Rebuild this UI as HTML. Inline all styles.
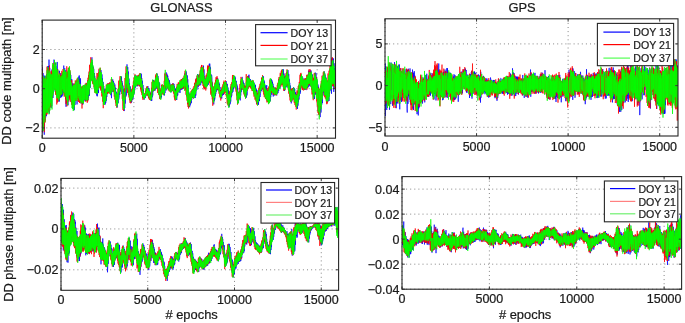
<!DOCTYPE html>
<html><head><meta charset="utf-8"><style>
html,body{margin:0;padding:0;background:#fff;}
svg{display:block;will-change:transform;filter:blur(0.35px);}
text{font-family:"Liberation Sans", sans-serif;fill:#1a1a1a;stroke:#1a1a1a;stroke-width:0.22px;}
</style></head><body>
<svg width="685" height="323" viewBox="0 0 685 323">
<defs><clipPath id="clipTL"><rect x="42.2" y="20.1" width="293.3" height="118.1"/></clipPath><clipPath id="clipTR"><rect x="385.0" y="18.8" width="293.0" height="117.2"/></clipPath><clipPath id="clipBL"><rect x="61.0" y="178.4" width="277.6" height="111.9"/></clipPath><clipPath id="clipBR"><rect x="402.0" y="176.6" width="279.6" height="112.6"/></clipPath></defs>
<rect width="685" height="323" fill="#fff"/>
<line x1="42.20" y1="49.50" x2="335.50" y2="49.50" stroke="#858585" stroke-width="1" stroke-dasharray="1 3.1"/>
<line x1="42.20" y1="88.70" x2="335.50" y2="88.70" stroke="#858585" stroke-width="1" stroke-dasharray="1 3.1"/>
<line x1="42.20" y1="127.90" x2="335.50" y2="127.90" stroke="#858585" stroke-width="1" stroke-dasharray="1 3.1"/>
<line x1="42.20" y1="20.10" x2="42.20" y2="138.20" stroke="#858585" stroke-width="1" stroke-dasharray="1 3.1"/>
<line x1="133.86" y1="20.10" x2="133.86" y2="138.20" stroke="#858585" stroke-width="1" stroke-dasharray="1 3.1"/>
<line x1="225.51" y1="20.10" x2="225.51" y2="138.20" stroke="#858585" stroke-width="1" stroke-dasharray="1 3.1"/>
<line x1="317.17" y1="20.10" x2="317.17" y2="138.20" stroke="#858585" stroke-width="1" stroke-dasharray="1 3.1"/>
<g clip-path="url(#clipTL)"><polyline points="42.00,68.50 42.25,132.60 42.50,67.16 42.75,127.21 43.00,73.09 43.25,81.78 43.50,121.31 43.75,129.17 44.00,75.54 44.25,134.73 44.50,85.38 44.75,115.46 45.00,75.87 45.25,120.49 45.50,84.70 45.75,117.34 46.00,76.59 46.25,115.16 46.50,115.99 46.75,74.08 47.00,111.78 47.25,75.25 47.50,106.57 47.75,66.10 48.00,108.41 48.25,106.31 48.50,66.05 48.75,111.05 49.00,59.58 49.25,113.64 49.50,110.48 49.75,67.83 50.00,103.89 50.25,76.48 50.50,107.03 50.75,77.53 51.00,79.56 51.25,107.84 51.50,75.30 51.75,105.92 52.00,69.45 52.25,97.88 52.50,66.13 52.75,69.20 53.00,97.94 53.25,68.56 53.50,69.96 53.75,92.00 54.00,59.59 54.25,67.74 54.50,86.80 54.75,65.95 55.00,89.72 55.25,86.64 55.50,62.68 55.75,87.83 56.00,66.17 56.25,91.40 56.50,91.80 56.75,93.53 57.00,96.84 57.25,61.96 57.50,98.45 57.75,69.38 58.00,95.58 58.25,97.24 58.50,75.95 58.75,101.46 59.00,77.61 59.25,101.51 59.50,70.76 59.75,76.89 60.00,98.05 60.25,75.95 60.50,97.32 60.75,73.23 61.00,94.43 61.25,97.27 61.50,74.84 61.75,96.82 62.00,77.01 62.25,95.69 62.50,73.34 62.75,93.42 63.00,94.44 63.25,74.37 63.50,89.43 63.75,65.58 64.00,90.52 64.25,73.95 64.50,91.93 64.75,68.21 65.00,96.17 65.25,73.27 65.50,95.40 65.75,70.23 66.00,106.77 66.25,72.99 66.50,103.00 66.75,76.11 67.00,97.49 67.25,74.71 67.50,102.45 67.75,74.30 68.00,105.32 68.25,72.17 68.50,76.51 68.75,100.78 69.00,75.07 69.25,97.80 69.50,70.37 69.75,92.84 70.00,72.46 70.25,95.41 70.50,74.44 70.75,75.78 71.00,75.42 71.25,102.18 71.50,97.54 71.75,79.06 72.00,101.50 72.25,85.00 72.50,105.97 72.75,83.34 73.00,108.84 73.25,83.69 73.50,106.34 73.75,105.45 74.00,85.37 74.25,110.23 74.50,105.26 74.75,86.66 75.00,105.04 75.25,85.82 75.50,99.51 75.75,98.79 76.00,83.47 76.25,96.03 76.50,82.47 76.75,97.19 77.00,104.45 77.25,99.17 77.50,79.54 77.75,98.72 78.00,79.44 78.25,81.73 78.50,99.82 78.75,76.63 79.00,99.83 79.25,75.42 79.50,99.19 79.75,79.38 80.00,82.18 80.25,99.05 80.50,78.33 80.75,101.24 81.00,103.35 81.25,87.57 81.50,102.30 81.75,90.15 82.00,89.15 82.25,103.48 82.50,87.76 82.75,104.82 83.00,86.57 83.25,102.17 83.50,88.38 83.75,88.06 84.00,101.37 84.25,86.57 84.50,99.78 84.75,86.00 85.00,100.23 85.25,84.39 85.50,101.01 85.75,86.31 86.00,97.94 86.25,85.41 86.50,98.69 86.75,84.04 87.00,82.84 87.25,100.95 87.50,84.81 87.75,83.49 88.00,100.29 88.25,80.52 88.50,97.68 88.75,78.86 89.00,95.86 89.25,79.34 89.50,95.38 89.75,74.90 90.00,71.33 90.25,86.14 90.50,87.60 90.75,66.39 91.00,80.79 91.25,64.11 91.50,79.03 91.75,58.65 92.00,57.37 92.25,75.29 92.50,62.21 92.75,81.19 93.00,80.57 93.25,66.63 93.50,80.53 93.75,68.79 94.00,81.97 94.25,73.00 94.50,86.34 94.75,75.83 95.00,89.73 95.25,90.02 95.50,81.16 95.75,92.59 96.00,79.67 96.25,91.31 96.50,82.52 96.75,95.64 97.00,80.01 97.25,96.35 97.50,95.23 97.75,77.11 98.00,93.27 98.25,78.85 98.50,93.01 98.75,75.81 99.00,87.48 99.25,69.67 99.50,85.92 99.75,72.89 100.00,83.26 100.25,69.96 100.50,71.19 100.75,84.99 101.00,70.15 101.25,89.15 101.50,74.37 101.75,92.98 102.00,74.40 102.25,92.49 102.50,78.50 102.75,95.60 103.00,81.78 103.25,82.02 103.50,99.70 103.75,85.95 104.00,103.91 104.25,90.26 104.50,104.33 104.75,89.14 105.00,94.54 105.25,104.53 105.50,92.73 105.75,102.78 106.00,89.39 106.25,100.85 106.50,89.37 106.75,97.02 107.00,95.32 107.25,84.95 107.50,93.65 107.75,91.69 108.00,83.56 108.25,92.05 108.50,84.32 108.75,92.72 109.00,84.40 109.25,91.27 109.50,83.53 109.75,83.01 110.00,85.07 110.25,92.52 110.50,84.58 110.75,95.17 111.00,82.72 111.25,92.94 111.50,98.17 111.75,81.86 112.00,92.24 112.25,80.13 112.50,89.37 112.75,79.35 113.00,91.85 113.25,89.67 113.50,81.15 113.75,89.86 114.00,82.75 114.25,84.51 114.50,92.75 114.75,85.31 115.00,84.64 115.25,96.19 115.50,87.66 115.75,98.71 116.00,91.49 116.25,100.99 116.50,92.31 116.75,104.76 117.00,96.11 117.25,107.45 117.50,96.32 117.75,95.37 118.00,95.16 118.25,103.08 118.50,92.29 118.75,99.51 119.00,97.96 119.25,97.30 119.50,86.13 119.75,94.66 120.00,81.98 120.25,91.66 120.50,79.34 120.75,88.51 121.00,77.49 121.25,86.20 121.50,76.51 121.75,87.59 122.00,81.00 122.25,89.48 122.50,83.15 122.75,94.02 123.00,85.59 123.25,100.60 123.50,89.29 123.75,107.04 124.00,96.41 124.25,111.05 124.50,93.91 124.75,108.00 125.00,95.97 125.25,103.54 125.50,87.58 125.75,97.01 126.00,79.43 126.25,95.57 126.50,75.13 126.75,84.10 127.00,64.37 127.25,81.88 127.50,83.39 127.75,67.14 128.00,90.04 128.25,71.46 128.50,88.69 128.75,92.66 129.00,78.53 129.25,95.75 129.50,83.49 129.75,98.06 130.00,87.78 130.25,98.35 130.50,86.49 130.75,101.89 131.00,93.08 131.25,102.86 131.50,93.31 131.75,101.78 132.00,91.94 132.25,91.95 132.50,91.76 132.75,99.94 133.00,88.63 133.25,97.51 133.50,87.71 133.75,94.85 134.00,82.86 134.25,93.17 134.50,81.85 134.75,90.23 135.00,75.32 135.25,86.21 135.50,87.51 135.75,76.65 136.00,86.07 136.25,75.57 136.50,85.44 136.75,76.70 137.00,76.09 137.25,86.36 137.50,86.07 137.75,76.72 138.00,84.42 138.25,77.25 138.50,84.07 138.75,75.47 139.00,85.43 139.25,75.02 139.50,83.99 139.75,86.21 140.00,76.56 140.25,85.50 140.50,84.43 140.75,73.27 141.00,85.19 141.25,73.88 141.50,87.20 141.75,78.03 142.00,90.00 142.25,80.71 142.50,82.04 142.75,95.88 143.00,84.99 143.25,95.90 143.50,89.53 143.75,98.18 144.00,93.85 144.25,99.66 144.50,93.92 144.75,98.30 145.00,94.39 145.25,98.01 145.50,93.65 145.75,93.56 146.00,96.21 146.25,91.18 146.50,94.72 146.75,89.80 147.00,94.30 147.25,87.85 147.50,93.50 147.75,86.47 148.00,86.09 148.25,94.80 148.50,88.09 148.75,95.25 149.00,88.77 149.25,96.60 149.50,90.73 149.75,97.50 150.00,91.64 150.25,98.44 150.50,93.18 150.75,99.62 151.00,94.43 151.25,100.85 151.50,94.00 151.75,100.76 152.00,89.70 152.25,97.28 152.50,87.96 152.75,95.47 153.00,81.82 153.25,91.47 153.50,80.02 153.75,88.61 154.00,81.39 154.25,90.30 154.50,90.68 154.75,81.91 155.00,89.74 155.25,90.49 155.50,80.56 155.75,87.73 156.00,77.57 156.25,88.94 156.50,77.25 156.75,87.66 157.00,74.02 157.25,73.67 157.50,75.56 157.75,85.56 158.00,75.94 158.25,88.59 158.50,79.44 158.75,91.47 159.00,81.86 159.25,92.04 159.50,83.21 159.75,83.60 160.00,95.24 160.25,96.32 160.50,89.89 160.75,90.50 161.00,98.61 161.25,90.83 161.50,97.19 161.75,89.16 162.00,93.74 162.25,85.68 162.50,92.04 162.75,92.69 163.00,85.59 163.25,92.17 163.50,87.05 163.75,95.18 164.00,89.26 164.25,89.37 164.50,95.42 164.75,84.56 165.00,93.02 165.25,80.35 165.50,88.43 165.75,74.30 166.00,86.00 166.25,90.42 166.50,72.56 166.75,73.46 167.00,86.16 167.25,74.55 167.50,88.58 167.75,75.79 168.00,87.27 168.25,78.44 168.50,88.13 168.75,79.76 169.00,89.66 169.25,80.22 169.50,90.58 169.75,82.75 170.00,90.82 170.25,84.75 170.50,91.80 170.75,84.79 171.00,92.41 171.25,86.01 171.50,91.31 171.75,85.34 172.00,84.75 172.25,91.01 172.50,83.60 172.75,90.70 173.00,84.78 173.25,90.82 173.50,83.50 173.75,91.12 174.00,83.94 174.25,92.68 174.50,86.49 174.75,94.42 175.00,88.15 175.25,98.70 175.50,88.81 175.75,98.97 176.00,92.96 176.25,99.84 176.50,90.91 176.75,99.86 177.00,88.93 177.25,95.96 177.50,86.48 177.75,95.30 178.00,85.09 178.25,83.93 178.50,92.04 178.75,85.14 179.00,92.38 179.25,83.13 179.50,90.30 179.75,82.89 180.00,92.93 180.25,83.31 180.50,81.65 180.75,89.69 181.00,82.69 181.25,81.67 181.50,89.64 181.75,79.26 182.00,79.08 182.25,89.31 182.50,78.52 182.75,88.28 183.00,80.72 183.25,86.87 183.50,78.63 183.75,88.06 184.00,79.11 184.25,86.40 184.50,75.81 184.75,87.82 185.00,72.96 185.25,74.80 185.50,87.53 185.75,72.95 186.00,89.11 186.25,71.38 186.50,88.10 186.75,75.38 187.00,96.10 187.25,75.43 187.50,99.78 187.75,79.26 188.00,101.02 188.25,85.19 188.50,86.94 188.75,107.28 189.00,92.52 189.25,106.65 189.50,106.33 189.75,107.16 190.00,97.06 190.25,105.38 190.50,96.27 190.75,103.68 191.00,94.91 191.25,103.06 191.50,93.93 191.75,99.63 192.00,92.52 192.25,97.66 192.50,90.41 192.75,91.12 193.00,89.83 193.25,98.04 193.50,90.55 193.75,98.41 194.00,97.23 194.25,89.65 194.50,97.56 194.75,87.87 195.00,96.26 195.25,98.00 195.50,83.94 195.75,95.58 196.00,93.71 196.25,78.27 196.50,79.27 196.75,80.71 197.00,89.68 197.25,78.66 197.50,74.27 197.75,86.09 198.00,74.34 198.25,87.26 198.50,84.01 198.75,75.03 199.00,84.19 199.25,76.48 199.50,85.07 199.75,77.05 200.00,85.45 200.25,82.95 200.50,73.14 200.75,84.58 201.00,69.91 201.25,82.45 201.50,68.38 201.75,80.44 202.00,69.15 202.25,82.98 202.50,68.52 202.75,82.28 203.00,79.67 203.25,81.12 203.50,65.59 203.75,81.27 204.00,69.37 204.25,85.62 204.50,87.39 204.75,76.11 205.00,88.47 205.25,87.96 205.50,86.91 205.75,86.91 206.00,78.47 206.25,86.42 206.50,86.39 206.75,86.24 207.00,85.62 207.25,77.30 207.50,86.01 207.75,69.74 208.00,83.50 208.25,73.10 208.50,84.68 208.75,70.00 209.00,82.10 209.25,63.83 209.50,79.27 209.75,63.59 210.00,67.10 210.25,78.94 210.50,67.39 210.75,83.77 211.00,83.90 211.25,84.35 211.50,74.60 211.75,75.43 212.00,77.82 212.25,92.53 212.50,82.73 212.75,96.65 213.00,88.25 213.25,87.81 213.50,88.98 213.75,104.40 214.00,88.14 214.25,101.10 214.50,87.50 214.75,99.46 215.00,86.41 215.25,96.07 215.50,86.02 215.75,94.16 216.00,84.39 216.25,91.79 216.50,80.99 216.75,90.05 217.00,77.73 217.25,79.49 217.50,89.73 217.75,78.37 218.00,90.38 218.25,80.60 218.50,80.10 218.75,89.17 219.00,82.47 219.25,89.37 219.50,83.85 219.75,91.87 220.00,87.01 220.25,94.57 220.50,90.12 220.75,97.00 221.00,90.03 221.25,98.36 221.50,91.16 221.75,98.41 222.00,90.68 222.25,95.71 222.50,95.23 222.75,88.41 223.00,93.81 223.25,86.58 223.50,94.92 223.75,83.98 224.00,83.51 224.25,91.17 224.50,90.35 224.75,83.26 225.00,91.88 225.25,91.21 225.50,83.11 225.75,92.20 226.00,82.23 226.25,81.06 226.50,90.93 226.75,83.53 227.00,95.17 227.25,84.05 227.50,87.44 227.75,98.72 228.00,87.53 228.25,102.11 228.50,90.19 228.75,106.46 229.00,95.13 229.25,106.84 229.50,95.20 229.75,104.75 230.00,95.03 230.25,103.68 230.50,93.41 230.75,101.55 231.00,90.95 231.25,97.27 231.50,86.69 231.75,95.76 232.00,83.73 232.25,92.76 232.50,91.05 232.75,82.38 233.00,91.85 233.25,80.10 233.50,89.16 233.75,77.56 234.00,88.29 234.25,76.26 234.50,85.66 234.75,76.04 235.00,85.36 235.25,77.41 235.50,86.30 235.75,80.84 236.00,86.70 236.25,80.87 236.50,88.26 236.75,83.91 237.00,91.85 237.25,85.59 237.50,95.61 237.75,87.80 238.00,101.14 238.25,92.24 238.50,103.17 238.75,92.72 239.00,93.55 239.25,98.09 239.50,91.28 239.75,98.39 240.00,94.18 240.25,100.40 240.50,90.31 240.75,95.49 241.00,85.33 241.25,92.14 241.50,80.92 241.75,89.73 242.00,77.28 242.25,77.05 242.50,88.03 242.75,88.08 243.00,80.45 243.25,89.80 243.50,82.45 243.75,89.85 244.00,83.08 244.25,93.32 244.50,85.54 244.75,93.77 245.00,87.56 245.25,86.05 245.50,97.74 245.75,86.72 246.00,96.64 246.25,86.37 246.50,97.62 246.75,80.30 247.00,95.41 247.25,91.47 247.50,76.31 247.75,88.59 248.00,76.39 248.25,87.51 248.50,75.70 248.75,85.64 249.00,74.67 249.25,86.63 249.50,78.38 249.75,86.74 250.00,79.46 250.25,86.14 250.50,79.25 250.75,86.07 251.00,81.01 251.25,87.93 251.50,83.06 251.75,87.99 252.00,81.01 252.25,80.64 252.50,88.76 252.75,82.67 253.00,81.22 253.25,89.88 253.50,82.23 253.75,89.95 254.00,82.44 254.25,92.84 254.50,83.84 254.75,95.73 255.00,84.52 255.25,94.78 255.50,85.20 255.75,98.00 256.00,88.62 256.25,99.77 256.50,89.54 256.75,103.76 257.00,90.31 257.25,103.43 257.50,94.46 257.75,93.49 258.00,103.67 258.25,95.03 258.50,104.89 258.75,92.16 259.00,101.08 259.25,91.71 259.50,101.13 259.75,88.28 260.00,97.01 260.25,95.39 260.50,93.41 260.75,92.00 261.00,83.64 261.25,91.13 261.50,89.05 261.75,81.10 262.00,90.16 262.25,79.58 262.50,88.93 262.75,75.96 263.00,88.64 263.25,76.57 263.50,76.35 263.75,90.18 264.00,80.34 264.25,90.54 264.50,81.62 264.75,94.30 265.00,84.97 265.25,85.53 265.50,98.05 265.75,86.22 266.00,88.66 266.25,98.84 266.50,87.59 266.75,85.03 267.00,100.31 267.25,89.70 267.50,91.21 267.75,99.88 268.00,91.74 268.25,100.66 268.50,91.58 268.75,89.03 269.00,100.21 269.25,101.42 269.50,85.46 269.75,101.52 270.00,88.52 270.25,101.15 270.50,82.84 270.75,97.22 271.00,81.29 271.25,92.80 271.50,79.25 271.75,94.70 272.00,80.45 272.25,90.12 272.50,81.91 272.75,92.07 273.00,83.74 273.25,96.53 273.50,86.29 273.75,86.74 274.00,94.27 274.25,95.55 274.50,87.72 274.75,94.93 275.00,94.49 275.25,87.84 275.50,95.03 275.75,88.20 276.00,94.84 276.25,89.02 276.50,89.44 276.75,95.42 277.00,89.37 277.25,89.31 277.50,93.35 277.75,88.66 278.00,93.12 278.25,84.76 278.50,90.27 278.75,90.91 279.00,79.71 279.25,78.62 279.50,88.38 279.75,79.70 280.00,87.96 280.25,86.82 280.50,76.28 280.75,76.75 281.00,84.59 281.25,76.44 281.50,82.93 281.75,72.67 282.00,84.61 282.25,73.60 282.50,83.91 282.75,69.36 283.00,84.76 283.25,69.22 283.50,72.01 283.75,85.89 284.00,73.44 284.25,77.20 284.50,90.94 284.75,76.60 285.00,88.16 285.25,76.72 285.50,77.71 285.75,86.90 286.00,76.11 286.25,86.26 286.50,73.37 286.75,72.76 287.00,87.49 287.25,71.85 287.50,85.45 287.75,71.94 288.00,70.11 288.25,72.99 288.50,85.80 288.75,74.17 289.00,90.03 289.25,79.16 289.50,90.32 289.75,82.84 290.00,92.82 290.25,85.57 290.50,85.76 290.75,97.83 291.00,90.92 291.25,103.39 291.50,90.85 291.75,99.83 292.00,101.30 292.25,91.02 292.50,99.26 292.75,88.26 293.00,98.04 293.25,89.39 293.50,87.20 293.75,88.52 294.00,97.66 294.25,88.02 294.50,97.95 294.75,89.12 295.00,101.01 295.25,92.76 295.50,102.99 295.75,92.14 296.00,103.56 296.25,94.20 296.50,104.30 296.75,94.55 297.00,107.42 297.25,94.56 297.50,108.90 297.75,92.48 298.00,105.69 298.25,92.36 298.50,101.91 298.75,89.77 299.00,99.60 299.25,85.84 299.50,95.79 299.75,83.57 300.00,94.00 300.25,82.09 300.50,92.38 300.75,77.64 301.00,77.65 301.25,86.20 301.50,76.08 301.75,85.08 302.00,76.28 302.25,87.44 302.50,87.67 302.75,77.90 303.00,77.72 303.25,79.17 303.50,87.13 303.75,80.04 304.00,89.53 304.25,89.42 304.50,89.34 304.75,80.36 305.00,89.89 305.25,78.58 305.50,80.78 305.75,87.99 306.00,89.64 306.25,89.82 306.50,78.89 306.75,87.77 307.00,78.48 307.25,88.08 307.50,76.37 307.75,86.92 308.00,75.70 308.25,87.32 308.50,70.59 308.75,73.43 309.00,84.34 309.25,85.14 309.50,71.31 309.75,86.25 310.00,83.00 310.25,70.39 310.50,83.11 310.75,82.98 311.00,70.45 311.25,87.10 311.50,72.72 311.75,84.94 312.00,74.75 312.25,88.39 312.50,74.57 312.75,92.69 313.00,77.45 313.25,79.86 313.50,96.49 313.75,78.94 314.00,96.36 314.25,77.99 314.50,99.06 314.75,77.86 315.00,94.39 315.25,72.51 315.50,74.43 315.75,94.64 316.00,73.12 316.25,92.88 316.50,77.05 316.75,91.16 317.00,93.67 317.25,80.52 317.50,82.64 317.75,101.33 318.00,84.52 318.25,110.79 318.50,86.76 318.75,111.96 319.00,91.31 319.25,114.30 319.50,88.98 319.75,90.76 320.00,114.47 320.25,117.12 320.50,89.56 320.75,111.27 321.00,112.54 321.25,111.66 321.50,84.93 321.75,104.69 322.00,85.79 322.25,101.65 322.50,103.12 322.75,79.28 323.00,95.53 323.25,75.23 323.50,91.98 323.75,73.35 324.00,93.11 324.25,71.39 324.50,91.50 324.75,73.59 325.00,94.21 325.25,75.19 325.50,95.48 325.75,92.96 326.00,78.12 326.25,77.61 326.50,96.82 326.75,80.72 327.00,81.56 327.25,102.54 327.50,102.15 327.75,82.60 328.00,101.48 328.25,80.90 328.50,98.58 328.75,77.82 329.00,100.98 329.25,78.08 329.50,96.00 329.75,69.77 330.00,69.18 330.25,90.72 330.50,68.99 330.75,68.65 331.00,87.49 331.25,66.54 331.50,93.73 331.75,60.89 332.00,86.42 332.25,57.75 332.50,84.22 332.75,58.24 333.00,85.25 333.25,82.82 333.50,58.50 333.75,91.92 334.00,63.20 334.25,64.51 334.50,83.65 334.75,68.14 335.00,69.47 335.25,86.49 335.50,73.44" fill="none" stroke="#0000ff" stroke-width="0.7" stroke-linejoin="round"/><polyline points="42.00,66.01 42.25,131.61 42.50,71.27 42.75,82.61 43.00,127.23 43.25,129.06 43.50,83.69 43.75,125.50 44.00,77.73 44.25,132.22 44.50,78.77 44.75,111.98 45.00,79.97 45.25,122.41 45.50,77.75 45.75,107.04 46.00,79.82 46.25,115.05 46.50,77.89 46.75,105.45 47.00,66.61 47.25,114.31 47.50,67.70 47.75,103.33 48.00,68.44 48.25,110.09 48.50,73.42 48.75,112.29 49.00,69.98 49.25,110.19 49.50,65.43 49.75,105.66 50.00,74.49 50.25,107.48 50.50,77.37 50.75,106.94 51.00,71.26 51.25,103.11 51.50,71.79 51.75,96.79 52.00,70.51 52.25,97.78 52.50,65.16 52.75,94.37 53.00,68.28 53.25,87.16 53.50,66.70 53.75,64.09 54.00,62.84 54.25,88.03 54.50,62.01 54.75,67.30 55.00,90.16 55.25,67.65 55.50,94.78 55.75,68.56 56.00,92.85 56.25,72.10 56.50,98.85 56.75,104.47 57.00,96.84 57.25,69.16 57.50,102.51 57.75,70.78 58.00,70.68 58.25,101.32 58.50,98.80 58.75,76.73 59.00,98.93 59.25,74.55 59.50,98.27 59.75,72.96 60.00,95.24 60.25,74.97 60.50,94.79 60.75,75.85 61.00,95.11 61.25,75.34 61.50,94.69 61.75,70.85 62.00,73.53 62.25,72.85 62.50,90.70 62.75,88.90 63.00,69.08 63.25,91.42 63.50,92.88 63.75,72.15 64.00,96.47 64.25,95.38 64.50,74.35 64.75,95.78 65.00,74.10 65.25,74.93 65.50,99.26 65.75,76.22 66.00,103.97 66.25,79.06 66.50,102.02 66.75,66.27 67.00,106.26 67.25,72.39 67.50,97.89 67.75,71.55 68.00,101.78 68.25,68.16 68.50,95.79 68.75,67.49 69.00,92.38 69.25,68.32 69.50,96.23 69.75,99.58 70.00,70.36 70.25,101.79 70.50,78.01 70.75,99.18 71.00,80.59 71.25,86.50 71.50,104.78 71.75,80.24 72.00,86.24 72.25,87.26 72.50,86.76 72.75,108.03 73.00,86.45 73.25,107.60 73.50,84.06 73.75,105.36 74.00,84.85 74.25,83.54 74.50,100.35 74.75,83.85 75.00,100.83 75.25,80.41 75.50,99.84 75.75,81.15 76.00,100.91 76.25,81.14 76.50,98.30 76.75,79.48 77.00,98.73 77.25,78.20 77.50,99.09 77.75,78.01 78.00,100.79 78.25,101.54 78.50,80.71 78.75,102.01 79.00,82.03 79.25,98.05 79.50,102.81 79.75,87.53 80.00,102.94 80.25,88.46 80.50,100.42 80.75,87.98 81.00,101.71 81.25,86.59 81.50,101.85 81.75,88.93 82.00,108.54 82.25,86.68 82.50,102.65 82.75,85.83 83.00,103.34 83.25,87.93 83.50,102.23 83.75,87.58 84.00,99.54 84.25,85.19 84.50,98.33 84.75,96.92 85.00,98.33 85.25,83.81 85.50,84.76 85.75,101.78 86.00,82.90 86.25,86.51 86.50,100.04 86.75,83.97 87.00,83.25 87.25,102.81 87.50,80.41 87.75,101.45 88.00,77.76 88.25,94.07 88.50,74.99 88.75,94.07 89.00,71.61 89.25,87.80 89.50,65.05 89.75,68.84 90.00,83.64 90.25,64.08 90.50,78.78 90.75,57.27 91.00,75.23 91.25,62.38 91.50,80.10 91.75,62.29 92.00,79.87 92.25,67.19 92.50,83.66 92.75,81.55 93.00,67.84 93.25,83.75 93.50,74.78 93.75,74.43 94.00,87.33 94.25,79.86 94.50,91.09 94.75,92.83 95.00,92.29 95.25,91.19 95.50,82.04 95.75,93.02 96.00,93.47 96.25,80.82 96.50,93.06 96.75,76.91 97.00,72.99 97.25,78.70 97.50,89.77 97.75,73.00 98.00,73.27 98.25,86.24 98.50,72.27 98.75,87.98 99.00,68.72 99.25,86.96 99.50,70.33 99.75,86.55 100.00,87.95 100.25,67.75 100.50,75.57 100.75,90.46 101.00,77.25 101.25,90.50 101.50,79.83 101.75,96.43 102.00,82.11 102.25,84.45 102.50,82.94 102.75,101.71 103.00,85.97 103.25,108.20 103.50,91.26 103.75,104.16 104.00,91.65 104.25,103.37 104.50,93.71 104.75,100.71 105.00,90.63 105.25,100.27 105.50,89.03 105.75,99.20 106.00,94.00 106.25,84.58 106.50,93.35 106.75,85.66 107.00,93.58 107.25,84.20 107.50,93.60 107.75,83.34 108.00,93.17 108.25,84.33 108.50,91.61 108.75,83.14 109.00,93.57 109.25,83.56 109.50,92.02 109.75,82.23 110.00,93.18 110.25,82.94 110.50,93.87 110.75,93.92 111.00,91.04 111.25,79.03 111.50,90.75 111.75,79.61 112.00,89.32 112.25,88.79 112.50,88.98 112.75,82.64 113.00,89.02 113.25,83.72 113.50,91.95 113.75,85.95 114.00,85.09 114.25,96.55 114.50,86.68 114.75,99.46 115.00,98.68 115.25,91.83 115.50,102.64 115.75,94.67 116.00,105.96 116.25,96.83 116.50,106.38 116.75,107.71 117.00,94.09 117.25,102.16 117.50,101.10 117.75,91.46 118.00,88.66 118.25,88.57 118.50,95.73 118.75,80.75 119.00,91.27 119.25,80.37 119.50,90.66 119.75,78.83 120.00,76.16 120.25,87.92 120.50,76.09 120.75,87.60 121.00,80.66 121.25,87.56 121.50,81.77 121.75,94.00 122.00,84.90 122.25,98.87 122.50,90.12 122.75,106.72 123.00,109.94 123.25,93.85 123.50,110.90 123.75,97.39 124.00,105.98 124.25,103.88 124.50,88.71 124.75,99.58 125.00,78.01 125.25,90.21 125.50,73.37 125.75,87.04 126.00,66.45 126.25,85.59 126.50,83.78 126.75,71.45 127.00,88.94 127.25,73.51 127.50,92.85 127.75,89.35 128.00,79.17 128.25,93.77 128.50,94.93 128.75,85.14 129.00,97.41 129.25,89.07 129.50,100.12 129.75,91.45 130.00,102.81 130.25,94.23 130.50,91.70 130.75,103.35 131.00,92.04 131.25,101.19 131.50,89.41 131.75,100.08 132.00,88.96 132.25,88.36 132.50,96.55 132.75,85.42 133.00,96.03 133.25,81.87 133.50,81.19 133.75,89.51 134.00,77.56 134.25,85.51 134.50,84.93 134.75,85.50 135.00,74.21 135.25,84.85 135.50,77.17 135.75,84.33 136.00,85.28 136.25,85.06 136.50,77.02 136.75,85.23 137.00,77.53 137.25,84.21 137.50,75.45 137.75,83.76 138.00,85.33 138.25,76.84 138.50,75.26 138.75,75.94 139.00,86.16 139.25,74.10 139.50,82.70 139.75,73.09 140.00,86.58 140.25,74.50 140.50,89.38 140.75,78.09 141.00,91.58 141.25,78.84 141.50,93.22 141.75,85.03 142.00,95.09 142.25,86.78 142.50,98.34 142.75,91.13 143.00,99.99 143.25,94.33 143.50,99.02 143.75,94.86 144.00,98.41 144.25,94.00 144.50,97.28 144.75,93.15 145.00,96.39 145.25,95.56 145.50,90.75 145.75,94.56 146.00,88.74 146.25,93.91 146.50,87.24 146.75,95.19 147.00,86.05 147.25,95.52 147.50,88.83 147.75,89.41 148.00,96.22 148.25,90.46 148.50,97.92 148.75,91.05 149.00,99.19 149.25,91.14 149.50,99.85 149.75,93.32 150.00,99.42 150.25,100.14 150.50,95.88 150.75,99.47 151.00,92.53 151.25,96.33 151.50,87.76 151.75,93.85 152.00,81.88 152.25,91.70 152.50,80.31 152.75,89.33 153.00,88.73 153.25,81.18 153.50,90.83 153.75,82.11 154.00,90.67 154.25,89.15 154.50,80.52 154.75,89.01 155.00,89.35 155.25,86.72 155.50,75.49 155.75,86.57 156.00,74.13 156.25,86.54 156.50,73.32 156.75,75.70 157.00,87.60 157.25,76.20 157.50,78.45 157.75,93.04 158.00,78.35 158.25,92.26 158.50,84.45 158.75,95.06 159.00,86.43 159.25,88.42 159.50,98.75 159.75,98.71 160.00,91.95 160.25,99.17 160.50,89.81 160.75,95.58 161.00,88.04 161.25,93.69 161.50,84.89 161.75,91.55 162.00,84.56 162.25,92.65 162.50,87.15 162.75,94.31 163.00,94.78 163.25,87.98 163.50,94.84 163.75,85.10 164.00,92.60 164.25,80.80 164.50,89.45 164.75,73.57 165.00,87.14 165.25,72.72 165.50,88.21 165.75,75.43 166.00,87.26 166.25,74.21 166.50,86.26 166.75,77.36 167.00,76.88 167.25,86.55 167.50,80.01 167.75,87.41 168.00,79.90 168.25,90.28 168.50,81.88 168.75,90.13 169.00,84.73 169.25,91.36 169.50,85.26 169.75,85.56 170.00,91.38 170.25,86.78 170.50,86.57 170.75,85.07 171.00,84.84 171.25,91.38 171.50,84.37 171.75,91.00 172.00,90.00 172.25,84.75 172.50,89.59 172.75,83.48 173.00,91.49 173.25,84.08 173.50,93.52 173.75,93.46 174.00,88.05 174.25,97.37 174.50,88.97 174.75,99.84 175.00,92.66 175.25,100.69 175.50,91.26 175.75,98.55 176.00,89.99 176.25,95.82 176.50,86.74 176.75,95.11 177.00,84.23 177.25,83.82 177.50,92.84 177.75,84.78 178.00,92.00 178.25,82.63 178.50,83.77 178.75,90.44 179.00,81.98 179.25,89.68 179.50,89.84 179.75,82.97 180.00,89.92 180.25,80.50 180.50,82.32 180.75,87.93 181.00,79.37 181.25,88.95 181.50,79.14 181.75,87.84 182.00,79.12 182.25,86.80 182.50,79.55 182.75,87.52 183.00,77.78 183.25,89.02 183.50,78.24 183.75,86.04 184.00,76.18 184.25,88.03 184.50,74.21 184.75,87.92 185.00,70.84 185.25,90.46 185.50,72.65 185.75,73.88 186.00,94.78 186.25,75.71 186.50,96.06 186.75,78.92 187.00,100.69 187.25,83.00 187.50,104.29 187.75,90.32 188.00,106.92 188.25,91.99 188.50,108.48 188.75,106.15 189.00,94.75 189.25,106.33 189.50,94.42 189.75,103.13 190.00,94.43 190.25,102.83 190.50,93.92 190.75,99.92 191.00,91.05 191.25,97.22 191.50,97.43 191.75,90.34 192.00,96.69 192.25,89.31 192.50,97.72 192.75,88.95 193.00,96.26 193.25,87.65 193.50,98.35 193.75,87.54 194.00,86.00 194.25,96.16 194.50,82.75 194.75,94.93 195.00,83.40 195.25,93.41 195.50,79.43 195.75,89.43 196.00,78.82 196.25,88.68 196.50,78.00 196.75,87.17 197.00,75.64 197.25,85.60 197.50,75.08 197.75,84.52 198.00,75.07 198.25,84.88 198.50,85.17 198.75,76.98 199.00,85.70 199.25,85.59 199.50,73.89 199.75,82.73 200.00,72.32 200.25,71.08 200.50,82.59 200.75,81.37 201.00,66.72 201.25,80.77 201.50,64.95 201.75,81.13 202.00,65.08 202.25,80.83 202.50,83.24 202.75,67.38 203.00,86.00 203.25,67.56 203.50,87.66 203.75,75.95 204.00,89.49 204.25,87.84 204.50,78.43 204.75,88.70 205.00,78.62 205.25,86.57 205.50,79.22 205.75,90.50 206.00,74.88 206.25,75.48 206.50,86.14 206.75,73.49 207.00,74.19 207.25,83.48 207.50,65.53 207.75,81.07 208.00,67.41 208.25,78.45 208.50,65.63 208.75,79.86 209.00,65.90 209.25,81.80 209.50,67.73 209.75,83.20 210.00,69.35 210.25,86.18 210.50,73.98 210.75,94.67 211.00,78.03 211.25,93.15 211.50,84.11 211.75,96.27 212.00,81.87 212.25,99.38 212.50,90.30 212.75,105.75 213.00,86.96 213.25,101.31 213.50,86.41 213.75,98.16 214.00,87.51 214.25,96.75 214.50,85.49 214.75,82.65 215.00,84.19 215.25,93.24 215.50,79.91 215.75,89.05 216.00,77.19 216.25,88.07 216.50,78.03 216.75,89.83 217.00,76.12 217.25,78.88 217.50,79.33 217.75,88.96 218.00,80.43 218.25,89.77 218.50,84.76 218.75,85.54 219.00,93.68 219.25,87.68 219.50,90.31 219.75,96.69 220.00,90.40 220.25,98.11 220.50,90.32 220.75,100.54 221.00,90.92 221.25,96.54 221.50,88.53 221.75,94.92 222.00,86.77 222.25,92.73 222.50,85.39 222.75,85.60 223.00,84.14 223.25,91.18 223.50,81.98 223.75,89.87 224.00,80.60 224.25,94.18 224.50,83.57 224.75,92.83 225.00,82.09 225.25,92.66 225.50,80.42 225.75,91.97 226.00,83.10 226.25,96.45 226.50,87.73 226.75,88.86 227.00,101.76 227.25,103.71 227.50,91.15 227.75,104.55 228.00,93.25 228.25,105.95 228.50,95.61 228.75,105.54 229.00,96.03 229.25,103.95 229.50,91.49 229.75,100.03 230.00,90.91 230.25,98.58 230.50,86.66 230.75,95.74 231.00,84.00 231.25,91.90 231.50,83.82 231.75,82.22 232.00,89.10 232.25,80.22 232.50,74.97 232.75,87.81 233.00,77.52 233.25,84.85 233.50,75.05 233.75,85.89 234.00,78.44 234.25,86.62 234.50,77.25 234.75,86.63 235.00,86.49 235.25,81.09 235.50,88.14 235.75,83.54 236.00,91.63 236.25,86.50 236.50,95.48 236.75,87.68 237.00,100.31 237.25,92.76 237.50,104.64 237.75,94.37 238.00,100.38 238.25,91.63 238.50,92.20 238.75,92.48 239.00,99.66 239.25,92.07 239.50,98.09 239.75,86.14 240.00,84.00 240.25,91.92 240.50,80.85 240.75,89.79 241.00,76.89 241.25,88.41 241.50,78.39 241.75,87.19 242.00,80.54 242.25,88.48 242.50,82.89 242.75,89.73 243.00,83.89 243.25,84.75 243.50,92.15 243.75,85.65 244.00,94.53 244.25,87.41 244.50,96.31 244.75,85.99 245.00,88.43 245.25,85.58 245.50,98.43 245.75,96.21 246.00,80.55 246.25,74.14 246.50,89.30 246.75,87.97 247.00,77.00 247.25,90.79 247.50,76.10 247.75,76.06 248.00,89.25 248.25,76.46 248.50,84.96 248.75,78.72 249.00,87.17 249.25,80.12 249.50,87.21 249.75,81.24 250.00,86.38 250.25,82.40 250.50,87.61 250.75,81.41 251.00,88.87 251.25,80.85 251.50,88.61 251.75,81.28 252.00,91.02 252.25,80.78 252.50,90.81 252.75,82.16 253.00,91.12 253.25,80.36 253.50,93.59 253.75,84.82 254.00,96.58 254.25,86.68 254.50,95.22 254.75,88.07 255.00,99.65 255.25,89.95 255.50,99.00 255.75,90.82 256.00,101.40 256.25,91.25 256.50,103.46 256.75,104.57 257.00,94.35 257.25,95.24 257.50,105.38 257.75,93.15 258.00,100.77 258.25,91.73 258.50,99.34 258.75,88.14 259.00,96.26 259.25,86.67 259.50,94.28 259.75,85.76 260.00,83.84 260.25,90.19 260.50,83.12 260.75,89.46 261.00,81.36 261.25,88.02 261.50,77.61 261.75,86.18 262.00,77.58 262.25,86.76 262.50,75.11 262.75,89.37 263.00,77.88 263.25,91.89 263.50,81.80 263.75,94.51 264.00,83.69 264.25,97.06 264.50,86.83 264.75,96.00 265.00,88.05 265.25,98.09 265.50,87.57 265.75,98.88 266.00,89.21 266.25,99.30 266.50,91.51 266.75,101.14 267.00,102.44 267.25,91.21 267.50,101.84 267.75,88.09 268.00,100.36 268.25,90.14 268.50,103.62 268.75,86.58 269.00,101.58 269.25,86.58 269.50,99.10 269.75,79.61 270.00,92.77 270.25,94.55 270.50,80.90 270.75,91.01 271.00,82.16 271.25,91.92 271.50,83.04 271.75,93.08 272.00,84.44 272.25,92.24 272.50,85.86 272.75,85.99 273.00,87.81 273.25,94.66 273.50,87.67 273.75,88.21 274.00,94.94 274.25,88.63 274.50,93.93 274.75,94.39 275.00,94.54 275.25,88.90 275.50,94.32 275.75,87.28 276.00,95.55 276.25,89.87 276.50,94.51 276.75,88.42 277.00,92.65 277.25,84.86 277.50,90.61 277.75,82.80 278.00,88.37 278.25,89.38 278.50,79.46 278.75,88.53 279.00,77.02 279.25,87.86 279.50,77.37 279.75,87.04 280.00,75.67 280.25,72.81 280.50,83.17 280.75,73.76 281.00,86.35 281.25,70.88 281.50,84.42 281.75,69.60 282.00,84.74 282.25,70.02 282.50,84.96 282.75,74.31 283.00,86.64 283.25,76.80 283.50,89.81 283.75,90.92 284.00,79.85 284.25,89.84 284.50,78.81 284.75,89.53 285.00,76.06 285.25,85.57 285.50,75.62 285.75,86.15 286.00,73.25 286.25,83.10 286.50,72.49 286.75,82.61 287.00,69.37 287.25,85.71 287.50,72.35 287.75,85.99 288.00,75.42 288.25,89.52 288.50,79.53 288.75,93.70 289.00,83.82 289.25,86.36 289.50,96.51 289.75,89.25 290.00,100.43 290.25,91.74 290.50,100.17 290.75,90.36 291.00,101.91 291.25,89.16 291.50,100.64 291.75,88.73 292.00,100.27 292.25,88.04 292.50,96.95 292.75,96.61 293.00,88.35 293.25,97.22 293.50,99.50 293.75,90.99 294.00,101.31 294.25,102.81 294.50,91.68 294.75,103.56 295.00,105.08 295.25,95.59 295.50,94.28 295.75,106.78 296.00,95.59 296.25,109.54 296.50,95.98 296.75,106.53 297.00,90.36 297.25,103.45 297.50,90.70 297.75,100.09 298.00,97.67 298.25,86.03 298.50,96.26 298.75,85.42 299.00,94.94 299.25,81.95 299.50,90.82 299.75,79.26 300.00,74.78 300.25,88.06 300.50,73.57 300.75,85.74 301.00,72.88 301.25,86.10 301.50,75.53 301.75,87.85 302.00,78.33 302.25,89.79 302.50,79.36 302.75,89.72 303.00,79.75 303.25,90.39 303.50,90.39 303.75,90.32 304.00,79.51 304.25,80.71 304.50,88.64 304.75,78.40 305.00,89.54 305.25,79.94 305.50,88.48 305.75,78.17 306.00,88.03 306.25,78.63 306.50,87.22 306.75,74.92 307.00,89.59 307.25,74.66 307.50,87.43 307.75,84.18 308.00,74.86 308.25,85.21 308.50,83.80 308.75,84.54 309.00,69.27 309.25,83.18 309.50,72.25 309.75,84.73 310.00,69.09 310.25,83.32 310.50,72.98 310.75,86.42 311.00,86.16 311.25,75.55 311.50,89.54 311.75,76.44 312.00,94.47 312.25,77.37 312.50,94.08 312.75,82.05 313.00,96.49 313.25,100.20 313.50,78.31 313.75,93.75 314.00,73.40 314.25,73.27 314.50,92.38 314.75,73.12 315.00,76.58 315.25,90.10 315.50,77.67 315.75,93.03 316.00,76.81 316.25,95.27 316.50,99.17 316.75,101.58 317.00,83.59 317.25,105.77 317.50,86.87 317.75,87.60 318.00,113.06 318.25,87.66 318.50,114.70 318.75,88.46 319.00,114.22 319.25,95.29 319.50,115.39 319.75,113.09 320.00,88.87 320.25,107.34 320.50,85.60 320.75,87.72 321.00,101.77 321.25,81.03 321.50,100.52 321.75,99.27 322.00,75.69 322.25,96.67 322.50,77.30 322.75,88.69 323.00,89.71 323.25,72.30 323.50,90.40 323.75,71.57 324.00,94.23 324.25,96.02 324.50,96.82 324.75,76.88 325.00,94.88 325.25,98.35 325.50,79.80 325.75,81.20 326.00,99.33 326.25,82.46 326.50,103.13 326.75,104.21 327.00,81.48 327.25,103.60 327.50,80.67 327.75,100.26 328.00,73.49 328.25,97.17 328.50,76.34 328.75,96.57 329.00,70.68 329.25,91.88 329.50,70.49 329.75,88.35 330.00,64.24 330.25,89.38 330.50,64.13 330.75,84.70 331.00,60.22 331.25,85.24 331.50,61.95 331.75,58.43 332.00,84.47 332.25,57.21 332.50,86.12 332.75,62.95 333.00,83.16 333.25,67.12 333.50,65.43 333.75,86.04 334.00,70.49 334.25,87.03 334.50,72.55 334.75,88.89 335.00,75.88 335.25,88.19 335.50,75.59" fill="none" stroke="#ff0000" stroke-width="0.7" stroke-linejoin="round"/><polyline points="42.00,71.14 42.25,120.02 42.50,79.14 42.75,130.28 43.00,83.77 43.25,131.08 43.50,76.18 43.75,118.80 44.00,83.82 44.25,116.15 44.50,78.41 44.75,122.38 45.00,121.52 45.25,112.19 45.50,75.72 45.75,113.60 46.00,82.39 46.25,108.84 46.50,79.16 46.75,112.59 47.00,70.30 47.25,112.70 47.50,74.47 47.75,112.85 48.00,66.97 48.25,108.20 48.50,108.11 48.75,73.05 49.00,114.32 49.25,70.53 49.50,106.33 49.75,72.39 50.00,110.46 50.25,73.84 50.50,103.12 50.75,78.07 51.00,101.10 51.25,74.05 51.50,105.46 51.75,75.20 52.00,109.54 52.25,102.96 52.50,63.20 52.75,95.86 53.00,95.75 53.25,69.69 53.50,92.90 53.75,65.29 54.00,64.03 54.25,90.02 54.50,60.03 54.75,87.91 55.00,65.04 55.25,90.96 55.50,64.81 55.75,88.86 56.00,62.41 56.25,93.74 56.50,68.19 56.75,98.29 57.00,72.30 57.25,74.01 57.50,98.23 57.75,69.73 58.00,96.09 58.25,77.33 58.50,100.60 58.75,74.83 59.00,97.76 59.25,99.41 59.50,73.70 59.75,78.92 60.00,97.01 60.25,76.43 60.50,94.38 60.75,92.66 61.00,78.26 61.25,94.68 61.50,75.67 61.75,75.34 62.00,94.19 62.25,76.32 62.50,89.15 62.75,72.31 63.00,89.68 63.25,72.24 63.50,91.58 63.75,69.78 64.00,93.14 64.25,69.02 64.50,92.10 64.75,72.24 65.00,96.83 65.25,71.47 65.50,71.41 65.75,95.88 66.00,74.59 66.25,71.93 66.50,99.27 66.75,78.93 67.00,100.39 67.25,77.52 67.50,103.05 67.75,105.04 68.00,70.49 68.25,100.89 68.50,68.27 68.75,95.51 69.00,69.61 69.25,95.00 69.50,66.26 69.75,95.33 70.00,70.54 70.25,95.04 70.50,75.00 70.75,99.41 71.00,99.69 71.25,82.44 71.50,101.60 71.75,85.18 72.00,108.08 72.25,87.33 72.50,86.45 72.75,108.99 73.00,87.37 73.25,111.04 73.50,84.59 73.75,110.01 74.00,84.75 74.25,106.74 74.50,84.63 74.75,103.49 75.00,85.16 75.25,100.94 75.50,82.98 75.75,97.97 76.00,80.55 76.25,100.14 76.50,98.30 76.75,81.98 77.00,100.67 77.25,81.36 77.50,81.50 77.75,77.44 78.00,98.36 78.25,82.10 78.50,96.06 78.75,79.61 79.00,99.74 79.25,99.37 79.50,83.96 79.75,100.51 80.00,86.21 80.25,83.99 80.50,101.32 80.75,86.60 81.00,103.48 81.25,102.50 81.50,88.45 81.75,101.22 82.00,102.44 82.25,86.40 82.50,103.11 82.75,88.74 83.00,101.56 83.25,85.08 83.50,103.69 83.75,85.24 84.00,99.85 84.25,87.59 84.50,99.43 84.75,84.98 85.00,99.72 85.25,97.67 85.50,83.94 85.75,85.50 86.00,100.14 86.25,86.23 86.50,101.11 86.75,85.38 87.00,100.28 87.25,83.25 87.50,98.25 87.75,81.25 88.00,100.01 88.25,80.82 88.50,94.40 88.75,79.46 89.00,94.90 89.25,73.63 89.50,89.33 89.75,71.54 90.00,87.66 90.25,82.14 90.50,85.06 90.75,63.05 91.00,81.34 91.25,62.05 91.50,78.63 91.75,59.26 92.00,80.88 92.25,60.14 92.50,79.97 92.75,79.88 93.00,65.34 93.25,84.64 93.50,68.88 93.75,83.30 94.00,72.97 94.25,88.96 94.50,78.40 94.75,88.75 95.00,92.64 95.25,77.85 95.50,93.14 95.75,81.08 96.00,92.48 96.25,79.69 96.50,80.08 96.75,93.98 97.00,80.80 97.25,93.64 97.50,79.25 97.75,89.57 98.00,76.86 98.25,87.99 98.50,89.73 98.75,87.02 99.00,72.72 99.25,86.79 99.50,70.03 99.75,84.05 100.00,67.75 100.25,85.99 100.50,72.62 100.75,85.49 101.00,73.92 101.25,86.51 101.50,72.34 101.75,92.73 102.00,80.28 102.25,79.48 102.50,94.45 102.75,82.18 103.00,100.20 103.25,84.63 103.50,104.82 103.75,89.32 104.00,103.22 104.25,93.14 104.50,104.86 104.75,93.63 105.00,94.57 105.25,101.70 105.50,90.74 105.75,101.22 106.00,87.85 106.25,95.87 106.50,85.14 106.75,94.58 107.00,83.83 107.25,84.56 107.50,91.81 107.75,85.69 108.00,91.63 108.25,84.35 108.50,92.19 108.75,84.17 109.00,90.98 109.25,84.15 109.50,84.38 109.75,93.63 110.00,83.95 110.25,82.65 110.50,94.65 110.75,83.34 111.00,83.25 111.25,93.03 111.50,77.13 111.75,79.30 112.00,89.85 112.25,80.91 112.50,91.53 112.75,89.05 113.00,82.36 113.25,88.46 113.50,82.86 113.75,89.78 114.00,85.46 114.25,93.48 114.50,86.97 114.75,95.59 115.00,88.60 115.25,99.63 115.50,91.32 115.75,100.05 116.00,92.58 116.25,103.89 116.50,94.07 116.75,107.09 117.00,97.96 117.25,104.83 117.50,93.37 117.75,104.01 118.00,91.25 118.25,88.94 118.50,99.39 118.75,88.29 119.00,93.68 119.25,85.50 119.50,91.52 119.75,80.13 120.00,90.32 120.25,79.64 120.50,87.20 120.75,76.06 121.00,86.32 121.25,89.05 121.50,88.84 121.75,82.27 122.00,89.76 122.25,93.80 122.50,85.99 122.75,100.74 123.00,88.26 123.25,93.61 123.50,109.25 123.75,97.21 124.00,97.83 124.25,109.18 124.50,92.99 124.75,91.89 125.00,100.00 125.25,99.13 125.50,80.67 125.75,91.63 126.00,73.54 126.25,83.73 126.50,69.24 126.75,66.07 127.00,85.45 127.25,88.37 127.50,69.49 127.75,86.47 128.00,74.44 128.25,89.90 128.50,77.94 128.75,94.50 129.00,94.55 129.25,84.21 129.50,98.41 129.75,97.77 130.00,87.36 130.25,100.56 130.50,92.07 130.75,101.68 131.00,93.72 131.25,93.11 131.50,100.37 131.75,91.44 132.00,99.50 132.25,89.60 132.50,89.98 132.75,97.96 133.00,88.80 133.25,96.86 133.50,83.22 133.75,91.66 134.00,79.88 134.25,93.89 134.50,77.82 134.75,75.94 135.00,87.15 135.25,75.54 135.50,86.12 135.75,75.28 136.00,84.39 136.25,77.59 136.50,86.25 136.75,76.02 137.00,85.06 137.25,76.48 137.50,83.91 137.75,77.61 138.00,83.90 138.25,77.67 138.50,84.73 138.75,75.81 139.00,84.48 139.25,76.22 139.50,85.10 139.75,74.39 140.00,84.05 140.25,73.48 140.50,87.25 140.75,85.92 141.00,78.42 141.25,87.47 141.50,79.04 141.75,80.64 142.00,92.50 142.25,84.02 142.50,96.37 142.75,88.08 143.00,97.04 143.25,91.11 143.50,98.75 143.75,93.49 144.00,98.47 144.25,94.37 144.50,98.80 144.75,94.18 145.00,97.13 145.25,94.08 145.50,96.38 145.75,91.88 146.00,94.80 146.25,89.44 146.50,94.60 146.75,87.76 147.00,93.52 147.25,87.75 147.50,93.58 147.75,88.54 148.00,88.37 148.25,95.72 148.50,89.28 148.75,96.44 149.00,91.47 149.25,97.49 149.50,91.05 149.75,98.90 150.00,98.53 150.25,99.97 150.50,100.36 150.75,95.17 151.00,99.90 151.25,93.45 151.50,98.96 151.75,89.27 152.00,96.45 152.25,82.34 152.50,90.49 152.75,79.45 153.00,90.51 153.25,81.37 153.50,82.20 153.75,82.45 154.00,91.04 154.25,82.76 154.50,88.78 154.75,81.52 155.00,88.67 155.25,79.55 155.50,88.13 155.75,77.78 156.00,88.18 156.25,76.77 156.50,86.13 156.75,73.33 157.00,86.20 157.25,75.01 157.50,87.38 157.75,76.81 158.00,88.84 158.25,78.69 158.50,92.95 158.75,94.06 159.00,82.34 159.25,82.71 159.50,95.75 159.75,88.85 160.00,98.51 160.25,91.99 160.50,92.40 160.75,99.94 161.00,90.60 161.25,96.06 161.50,87.51 161.75,93.31 162.00,86.02 162.25,92.89 162.50,84.36 162.75,91.83 163.00,86.55 163.25,93.37 163.50,88.39 163.75,95.15 164.00,88.60 164.25,86.36 164.50,93.53 164.75,81.24 165.00,90.59 165.25,69.86 165.50,85.63 165.75,75.84 166.00,86.04 166.25,75.57 166.50,89.29 166.75,77.50 167.00,87.63 167.25,77.53 167.50,85.95 167.75,79.10 168.00,88.38 168.25,80.14 168.50,81.80 168.75,89.79 169.00,82.23 169.25,90.61 169.50,84.06 169.75,90.97 170.00,85.04 170.25,91.93 170.50,90.90 170.75,92.44 171.00,90.84 171.25,84.40 171.50,91.38 171.75,85.91 172.00,89.95 172.25,90.80 172.50,85.08 172.75,84.81 173.00,90.10 173.25,84.47 173.50,91.74 173.75,85.95 174.00,92.14 174.25,87.64 174.50,88.96 174.75,95.65 175.00,91.06 175.25,98.39 175.50,92.39 175.75,99.88 176.00,90.93 176.25,98.82 176.50,88.15 176.75,97.27 177.00,87.01 177.25,93.13 177.50,84.66 177.75,92.90 178.00,84.21 178.25,91.86 178.50,84.90 178.75,91.96 179.00,89.77 179.25,84.02 179.50,90.35 179.75,80.40 180.00,88.42 180.25,82.21 180.50,88.33 180.75,80.90 181.00,88.49 181.25,82.11 181.50,88.13 181.75,80.46 182.00,87.57 182.25,79.40 182.50,87.90 182.75,79.22 183.00,87.17 183.25,78.22 183.50,85.98 183.75,78.17 184.00,86.25 184.25,74.95 184.50,90.69 184.75,86.41 185.00,74.69 185.25,85.94 185.50,69.69 185.75,69.81 186.00,87.89 186.25,75.17 186.50,94.69 186.75,78.17 187.00,97.37 187.25,82.54 187.50,102.73 187.75,83.68 188.00,102.19 188.25,87.49 188.50,90.78 188.75,92.00 189.00,106.52 189.25,93.97 189.50,104.47 189.75,96.95 190.00,103.49 190.25,94.88 190.50,101.44 190.75,92.87 191.00,100.91 191.25,92.05 191.50,99.32 191.75,90.98 192.00,96.64 192.25,89.94 192.50,97.39 192.75,89.68 193.00,96.90 193.25,89.84 193.50,98.17 193.75,88.41 194.00,96.73 194.25,88.35 194.50,97.96 194.75,86.54 195.00,94.47 195.25,83.95 195.50,93.62 195.75,92.30 196.00,82.41 196.25,91.18 196.50,89.15 196.75,87.02 197.00,87.17 197.25,75.61 197.50,85.37 197.75,74.32 198.00,84.33 198.25,84.86 198.50,85.17 198.75,77.55 199.00,84.66 199.25,77.62 199.50,83.72 199.75,74.87 200.00,74.76 200.25,69.92 200.50,83.83 200.75,72.05 201.00,80.80 201.25,67.57 201.50,80.47 201.75,68.67 202.00,81.76 202.25,67.79 202.50,80.27 202.75,67.01 203.00,79.83 203.25,84.40 203.50,72.60 203.75,83.48 204.00,75.80 204.25,86.47 204.50,78.66 204.75,79.22 205.00,86.69 205.25,78.97 205.50,86.87 205.75,79.38 206.00,87.09 206.25,87.88 206.50,77.28 206.75,87.26 207.00,76.57 207.25,86.07 207.50,73.48 207.75,82.85 208.00,71.29 208.25,83.56 208.50,68.93 208.75,80.50 209.00,77.62 209.25,66.95 209.50,80.60 209.75,66.44 210.00,81.55 210.25,69.48 210.50,82.83 210.75,87.42 211.00,75.49 211.25,77.10 211.50,90.55 211.75,81.19 212.00,96.32 212.25,86.16 212.50,97.24 212.75,87.08 213.00,88.25 213.25,102.45 213.50,91.30 213.75,102.25 214.00,87.18 214.25,97.92 214.50,84.50 214.75,97.74 215.00,85.16 215.25,93.31 215.50,83.38 215.75,92.30 216.00,81.89 216.25,88.04 216.50,79.83 216.75,89.38 217.00,79.13 217.25,88.44 217.50,79.40 217.75,80.41 218.00,88.94 218.25,82.04 218.50,79.62 218.75,90.46 219.00,84.59 219.25,92.10 219.50,87.16 219.75,94.36 220.00,94.99 220.25,91.57 220.50,97.42 220.75,91.54 221.00,97.38 221.25,90.95 221.50,96.47 221.75,89.76 222.00,89.23 222.25,93.81 222.50,88.05 222.75,93.57 223.00,86.81 223.25,92.69 223.50,84.20 223.75,92.19 224.00,90.04 224.25,82.23 224.50,83.61 224.75,81.65 225.00,91.66 225.25,83.12 225.50,91.44 225.75,82.00 226.00,82.83 226.25,92.49 226.50,94.95 226.75,85.07 227.00,98.22 227.25,86.71 227.50,100.27 227.75,89.46 228.00,104.79 228.25,94.96 228.50,94.35 228.75,108.02 229.00,107.55 229.25,94.92 229.50,103.25 229.75,94.34 230.00,102.05 230.25,90.72 230.50,99.71 230.75,89.80 231.00,95.71 231.25,85.43 231.50,93.02 231.75,84.06 232.00,91.73 232.25,92.01 232.50,79.62 232.75,88.97 233.00,79.30 233.25,87.27 233.50,75.88 233.75,87.31 234.00,75.32 234.25,86.78 234.50,76.40 234.75,86.06 235.00,79.02 235.25,80.41 235.50,81.27 235.75,87.81 236.00,82.04 236.25,89.93 236.50,85.70 236.75,94.27 237.00,96.97 237.25,99.47 237.50,90.29 237.75,104.02 238.00,93.73 238.25,103.00 238.50,92.63 238.75,97.03 239.00,92.46 239.25,97.81 239.50,94.21 239.75,98.97 240.00,90.49 240.25,97.43 240.50,84.85 240.75,91.78 241.00,79.55 241.25,88.14 241.50,78.42 241.75,85.91 242.00,87.85 242.25,78.79 242.50,89.01 242.75,82.62 243.00,83.06 243.25,90.14 243.50,91.71 243.75,83.92 244.00,85.84 244.25,93.82 244.50,88.21 244.75,88.42 245.00,96.57 245.25,87.96 245.50,98.64 245.75,87.48 246.00,96.60 246.25,81.90 246.50,92.48 246.75,81.39 247.00,77.54 247.25,90.33 247.50,76.61 247.75,88.46 248.00,77.77 248.25,85.93 248.50,78.25 248.75,86.60 249.00,78.15 249.25,84.93 249.50,78.71 249.75,79.64 250.00,86.43 250.25,80.26 250.50,85.80 250.75,81.32 251.00,82.69 251.25,82.04 251.50,88.06 251.75,82.01 252.00,90.00 252.25,79.91 252.50,90.41 252.75,80.86 253.00,90.54 253.25,80.84 253.50,92.54 253.75,83.24 254.00,92.48 254.25,95.07 254.50,83.64 254.75,96.12 255.00,87.48 255.25,97.40 255.50,89.33 255.75,97.95 256.00,99.01 256.25,100.99 256.50,93.25 256.75,91.86 257.00,102.97 257.25,95.65 257.50,105.51 257.75,94.70 258.00,95.34 258.25,94.25 258.50,101.95 258.75,90.55 259.00,99.18 259.25,90.38 259.50,95.32 259.75,88.48 260.00,93.04 260.25,85.27 260.50,90.57 260.75,84.31 261.00,81.83 261.25,90.06 261.50,79.55 261.75,88.79 262.00,79.57 262.25,87.95 262.50,76.21 262.75,87.51 263.00,77.44 263.25,87.24 263.50,77.99 263.75,81.55 264.00,91.38 264.25,83.00 264.50,93.55 264.75,83.90 265.00,96.91 265.25,88.34 265.50,98.63 265.75,98.35 266.00,90.12 266.25,97.84 266.50,89.64 266.75,99.64 267.00,91.00 267.25,100.54 267.50,91.39 267.75,101.34 268.00,91.23 268.25,101.85 268.50,104.18 268.75,89.22 269.00,103.01 269.25,88.14 269.50,103.22 269.75,84.08 270.00,101.74 270.25,78.37 270.50,95.11 270.75,78.44 271.00,91.05 271.25,81.12 271.50,90.79 271.75,82.80 272.00,83.29 272.25,92.54 272.50,84.44 272.75,92.45 273.00,87.29 273.25,93.15 273.50,88.30 273.75,88.32 274.00,93.48 274.25,87.51 274.50,94.62 274.75,89.11 275.00,93.92 275.25,93.96 275.50,94.42 275.75,88.64 276.00,93.81 276.25,89.90 276.50,94.92 276.75,90.20 277.00,94.04 277.25,88.05 277.50,87.12 277.75,90.90 278.00,83.80 278.25,89.58 278.50,81.36 278.75,89.17 279.00,79.79 279.25,88.65 279.50,77.35 279.75,87.70 280.00,78.82 280.25,85.53 280.50,76.07 280.75,84.47 281.00,75.91 281.25,84.22 281.50,74.29 281.75,83.04 282.00,72.41 282.25,82.44 282.50,69.47 282.75,71.26 283.00,85.10 283.25,75.28 283.50,88.72 283.75,74.93 284.00,89.08 284.25,78.28 284.50,88.11 284.75,78.44 285.00,79.73 285.25,90.20 285.50,76.43 285.75,86.53 286.00,76.47 286.25,86.06 286.50,73.75 286.75,83.74 287.00,83.34 287.25,69.88 287.50,84.19 287.75,72.80 288.00,87.72 288.25,75.74 288.50,90.30 288.75,78.27 289.00,91.47 289.25,81.85 289.50,93.86 289.75,85.24 290.00,96.35 290.25,97.52 290.50,89.79 290.75,101.80 291.00,90.75 291.25,101.26 291.50,91.26 291.75,99.43 292.00,90.42 292.25,100.01 292.50,99.23 292.75,88.77 293.00,89.62 293.25,97.91 293.50,97.97 293.75,87.59 294.00,88.64 294.25,99.39 294.50,91.48 294.75,101.67 295.00,93.98 295.25,102.31 295.50,95.12 295.75,105.27 296.00,105.71 296.25,96.75 296.50,107.88 296.75,94.86 297.00,106.40 297.25,94.89 297.50,103.14 297.75,93.51 298.00,103.36 298.25,88.95 298.50,97.90 298.75,95.84 299.00,84.59 299.25,96.08 299.50,83.26 299.75,91.50 300.00,89.39 300.25,89.92 300.50,76.88 300.75,87.60 301.00,76.27 301.25,85.12 301.50,74.17 301.75,85.29 302.00,76.12 302.25,86.16 302.50,78.22 302.75,86.77 303.00,86.87 303.25,88.25 303.50,80.43 303.75,88.07 304.00,79.74 304.25,88.00 304.50,79.79 304.75,80.83 305.00,89.59 305.25,79.92 305.50,88.78 305.75,79.85 306.00,88.18 306.25,79.12 306.50,88.71 306.75,78.87 307.00,76.21 307.25,87.44 307.50,77.03 307.75,85.98 308.00,74.77 308.25,84.12 308.50,74.89 308.75,83.58 309.00,71.98 309.25,83.94 309.50,73.73 309.75,72.45 310.00,83.45 310.25,72.66 310.50,85.47 310.75,85.77 311.00,73.98 311.25,86.19 311.50,71.70 311.75,88.60 312.00,74.92 312.25,92.47 312.50,92.56 312.75,80.77 313.00,94.15 313.25,98.92 313.50,80.91 313.75,96.32 314.00,80.10 314.25,96.37 314.50,75.44 314.75,89.14 315.00,73.39 315.25,91.82 315.50,76.09 315.75,91.44 316.00,77.71 316.25,94.68 316.50,98.66 316.75,80.08 317.00,98.10 317.25,78.87 317.50,85.66 317.75,105.32 318.00,88.08 318.25,111.73 318.50,108.71 318.75,109.28 319.00,88.56 319.25,119.37 319.50,89.97 319.75,113.05 320.00,110.61 320.25,87.47 320.50,89.50 320.75,106.09 321.00,83.63 321.25,109.27 321.50,103.73 321.75,80.35 322.00,83.76 322.25,99.39 322.50,77.11 322.75,92.02 323.00,75.77 323.25,91.54 323.50,75.69 323.75,90.89 324.00,71.52 324.25,89.12 324.50,76.35 324.75,95.07 325.00,73.62 325.25,94.76 325.50,78.74 325.75,95.72 326.00,78.52 326.25,101.25 326.50,78.54 326.75,100.82 327.00,82.64 327.25,101.20 327.50,81.71 327.75,101.25 328.00,80.05 328.25,97.72 328.50,75.21 328.75,99.89 329.00,93.67 329.25,96.75 329.50,72.58 329.75,92.58 330.00,68.11 330.25,88.64 330.50,65.19 330.75,86.55 331.00,61.39 331.25,89.43 331.50,63.68 331.75,83.59 332.00,61.66 332.25,84.50 332.50,60.84 332.75,83.11 333.00,60.06 333.25,83.16 333.50,65.82 333.75,84.15 334.00,65.84 334.25,83.73 334.50,70.15 334.75,87.05 335.00,75.38 335.25,86.62 335.50,77.32" fill="none" stroke="#00ff00" stroke-width="0.7" stroke-linejoin="round"/></g>
<line x1="42.20" y1="49.50" x2="45.00" y2="49.50" stroke="#3a3a3a" stroke-width="1"/>
<line x1="332.70" y1="49.50" x2="335.50" y2="49.50" stroke="#3a3a3a" stroke-width="1"/>
<line x1="42.20" y1="88.70" x2="45.00" y2="88.70" stroke="#3a3a3a" stroke-width="1"/>
<line x1="332.70" y1="88.70" x2="335.50" y2="88.70" stroke="#3a3a3a" stroke-width="1"/>
<line x1="42.20" y1="127.90" x2="45.00" y2="127.90" stroke="#3a3a3a" stroke-width="1"/>
<line x1="332.70" y1="127.90" x2="335.50" y2="127.90" stroke="#3a3a3a" stroke-width="1"/>
<line x1="42.20" y1="138.20" x2="42.20" y2="135.40" stroke="#3a3a3a" stroke-width="1"/>
<line x1="42.20" y1="20.10" x2="42.20" y2="22.90" stroke="#3a3a3a" stroke-width="1"/>
<line x1="133.86" y1="138.20" x2="133.86" y2="135.40" stroke="#3a3a3a" stroke-width="1"/>
<line x1="133.86" y1="20.10" x2="133.86" y2="22.90" stroke="#3a3a3a" stroke-width="1"/>
<line x1="225.51" y1="138.20" x2="225.51" y2="135.40" stroke="#3a3a3a" stroke-width="1"/>
<line x1="225.51" y1="20.10" x2="225.51" y2="22.90" stroke="#3a3a3a" stroke-width="1"/>
<line x1="317.17" y1="138.20" x2="317.17" y2="135.40" stroke="#3a3a3a" stroke-width="1"/>
<line x1="317.17" y1="20.10" x2="317.17" y2="22.90" stroke="#3a3a3a" stroke-width="1"/>
<rect x="42.20" y="20.10" width="293.30" height="118.10" fill="none" stroke="#262626" stroke-width="1.1"/>
<text x="39.60" y="53.90" text-anchor="end" font-size="12.5">2</text>
<text x="39.60" y="93.10" text-anchor="end" font-size="12.5">0</text>
<text x="39.60" y="132.30" text-anchor="end" font-size="12.5">−2</text>
<text x="42.20" y="152.40" text-anchor="middle" font-size="12.5">0</text>
<text x="133.86" y="152.40" text-anchor="middle" font-size="12.5">5000</text>
<text x="225.51" y="152.40" text-anchor="middle" font-size="12.5">10000</text>
<text x="317.17" y="152.40" text-anchor="middle" font-size="12.5">15000</text>
<line x1="385.00" y1="43.90" x2="678.00" y2="43.90" stroke="#858585" stroke-width="1" stroke-dasharray="1 3.1"/>
<line x1="385.00" y1="85.60" x2="678.00" y2="85.60" stroke="#858585" stroke-width="1" stroke-dasharray="1 3.1"/>
<line x1="385.00" y1="127.30" x2="678.00" y2="127.30" stroke="#858585" stroke-width="1" stroke-dasharray="1 3.1"/>
<line x1="385.00" y1="18.80" x2="385.00" y2="136.00" stroke="#858585" stroke-width="1" stroke-dasharray="1 3.1"/>
<line x1="476.56" y1="18.80" x2="476.56" y2="136.00" stroke="#858585" stroke-width="1" stroke-dasharray="1 3.1"/>
<line x1="568.12" y1="18.80" x2="568.12" y2="136.00" stroke="#858585" stroke-width="1" stroke-dasharray="1 3.1"/>
<line x1="659.69" y1="18.80" x2="659.69" y2="136.00" stroke="#858585" stroke-width="1" stroke-dasharray="1 3.1"/>
<g clip-path="url(#clipTR)"><polyline points="385.00,69.81 385.25,63.43 385.50,116.11 385.75,66.25 386.00,105.57 386.25,76.22 386.50,75.90 386.75,109.94 387.00,103.75 387.25,100.59 387.50,73.43 387.75,67.77 388.00,101.48 388.25,77.58 388.50,103.66 388.75,70.16 389.00,98.63 389.25,71.27 389.50,109.73 389.75,64.71 390.00,66.99 390.25,98.53 390.50,70.58 390.75,104.10 391.00,62.48 391.25,66.12 391.50,65.89 391.75,97.90 392.00,67.12 392.25,92.61 392.50,105.72 392.75,68.93 393.00,98.90 393.25,68.13 393.50,91.60 393.75,93.28 394.00,104.62 394.25,99.46 394.50,62.04 394.75,95.44 395.00,71.27 395.25,66.88 395.50,101.80 395.75,103.87 396.00,64.88 396.25,108.19 396.50,67.67 396.75,103.17 397.00,68.91 397.25,100.97 397.50,66.34 397.75,103.52 398.00,70.02 398.25,66.21 398.50,97.94 398.75,64.77 399.00,93.04 399.25,64.47 399.50,95.84 399.75,109.33 400.00,70.76 400.25,99.77 400.50,75.33 400.75,68.37 401.00,95.66 401.25,76.33 401.50,101.95 401.75,90.36 402.00,76.71 402.25,92.08 402.50,71.47 402.75,73.51 403.00,95.08 403.25,75.53 403.50,90.85 403.75,93.23 404.00,71.71 404.25,95.97 404.50,71.83 404.75,95.51 405.00,69.24 405.25,75.82 405.50,79.20 405.75,74.47 406.00,97.47 406.25,78.42 406.50,100.49 406.75,69.06 407.00,108.36 407.25,112.56 407.50,70.08 407.75,73.34 408.00,103.83 408.25,68.67 408.50,96.10 408.75,96.20 409.00,73.48 409.25,97.66 409.50,71.82 409.75,99.34 410.00,68.43 410.25,102.12 410.50,72.90 410.75,103.78 411.00,105.14 411.25,98.90 411.50,73.66 411.75,98.31 412.00,78.56 412.25,101.93 412.50,69.57 412.75,108.63 413.00,73.10 413.25,103.84 413.50,110.04 413.75,72.57 414.00,101.25 414.25,71.11 414.50,104.39 414.75,75.52 415.00,76.04 415.25,83.42 415.50,102.45 415.75,106.61 416.00,103.09 416.25,82.78 416.50,109.58 416.75,83.11 417.00,114.15 417.25,111.74 417.50,83.19 417.75,109.59 418.00,85.11 418.25,115.43 418.50,82.95 418.75,108.42 419.00,84.78 419.25,107.31 419.50,88.78 419.75,84.46 420.00,100.71 420.25,79.60 420.50,102.60 420.75,82.49 421.00,100.31 421.25,80.10 421.50,102.10 421.75,84.18 422.00,101.46 422.25,84.46 422.50,103.54 422.75,99.63 423.00,78.60 423.25,98.68 423.50,81.02 423.75,99.78 424.00,77.39 424.25,99.12 424.50,80.22 424.75,102.39 425.00,77.16 425.25,75.11 425.50,79.14 425.75,94.32 426.00,75.05 426.25,78.68 426.50,94.74 426.75,73.75 427.00,78.06 427.25,96.24 427.50,82.58 427.75,78.84 428.00,96.17 428.25,82.09 428.50,95.91 428.75,96.97 429.00,76.76 429.25,94.59 429.50,79.19 429.75,94.95 430.00,90.25 430.25,73.90 430.50,95.64 430.75,91.64 431.00,72.97 431.25,92.46 431.50,79.40 431.75,77.46 432.00,89.41 432.25,80.39 432.50,96.46 432.75,73.70 433.00,96.16 433.25,74.98 433.50,97.86 433.75,74.78 434.00,99.44 434.25,76.11 434.50,93.85 434.75,78.49 435.00,92.21 435.25,75.87 435.50,94.28 435.75,69.34 436.00,100.45 436.25,70.69 436.50,95.95 436.75,73.87 437.00,88.03 437.25,65.53 437.50,92.17 437.75,69.79 438.00,91.91 438.25,95.93 438.50,73.50 438.75,63.49 439.00,94.46 439.25,72.48 439.50,94.47 439.75,70.66 440.00,91.81 440.25,98.69 440.50,77.59 440.75,76.37 441.00,75.42 441.25,91.49 441.50,71.87 441.75,95.62 442.00,76.40 442.25,72.67 442.50,100.18 442.75,95.25 443.00,76.59 443.25,99.65 443.50,72.01 443.75,95.97 444.00,71.76 444.25,90.98 444.50,77.48 444.75,74.81 445.00,69.56 445.25,89.34 445.50,71.30 445.75,97.36 446.00,94.01 446.25,77.22 446.50,94.96 446.75,68.17 447.00,77.21 447.25,97.90 447.50,68.23 447.75,89.01 448.00,93.72 448.25,74.28 448.50,94.34 448.75,76.09 449.00,88.86 449.25,76.71 449.50,76.12 449.75,95.33 450.00,73.27 450.25,90.03 450.50,72.78 450.75,98.72 451.00,77.46 451.25,78.81 451.50,76.13 451.75,79.95 452.00,91.91 452.25,79.32 452.50,99.80 452.75,95.01 453.00,94.82 453.25,76.38 453.50,99.56 453.75,82.18 454.00,74.27 454.25,98.01 454.50,100.09 454.75,97.18 455.00,75.18 455.25,99.45 455.50,96.82 455.75,98.42 456.00,97.35 456.25,80.17 456.50,81.48 456.75,91.87 457.00,76.93 457.25,91.78 457.50,77.74 457.75,94.05 458.00,77.85 458.25,101.79 458.50,74.31 458.75,91.66 459.00,79.27 459.25,94.85 459.50,78.17 459.75,93.06 460.00,78.21 460.25,92.81 460.50,92.13 460.75,76.06 461.00,93.57 461.25,71.57 461.50,90.45 461.75,78.41 462.00,90.84 462.25,72.98 462.50,93.43 462.75,73.53 463.00,70.92 463.25,70.25 463.50,86.81 463.75,69.84 464.00,69.24 464.25,89.00 464.50,69.81 464.75,88.16 465.00,89.12 465.25,85.59 465.50,68.59 465.75,85.24 466.00,71.26 466.25,69.99 466.50,92.28 466.75,88.44 467.00,92.94 467.25,76.38 467.50,75.29 467.75,74.56 468.00,90.56 468.25,88.72 468.50,77.01 468.75,89.97 469.00,77.60 469.25,76.67 469.50,97.99 469.75,93.13 470.00,74.29 470.25,95.71 470.50,95.65 470.75,74.08 471.00,90.31 471.25,72.29 471.50,93.88 471.75,70.87 472.00,98.61 472.25,75.94 472.50,94.38 472.75,76.73 473.00,93.98 473.25,89.30 473.50,72.51 473.75,89.41 474.00,71.93 474.25,88.68 474.50,71.43 474.75,87.61 475.00,91.45 475.25,72.69 475.50,89.01 475.75,72.96 476.00,88.84 476.25,93.93 476.50,75.77 476.75,79.22 477.00,77.18 477.25,95.47 477.50,74.96 477.75,79.28 478.00,94.95 478.25,93.15 478.50,74.46 478.75,94.17 479.00,76.78 479.25,75.44 479.50,97.59 479.75,78.06 480.00,99.40 480.25,75.62 480.50,102.59 480.75,71.79 481.00,97.72 481.25,79.95 481.50,91.74 481.75,78.19 482.00,77.89 482.25,92.07 482.50,79.35 482.75,93.68 483.00,77.67 483.25,92.29 483.50,75.89 483.75,89.84 484.00,77.60 484.25,92.30 484.50,77.54 484.75,81.25 485.00,94.22 485.25,80.18 485.50,93.00 485.75,80.86 486.00,78.43 486.25,81.41 486.50,89.97 486.75,91.14 487.00,78.53 487.25,95.35 487.50,81.88 487.75,94.42 488.00,80.49 488.25,96.57 488.50,80.37 488.75,97.68 489.00,80.71 489.25,80.67 489.50,96.82 489.75,82.98 490.00,94.34 490.25,82.52 490.50,77.53 490.75,79.74 491.00,80.18 491.25,81.37 491.50,79.86 491.75,92.41 492.00,91.51 492.25,92.12 492.50,81.83 492.75,80.39 493.00,91.20 493.25,80.71 493.50,80.23 493.75,92.24 494.00,79.91 494.25,91.63 494.50,80.48 494.75,82.42 495.00,98.18 495.25,82.53 495.50,96.80 495.75,97.26 496.00,82.45 496.25,94.85 496.50,82.90 496.75,83.91 497.00,100.80 497.25,97.01 497.50,83.30 497.75,97.84 498.00,93.95 498.25,83.11 498.50,93.63 498.75,79.22 499.00,93.43 499.25,81.22 499.50,94.06 499.75,81.28 500.00,82.63 500.25,90.99 500.50,89.59 500.75,78.24 501.00,78.40 501.25,80.89 501.50,91.83 501.75,81.27 502.00,93.66 502.25,91.51 502.50,93.53 502.75,79.43 503.00,92.10 503.25,78.36 503.50,93.72 503.75,78.95 504.00,92.48 504.25,81.92 504.50,89.74 504.75,81.21 505.00,90.34 505.25,80.98 505.50,92.17 505.75,92.23 506.00,78.86 506.25,92.05 506.50,80.45 506.75,93.12 507.00,76.53 507.25,76.49 507.50,94.72 507.75,89.78 508.00,79.24 508.25,93.39 508.50,77.41 508.75,94.02 509.00,76.51 509.25,93.14 509.50,80.75 509.75,94.27 510.00,79.26 510.25,93.07 510.50,73.52 510.75,93.62 511.00,76.97 511.25,89.26 511.50,77.50 511.75,95.71 512.00,77.00 512.25,92.31 512.50,68.34 512.75,95.30 513.00,78.72 513.25,94.07 513.50,72.49 513.75,90.70 514.00,73.07 514.25,91.92 514.50,78.07 514.75,96.23 515.00,76.32 515.25,89.76 515.50,78.76 515.75,96.01 516.00,76.43 516.25,90.18 516.50,76.91 516.75,92.92 517.00,93.93 517.25,76.51 517.50,90.71 517.75,77.24 518.00,91.84 518.25,77.39 518.50,94.50 518.75,81.36 519.00,92.89 519.25,80.36 519.50,89.52 519.75,91.47 520.00,81.44 520.25,90.56 520.50,81.27 520.75,90.53 521.00,92.02 521.25,81.54 521.50,91.69 521.75,79.06 522.00,93.27 522.25,79.48 522.50,95.35 522.75,74.97 523.00,93.78 523.25,82.53 523.50,78.90 523.75,94.60 524.00,79.13 524.25,97.88 524.50,78.04 524.75,92.06 525.00,80.09 525.25,91.42 525.50,75.42 525.75,96.37 526.00,75.85 526.25,80.03 526.50,80.52 526.75,96.73 527.00,80.07 527.25,75.96 527.50,91.33 527.75,97.72 528.00,76.90 528.25,91.47 528.50,80.46 528.75,93.58 529.00,79.40 529.25,93.11 529.50,76.29 529.75,90.65 530.00,79.81 530.25,76.92 530.50,69.54 530.75,96.75 531.00,74.48 531.25,88.96 531.50,73.33 531.75,92.01 532.00,75.08 532.25,91.20 532.50,74.52 532.75,78.49 533.00,90.74 533.25,74.02 533.50,88.25 533.75,73.53 534.00,90.28 534.25,78.96 534.50,89.08 534.75,78.68 535.00,72.89 535.25,93.80 535.50,76.73 535.75,78.36 536.00,92.87 536.25,76.21 536.50,90.84 536.75,76.54 537.00,92.10 537.25,75.82 537.50,91.33 537.75,79.33 538.00,92.86 538.25,78.75 538.50,93.51 538.75,79.40 539.00,77.23 539.25,76.40 539.50,92.21 539.75,78.26 540.00,88.39 540.25,74.34 540.50,77.99 540.75,92.99 541.00,78.63 541.25,91.72 541.50,73.91 541.75,88.44 542.00,72.53 542.25,72.99 542.50,88.06 542.75,86.93 543.00,74.19 543.25,87.20 543.50,88.80 543.75,76.54 544.00,88.52 544.25,88.13 544.50,76.58 544.75,88.13 545.00,70.17 545.25,88.41 545.50,79.31 545.75,89.99 546.00,77.23 546.25,91.58 546.50,80.83 546.75,95.58 547.00,76.94 547.25,96.58 547.50,77.19 547.75,80.15 548.00,92.18 548.25,79.62 548.50,76.01 548.75,99.09 549.00,81.91 549.25,81.13 549.50,95.69 549.75,83.59 550.00,99.70 550.25,82.68 550.50,82.99 550.75,94.40 551.00,79.47 551.25,78.09 551.50,78.39 551.75,81.94 552.00,95.67 552.25,76.51 552.50,95.58 552.75,97.43 553.00,79.09 553.25,94.80 553.50,76.22 553.75,98.80 554.00,97.22 554.25,97.85 554.50,81.19 554.75,94.38 555.00,78.83 555.25,98.81 555.50,94.41 555.75,75.85 556.00,101.95 556.25,78.78 556.50,96.68 556.75,75.72 557.00,92.14 557.25,75.86 557.50,77.94 557.75,98.03 558.00,95.31 558.25,75.06 558.50,94.20 558.75,79.06 559.00,97.67 559.25,77.13 559.50,93.88 559.75,74.83 560.00,97.04 560.25,94.85 560.50,78.30 560.75,96.06 561.00,82.56 561.25,102.31 561.50,82.68 561.75,93.91 562.00,81.23 562.25,95.62 562.50,79.70 562.75,78.78 563.00,96.57 563.25,82.11 563.50,91.05 563.75,93.20 564.00,82.81 564.25,79.49 564.50,90.93 564.75,90.34 565.00,79.63 565.25,96.14 565.50,77.52 565.75,101.19 566.00,80.30 566.25,99.20 566.50,81.52 566.75,95.38 567.00,77.03 567.25,97.85 567.50,81.07 567.75,100.76 568.00,79.11 568.25,80.37 568.50,99.31 568.75,98.04 569.00,69.76 569.25,98.16 569.50,72.31 569.75,98.27 570.00,72.74 570.25,91.56 570.50,71.76 570.75,90.30 571.00,72.43 571.25,90.90 571.50,71.12 571.75,71.37 572.00,94.12 572.25,91.19 572.50,67.93 572.75,99.88 573.00,68.45 573.25,73.75 573.50,95.20 573.75,77.47 574.00,93.99 574.25,71.07 574.50,92.15 574.75,75.34 575.00,97.76 575.25,92.78 575.50,72.91 575.75,74.05 576.00,79.79 576.25,91.00 576.50,79.32 576.75,90.59 577.00,81.09 577.25,77.48 577.50,74.34 577.75,90.06 578.00,77.73 578.25,80.18 578.50,93.26 578.75,94.40 579.00,76.80 579.25,92.11 579.50,74.32 579.75,89.88 580.00,78.61 580.25,75.34 580.50,71.84 580.75,75.69 581.00,89.62 581.25,75.52 581.50,77.64 581.75,93.87 582.00,77.42 582.25,89.27 582.50,89.61 582.75,75.45 583.00,93.65 583.25,77.81 583.50,99.11 583.75,79.11 584.00,99.26 584.25,80.13 584.50,81.80 584.75,95.70 585.00,78.39 585.25,104.20 585.50,83.04 585.75,99.62 586.00,76.28 586.25,98.10 586.50,69.20 586.75,93.11 587.00,75.09 587.25,92.25 587.50,96.63 587.75,76.70 588.00,75.52 588.25,76.72 588.50,90.88 588.75,80.62 589.00,95.21 589.25,75.98 589.50,92.71 589.75,97.14 590.00,75.92 590.25,77.67 590.50,97.03 590.75,74.62 591.00,99.80 591.25,80.12 591.50,97.04 591.75,95.64 592.00,77.15 592.25,93.30 592.50,96.83 592.75,77.94 593.00,88.86 593.25,72.98 593.50,78.93 593.75,92.93 594.00,75.95 594.25,74.99 594.50,94.74 594.75,95.74 595.00,94.33 595.25,73.67 595.50,95.19 595.75,75.27 596.00,93.65 596.25,74.17 596.50,79.81 596.75,92.54 597.00,73.04 597.25,98.08 597.50,74.88 597.75,96.44 598.00,72.52 598.25,97.79 598.50,91.03 598.75,77.52 599.00,93.61 599.25,75.83 599.50,94.94 599.75,72.10 600.00,70.14 600.25,91.87 600.50,74.86 600.75,96.51 601.00,76.29 601.25,93.74 601.50,75.78 601.75,96.56 602.00,93.32 602.25,70.04 602.50,88.48 602.75,68.99 603.00,72.54 603.25,90.86 603.50,76.33 603.75,92.38 604.00,88.04 604.25,73.23 604.50,76.62 604.75,92.97 605.00,71.77 605.25,98.67 605.50,95.54 605.75,73.23 606.00,91.04 606.25,98.41 606.50,70.85 606.75,91.99 607.00,92.45 607.25,92.39 607.50,95.36 607.75,77.03 608.00,92.66 608.25,73.71 608.50,95.67 608.75,89.04 609.00,68.79 609.25,67.85 609.50,95.03 609.75,71.30 610.00,96.13 610.25,70.50 610.50,94.02 610.75,68.63 611.00,98.55 611.25,95.74 611.50,96.99 611.75,94.75 612.00,70.35 612.25,69.74 612.50,102.44 612.75,69.96 613.00,99.47 613.25,67.50 613.50,98.76 613.75,70.92 614.00,93.98 614.25,73.09 614.50,99.06 614.75,71.48 615.00,95.88 615.25,78.44 615.50,96.11 615.75,72.17 616.00,99.29 616.25,73.68 616.50,100.17 616.75,77.63 617.00,98.93 617.25,104.41 617.50,97.03 617.75,101.75 618.00,77.52 618.25,83.40 618.50,105.08 618.75,84.11 619.00,103.80 619.25,74.05 619.50,111.88 619.75,108.03 620.00,108.15 620.25,75.55 620.50,71.48 620.75,111.87 621.00,102.75 621.25,69.44 621.50,74.16 621.75,109.90 622.00,77.19 622.25,99.36 622.50,75.96 622.75,103.36 623.00,76.62 623.25,101.05 623.50,76.77 623.75,103.06 624.00,67.10 624.25,70.26 624.50,92.37 624.75,71.36 625.00,98.67 625.25,102.33 625.50,76.05 625.75,73.01 626.00,68.67 626.25,73.13 626.50,100.04 626.75,100.66 627.00,67.83 627.25,95.94 627.50,63.36 627.75,98.66 628.00,64.67 628.25,101.97 628.50,93.23 628.75,72.06 629.00,72.08 629.25,93.62 629.50,70.69 629.75,94.41 630.00,94.48 630.25,70.07 630.50,93.57 630.75,64.24 631.00,73.00 631.25,101.02 631.50,66.96 631.75,97.30 632.00,67.88 632.25,101.17 632.50,92.30 632.75,70.97 633.00,95.16 633.25,91.80 633.50,95.34 633.75,93.32 634.00,74.42 634.25,74.14 634.50,92.49 634.75,75.29 635.00,99.47 635.25,70.71 635.50,66.59 635.75,95.48 636.00,91.90 636.25,67.14 636.50,92.52 636.75,67.12 637.00,99.34 637.25,71.32 637.50,104.93 637.75,75.80 638.00,103.04 638.25,75.01 638.50,102.17 638.75,67.38 639.00,101.01 639.25,73.01 639.50,73.00 639.75,115.12 640.00,99.77 640.25,101.12 640.50,77.61 640.75,97.20 641.00,68.30 641.25,93.84 641.50,74.69 641.75,93.23 642.00,99.37 642.25,98.11 642.50,70.89 642.75,90.93 643.00,68.83 643.25,72.82 643.50,89.61 643.75,95.18 644.00,71.73 644.25,95.22 644.50,66.41 644.75,65.57 645.00,89.92 645.25,70.99 645.50,84.59 645.75,68.67 646.00,86.03 646.25,73.47 646.50,91.43 646.75,75.71 647.00,93.66 647.25,68.26 647.50,97.35 647.75,69.83 648.00,70.18 648.25,75.93 648.50,104.05 648.75,75.25 649.00,69.72 649.25,69.09 649.50,67.65 649.75,70.43 650.00,100.88 650.25,71.56 650.50,108.48 650.75,73.86 651.00,100.10 651.25,68.46 651.50,93.41 651.75,75.08 652.00,89.20 652.25,70.35 652.50,90.34 652.75,69.64 653.00,70.52 653.25,95.01 653.50,68.22 653.75,88.86 654.00,92.20 654.25,74.03 654.50,95.98 654.75,74.09 655.00,90.45 655.25,72.33 655.50,100.90 655.75,102.30 656.00,65.11 656.25,100.83 656.50,76.34 656.75,108.99 657.00,72.75 657.25,103.14 657.50,61.10 657.75,104.04 658.00,67.15 658.25,97.59 658.50,98.87 658.75,67.40 659.00,106.27 659.25,75.27 659.50,97.46 659.75,103.29 660.00,70.01 660.25,98.50 660.50,78.05 660.75,111.48 661.00,71.56 661.25,108.54 661.50,73.81 661.75,112.40 662.00,105.26 662.25,76.24 662.50,109.28 662.75,77.92 663.00,114.10 663.25,77.73 663.50,113.54 663.75,76.20 664.00,113.48 664.25,69.44 664.50,114.00 664.75,78.23 665.00,113.54 665.25,75.45 665.50,105.17 665.75,68.05 666.00,93.57 666.25,73.71 666.50,94.26 666.75,69.34 667.00,92.89 667.25,75.64 667.50,92.29 667.75,76.68 668.00,96.31 668.25,74.15 668.50,98.56 668.75,70.20 669.00,95.15 669.25,68.50 669.50,103.39 669.75,72.87 670.00,99.30 670.25,74.41 670.50,65.74 670.75,96.06 671.00,99.66 671.25,70.15 671.50,103.03 671.75,65.37 672.00,102.80 672.25,63.22 672.50,104.75 672.75,68.57 673.00,97.38 673.25,66.58 673.50,101.87 673.75,63.53 674.00,93.48 674.25,65.61 674.50,60.53 674.75,91.43 675.00,100.09 675.25,65.66 675.50,95.84 675.75,59.31 676.00,105.80 676.25,59.64 676.50,106.32 676.75,70.31 677.00,101.26 677.25,106.75 677.50,65.54 677.75,109.88 678.00,70.28" fill="none" stroke="#0000ff" stroke-width="0.7" stroke-linejoin="round"/><polyline points="385.00,72.17 385.25,70.56 385.50,70.85 385.75,104.15 386.00,70.85 386.25,102.39 386.50,97.75 386.75,74.38 387.00,73.07 387.25,101.46 387.50,66.71 387.75,103.93 388.00,104.19 388.25,74.65 388.50,105.59 388.75,72.18 389.00,104.73 389.25,62.51 389.50,106.97 389.75,63.73 390.00,95.15 390.25,65.83 390.50,93.58 390.75,68.23 391.00,96.51 391.25,93.03 391.50,94.29 391.75,93.92 392.00,99.96 392.25,66.70 392.50,97.80 392.75,63.97 393.00,104.34 393.25,67.80 393.50,67.93 393.75,107.83 394.00,70.43 394.25,99.51 394.50,73.33 394.75,103.82 395.00,63.91 395.25,108.06 395.50,67.45 395.75,95.09 396.00,76.86 396.25,65.30 396.50,92.88 396.75,68.98 397.00,69.86 397.25,102.14 397.50,100.59 397.75,93.60 398.00,69.86 398.25,101.30 398.50,65.35 398.75,96.86 399.00,69.51 399.25,103.72 399.50,93.73 399.75,70.53 400.00,99.95 400.25,70.69 400.50,100.43 400.75,67.96 401.00,95.03 401.25,93.24 401.50,71.21 401.75,91.18 402.00,72.20 402.25,91.50 402.50,100.58 402.75,68.41 403.00,101.54 403.25,68.40 403.50,97.05 403.75,97.89 404.00,74.27 404.25,76.57 404.50,101.60 404.75,101.09 405.00,78.26 405.25,97.51 405.50,73.56 405.75,97.49 406.00,100.71 406.25,76.68 406.50,68.64 406.75,72.66 407.00,101.50 407.25,74.14 407.50,92.44 407.75,71.70 408.00,90.83 408.25,69.12 408.50,90.20 408.75,70.08 409.00,95.28 409.25,78.22 409.50,94.51 409.75,72.62 410.00,99.31 410.25,80.07 410.50,103.41 410.75,80.35 411.00,109.99 411.25,79.92 411.50,104.60 411.75,72.15 412.00,110.31 412.25,73.73 412.50,106.87 412.75,83.28 413.00,97.84 413.25,102.55 413.50,81.06 413.75,79.54 414.00,96.54 414.25,79.82 414.50,78.83 414.75,103.65 415.00,76.22 415.25,110.97 415.50,77.36 415.75,103.86 416.00,84.01 416.25,108.45 416.50,79.39 416.75,111.42 417.00,87.66 417.25,103.62 417.50,86.60 417.75,105.73 418.00,84.65 418.25,101.01 418.50,81.07 418.75,105.36 419.00,106.78 419.25,82.96 419.50,84.12 419.75,100.22 420.00,85.83 420.25,103.43 420.50,74.75 420.75,99.77 421.00,76.51 421.25,82.65 421.50,84.64 421.75,102.28 422.00,76.97 422.25,100.78 422.50,99.79 422.75,95.38 423.00,78.90 423.25,97.17 423.50,78.96 423.75,97.58 424.00,96.20 424.25,100.87 424.50,80.68 424.75,80.61 425.00,95.62 425.25,77.08 425.50,93.31 425.75,78.70 426.00,99.34 426.25,80.71 426.50,93.93 426.75,96.01 427.00,79.55 427.25,96.95 427.50,80.63 427.75,96.32 428.00,79.38 428.25,94.58 428.50,96.18 428.75,75.42 429.00,96.28 429.25,69.94 429.50,93.66 429.75,73.27 430.00,92.13 430.25,74.44 430.50,91.68 430.75,74.97 431.00,91.67 431.25,75.25 431.50,92.48 431.75,77.10 432.00,93.45 432.25,78.90 432.50,94.44 432.75,92.72 433.00,73.00 433.25,99.67 433.50,69.69 433.75,91.51 434.00,71.64 434.25,92.96 434.50,65.26 434.75,92.63 435.00,61.14 435.25,91.80 435.50,66.37 435.75,89.75 436.00,90.42 436.25,64.51 436.50,73.29 436.75,97.09 437.00,96.40 437.25,63.32 437.50,92.39 437.75,74.99 438.00,100.54 438.25,72.19 438.50,99.31 438.75,73.82 439.00,91.55 439.25,72.38 439.50,94.92 439.75,69.36 440.00,106.42 440.25,70.59 440.50,100.00 440.75,76.73 441.00,93.46 441.25,70.74 441.50,96.92 441.75,73.14 442.00,64.62 442.25,97.26 442.50,77.83 442.75,93.80 443.00,74.17 443.25,98.13 443.50,96.69 443.75,68.63 444.00,98.01 444.25,77.26 444.50,96.50 444.75,75.21 445.00,94.47 445.25,71.28 445.50,90.23 445.75,77.66 446.00,91.57 446.25,71.57 446.50,92.02 446.75,96.92 447.00,91.82 447.25,78.76 447.50,90.73 447.75,77.95 448.00,92.63 448.25,72.36 448.50,74.38 448.75,93.40 449.00,76.20 449.25,90.70 449.50,72.66 449.75,96.96 450.00,79.11 450.25,95.72 450.50,74.75 450.75,100.27 451.00,78.51 451.25,92.56 451.50,97.16 451.75,98.52 452.00,74.46 452.25,96.97 452.50,77.91 452.75,101.52 453.00,97.66 453.25,95.43 453.50,78.23 453.75,101.96 454.00,81.67 454.25,93.90 454.50,81.59 454.75,93.66 455.00,78.69 455.25,77.62 455.50,76.69 455.75,94.61 456.00,76.24 456.25,97.35 456.50,81.10 456.75,94.61 457.00,78.50 457.25,76.95 457.50,78.16 457.75,95.11 458.00,75.79 458.25,91.73 458.50,95.43 458.75,91.44 459.00,77.47 459.25,89.88 459.50,93.85 459.75,66.77 460.00,76.94 460.25,91.02 460.50,74.55 460.75,92.61 461.00,72.01 461.25,93.84 461.50,74.81 461.75,94.95 462.00,75.81 462.25,87.98 462.50,75.81 462.75,87.44 463.00,69.01 463.25,85.61 463.50,72.88 463.75,70.25 464.00,89.10 464.25,73.68 464.50,86.59 464.75,67.10 465.00,73.86 465.25,87.80 465.50,71.75 465.75,74.81 466.00,91.41 466.25,78.12 466.50,91.04 466.75,76.03 467.00,90.07 467.25,88.56 467.50,77.97 467.75,91.27 468.00,79.67 468.25,90.58 468.50,78.34 468.75,77.81 469.00,94.39 469.25,76.06 469.50,73.67 469.75,94.78 470.00,79.05 470.25,92.01 470.50,79.49 470.75,93.26 471.00,77.91 471.25,79.30 471.50,93.35 471.75,70.71 472.00,77.95 472.25,92.99 472.50,63.51 472.75,89.81 473.00,92.18 473.25,76.08 473.50,89.65 473.75,74.30 474.00,92.40 474.25,74.70 474.50,93.04 474.75,94.87 475.00,91.44 475.25,73.77 475.50,89.87 475.75,94.80 476.00,74.98 476.25,76.37 476.50,90.48 476.75,75.28 477.00,95.62 477.25,77.95 477.50,74.81 477.75,77.80 478.00,78.35 478.25,94.69 478.50,78.55 478.75,95.13 479.00,77.48 479.25,100.35 479.50,80.94 479.75,98.23 480.00,78.31 480.25,92.78 480.50,69.76 480.75,93.20 481.00,74.24 481.25,78.85 481.50,90.50 481.75,77.38 482.00,94.70 482.25,77.00 482.50,93.47 482.75,76.35 483.00,93.24 483.25,81.34 483.50,89.77 483.75,90.52 484.00,79.51 484.25,90.72 484.50,77.52 484.75,91.05 485.00,77.94 485.25,90.93 485.50,82.99 485.75,90.82 486.00,82.59 486.25,92.54 486.50,83.35 486.75,93.40 487.00,80.15 487.25,96.93 487.50,96.02 487.75,80.10 488.00,92.94 488.25,81.24 488.50,92.23 488.75,78.17 489.00,95.49 489.25,93.46 489.50,96.17 489.75,82.36 490.00,96.99 490.25,95.21 490.50,79.99 490.75,91.88 491.00,82.35 491.25,94.35 491.50,84.01 491.75,92.62 492.00,95.56 492.25,83.44 492.50,95.14 492.75,91.55 493.00,82.41 493.25,91.18 493.50,84.12 493.75,82.61 494.00,93.40 494.25,83.80 494.50,97.08 494.75,82.75 495.00,92.25 495.25,82.01 495.50,95.91 495.75,79.38 496.00,96.63 496.25,94.59 496.50,84.65 496.75,99.27 497.00,96.75 497.25,81.44 497.50,93.96 497.75,83.58 498.00,95.40 498.25,78.92 498.50,78.24 498.75,78.95 499.00,92.06 499.25,82.30 499.50,93.61 499.75,93.53 500.00,81.04 500.25,93.68 500.50,91.43 500.75,81.27 501.00,90.02 501.25,82.67 501.50,92.44 501.75,81.90 502.00,89.36 502.25,80.92 502.50,91.38 502.75,80.24 503.00,91.01 503.25,79.67 503.50,94.13 503.75,77.46 504.00,79.64 504.25,95.66 504.50,77.21 504.75,88.04 505.00,78.24 505.25,78.58 505.50,89.29 505.75,77.76 506.00,89.69 506.25,89.18 506.50,78.65 506.75,92.21 507.00,75.92 507.25,92.28 507.50,78.21 507.75,78.58 508.00,76.19 508.25,90.91 508.50,91.71 508.75,92.86 509.00,76.26 509.25,72.13 509.50,74.81 509.75,98.78 510.00,78.49 510.25,93.54 510.50,79.22 510.75,95.62 511.00,78.14 511.25,74.49 511.50,91.24 511.75,79.06 512.00,89.08 512.25,91.71 512.50,74.49 512.75,88.66 513.00,76.56 513.25,73.91 513.50,91.06 513.75,93.00 514.00,73.74 514.25,98.60 514.50,91.89 514.75,75.25 515.00,91.40 515.25,78.64 515.50,89.24 515.75,80.22 516.00,92.89 516.25,90.07 516.50,78.66 516.75,89.65 517.00,81.32 517.25,91.80 517.50,80.08 517.75,90.53 518.00,82.05 518.25,94.30 518.50,76.69 518.75,89.51 519.00,81.02 519.25,91.21 519.50,77.34 519.75,90.47 520.00,74.55 520.25,91.19 520.50,79.90 520.75,93.12 521.00,78.20 521.25,94.14 521.50,80.13 521.75,79.53 522.00,78.60 522.25,95.35 522.50,82.79 522.75,91.00 523.00,92.71 523.25,79.32 523.50,94.04 523.75,78.50 524.00,81.26 524.25,91.98 524.50,94.49 524.75,73.44 525.00,90.80 525.25,80.91 525.50,91.34 525.75,91.97 526.00,96.70 526.25,77.39 526.50,94.82 526.75,91.52 527.00,76.10 527.25,91.02 527.50,75.72 527.75,95.38 528.00,80.99 528.25,91.52 528.50,97.51 528.75,93.18 529.00,73.47 529.25,93.10 529.50,75.02 529.75,92.25 530.00,77.08 530.25,89.03 530.50,75.13 530.75,91.25 531.00,72.14 531.25,76.46 531.50,89.14 531.75,75.95 532.00,93.78 532.25,91.47 532.50,76.20 532.75,88.49 533.00,76.32 533.25,92.07 533.50,73.98 533.75,93.55 534.00,88.10 534.25,74.98 534.50,93.62 534.75,89.51 535.00,79.34 535.25,89.02 535.50,76.34 535.75,91.65 536.00,79.18 536.25,93.70 536.50,80.14 536.75,79.29 537.00,80.41 537.25,89.31 537.50,77.10 537.75,76.06 538.00,91.84 538.25,81.11 538.50,92.40 538.75,78.30 539.00,92.16 539.25,76.80 539.50,90.57 539.75,77.81 540.00,92.08 540.25,91.84 540.50,74.58 540.75,78.08 541.00,72.59 541.25,76.12 541.50,92.25 541.75,90.19 542.00,76.10 542.25,78.26 542.50,92.72 542.75,73.18 543.00,93.55 543.25,75.53 543.50,78.70 543.75,88.74 544.00,76.60 544.25,88.06 544.50,79.97 544.75,94.07 545.00,79.48 545.25,91.95 545.50,79.44 545.75,90.36 546.00,76.33 546.25,93.67 546.50,77.18 546.75,97.79 547.00,97.23 547.25,77.83 547.50,98.98 547.75,98.03 548.00,80.64 548.25,83.46 548.50,98.47 548.75,80.55 549.00,94.53 549.25,94.05 549.50,78.51 549.75,99.43 550.00,98.78 550.25,96.47 550.50,93.77 550.75,79.60 551.00,95.02 551.25,81.28 551.50,93.61 551.75,93.73 552.00,75.73 552.25,97.45 552.50,74.64 552.75,100.06 553.00,99.08 553.25,77.78 553.50,98.88 553.75,77.65 554.00,75.12 554.25,98.80 554.50,79.87 554.75,92.01 555.00,74.56 555.25,96.27 555.50,76.13 555.75,79.32 556.00,90.92 556.25,73.61 556.50,90.44 556.75,76.59 557.00,95.21 557.25,78.86 557.50,91.88 557.75,76.63 558.00,102.65 558.25,81.60 558.50,91.90 558.75,94.48 559.00,71.99 559.25,98.52 559.50,76.99 559.75,93.94 560.00,77.04 560.25,97.75 560.50,93.82 560.75,80.19 561.00,93.94 561.25,94.97 561.50,81.39 561.75,96.67 562.00,81.33 562.25,94.69 562.50,83.67 562.75,95.01 563.00,93.25 563.25,81.77 563.50,95.36 563.75,90.41 564.00,81.90 564.25,94.06 564.50,78.32 564.75,78.33 565.00,98.11 565.25,82.12 565.50,76.95 565.75,72.96 566.00,94.39 566.25,75.59 566.50,95.37 566.75,98.57 567.00,101.25 567.25,79.06 567.50,101.69 567.75,107.47 568.00,73.51 568.25,99.27 568.50,93.18 568.75,77.38 569.00,72.34 569.25,101.34 569.50,93.08 569.75,76.85 570.00,91.92 570.25,68.79 570.50,96.52 570.75,67.72 571.00,89.54 571.25,72.04 571.50,96.78 571.75,72.01 572.00,90.76 572.25,66.23 572.50,94.58 572.75,70.29 573.00,95.78 573.25,71.14 573.50,95.68 573.75,93.22 574.00,76.25 574.25,89.86 574.50,78.37 574.75,95.10 575.00,75.49 575.25,79.65 575.50,91.92 575.75,73.00 576.00,89.70 576.25,76.09 576.50,91.61 576.75,78.37 577.00,77.85 577.25,94.56 577.50,89.50 577.75,78.56 578.00,94.43 578.25,78.53 578.50,89.24 578.75,74.22 579.00,77.77 579.25,96.85 579.50,89.12 579.75,73.97 580.00,90.05 580.25,77.12 580.50,93.45 580.75,75.22 581.00,92.41 581.25,78.55 581.50,92.70 581.75,92.99 582.00,91.08 582.25,77.04 582.50,94.20 582.75,78.20 583.00,95.25 583.25,83.02 583.50,100.03 583.75,81.23 584.00,100.73 584.25,100.80 584.50,81.59 584.75,100.92 585.00,99.59 585.25,76.88 585.50,97.45 585.75,76.89 586.00,97.01 586.25,74.83 586.50,96.67 586.75,74.51 587.00,95.80 587.25,95.43 587.50,95.24 587.75,80.09 588.00,95.50 588.25,78.63 588.50,91.89 588.75,97.00 589.00,72.69 589.25,77.55 589.50,97.60 589.75,75.93 590.00,94.53 590.25,80.21 590.50,92.94 590.75,80.36 591.00,91.79 591.25,73.88 591.50,95.71 591.75,76.89 592.00,74.76 592.25,88.20 592.50,75.67 592.75,77.21 593.00,91.65 593.25,91.92 593.50,77.04 593.75,96.04 594.00,93.80 594.25,72.14 594.50,95.23 594.75,73.70 595.00,98.24 595.25,75.03 595.50,92.44 595.75,78.80 596.00,75.84 596.25,95.98 596.50,74.69 596.75,94.10 597.00,76.13 597.25,91.55 597.50,72.08 597.75,94.46 598.00,74.62 598.25,73.32 598.50,95.30 598.75,69.25 599.00,95.56 599.25,93.81 599.50,75.67 599.75,95.20 600.00,72.48 600.25,96.19 600.50,73.33 600.75,90.02 601.00,76.17 601.25,87.92 601.50,67.82 601.75,88.04 602.00,71.17 602.25,69.52 602.50,92.60 602.75,73.47 603.00,72.33 603.25,99.23 603.50,76.28 603.75,96.53 604.00,77.71 604.25,95.33 604.50,76.15 604.75,96.26 605.00,76.00 605.25,95.46 605.50,72.17 605.75,71.16 606.00,77.46 606.25,92.91 606.50,68.35 606.75,90.52 607.00,75.10 607.25,71.39 607.50,91.88 607.75,75.21 608.00,89.09 608.25,70.75 608.50,94.03 608.75,73.10 609.00,90.24 609.25,71.77 609.50,91.29 609.75,76.58 610.00,76.09 610.25,97.96 610.50,73.62 610.75,102.22 611.00,95.30 611.25,67.24 611.50,94.81 611.75,67.00 612.00,99.81 612.25,97.08 612.50,70.13 612.75,91.50 613.00,77.00 613.25,76.97 613.50,72.55 613.75,93.84 614.00,74.04 614.25,93.84 614.50,70.28 614.75,96.52 615.00,73.84 615.25,102.99 615.50,102.08 615.75,81.67 616.00,100.20 616.25,79.23 616.50,80.67 616.75,102.83 617.00,100.93 617.25,72.31 617.50,106.17 617.75,75.02 618.00,101.99 618.25,76.78 618.50,113.52 618.75,69.59 619.00,80.97 619.25,104.50 619.50,83.03 619.75,69.57 620.00,73.01 620.25,107.62 620.50,72.38 620.75,99.28 621.00,75.94 621.25,106.09 621.50,66.79 621.75,104.96 622.00,101.42 622.25,77.19 622.50,106.18 622.75,67.57 623.00,72.64 623.25,108.68 623.50,62.96 623.75,73.89 624.00,99.58 624.25,66.80 624.50,97.88 624.75,69.23 625.00,94.83 625.25,68.02 625.50,91.93 625.75,96.21 626.00,69.45 626.25,100.66 626.50,68.74 626.75,95.50 627.00,66.55 627.25,90.11 627.50,71.25 627.75,93.98 628.00,68.90 628.25,90.23 628.50,67.62 628.75,92.86 629.00,70.38 629.25,71.71 629.50,98.15 629.75,92.86 630.00,99.69 630.25,67.61 630.50,101.28 630.75,71.16 631.00,95.17 631.25,65.91 631.50,101.46 631.75,73.95 632.00,99.81 632.25,72.42 632.50,93.48 632.75,70.29 633.00,93.49 633.25,75.08 633.50,91.72 633.75,71.79 634.00,67.58 634.25,73.74 634.50,106.79 634.75,76.61 635.00,97.87 635.25,75.14 635.50,71.21 635.75,94.28 636.00,74.14 636.25,95.66 636.50,74.38 636.75,73.51 637.00,74.62 637.25,106.52 637.50,65.06 637.75,97.30 638.00,72.77 638.25,67.49 638.50,96.17 638.75,105.57 639.00,76.84 639.25,100.55 639.50,66.51 639.75,102.25 640.00,70.82 640.25,76.51 640.50,99.55 640.75,96.86 641.00,75.37 641.25,94.14 641.50,67.65 641.75,91.92 642.00,60.01 642.25,91.31 642.50,91.81 642.75,67.06 643.00,87.68 643.25,71.56 643.50,94.33 643.75,88.43 644.00,93.14 644.25,73.95 644.50,87.48 644.75,72.65 645.00,84.61 645.25,72.30 645.50,74.66 645.75,70.95 646.00,96.80 646.25,94.37 646.50,74.95 646.75,71.43 647.00,102.93 647.25,74.49 647.50,105.78 647.75,98.38 648.00,74.22 648.25,99.27 648.50,75.96 648.75,107.65 649.00,75.29 649.25,107.50 649.50,69.98 649.75,67.75 650.00,108.22 650.25,70.15 650.50,98.67 650.75,70.98 651.00,70.81 651.25,88.68 651.50,91.08 651.75,67.33 652.00,91.21 652.25,72.65 652.50,91.77 652.75,73.63 653.00,95.12 653.25,67.51 653.50,98.35 653.75,71.75 654.00,94.71 654.25,68.54 654.50,99.11 654.75,69.79 655.00,101.10 655.25,72.19 655.50,77.14 655.75,105.40 656.00,104.95 656.25,72.61 656.50,108.88 656.75,66.64 657.00,102.00 657.25,69.19 657.50,96.24 657.75,75.79 658.00,75.46 658.25,99.17 658.50,68.65 658.75,67.43 659.00,100.33 659.25,70.66 659.50,102.44 659.75,100.71 660.00,70.83 660.25,110.92 660.50,71.47 660.75,114.70 661.00,71.13 661.25,113.03 661.50,79.99 661.75,108.81 662.00,65.73 662.25,70.37 662.50,112.95 662.75,67.50 663.00,112.33 663.25,80.15 663.50,113.24 663.75,104.23 664.00,109.51 664.25,79.59 664.50,98.48 664.75,74.87 665.00,101.29 665.25,72.81 665.50,89.82 665.75,71.49 666.00,93.69 666.25,68.66 666.50,67.64 666.75,99.39 667.00,72.38 667.25,72.62 667.50,104.73 667.75,70.21 668.00,105.58 668.25,76.57 668.50,58.50 668.75,69.48 669.00,104.14 669.25,62.04 669.50,103.13 669.75,104.22 670.00,76.13 670.25,105.52 670.50,68.92 670.75,98.07 671.00,105.73 671.25,104.47 671.50,99.77 671.75,96.19 672.00,70.48 672.25,107.76 672.50,67.27 672.75,95.52 673.00,95.91 673.25,71.47 673.50,60.29 673.75,97.53 674.00,61.39 674.25,99.37 674.50,59.20 674.75,94.15 675.00,66.06 675.25,107.61 675.50,61.50 675.75,109.35 676.00,62.29 676.25,108.83 676.50,61.29 676.75,96.91 677.00,72.93 677.25,120.63 677.50,97.94 677.75,66.46 678.00,111.44" fill="none" stroke="#ff0000" stroke-width="0.7" stroke-linejoin="round"/><polyline points="385.00,71.80 385.25,77.30 385.50,101.19 385.75,75.85 386.00,99.13 386.25,97.48 386.50,66.74 386.75,100.73 387.00,72.07 387.25,105.91 387.50,108.00 387.75,77.93 388.00,97.60 388.25,56.13 388.50,101.15 388.75,64.64 389.00,106.16 389.25,62.51 389.50,107.44 389.75,106.65 390.00,71.39 390.25,70.52 390.50,71.41 390.75,101.74 391.00,62.87 391.25,100.35 391.50,90.38 391.75,92.38 392.00,94.89 392.25,63.70 392.50,100.98 392.75,65.43 393.00,99.04 393.25,72.79 393.50,73.45 393.75,64.39 394.00,95.16 394.25,72.66 394.50,98.65 394.75,72.27 395.00,65.03 395.25,105.40 395.50,74.18 395.75,99.86 396.00,67.03 396.25,97.43 396.50,60.90 396.75,74.72 397.00,101.64 397.25,68.65 397.50,95.98 397.75,67.62 398.00,93.71 398.25,64.96 398.50,92.01 398.75,66.63 399.00,73.22 399.25,102.15 399.50,99.55 399.75,71.29 400.00,103.62 400.25,70.53 400.50,91.82 400.75,77.44 401.00,90.73 401.25,97.19 401.50,72.71 401.75,90.20 402.00,70.90 402.25,74.84 402.50,73.78 402.75,88.58 403.00,69.26 403.25,93.12 403.50,74.35 403.75,74.50 404.00,98.07 404.25,71.63 404.50,98.60 404.75,66.71 405.00,94.98 405.25,93.30 405.50,74.58 405.75,103.79 406.00,78.86 406.25,95.92 406.50,95.13 406.75,72.16 407.00,74.15 407.25,75.96 407.50,96.71 407.75,76.61 408.00,93.83 408.25,71.44 408.50,89.57 408.75,76.69 409.00,71.30 409.25,90.98 409.50,73.82 409.75,99.34 410.00,72.14 410.25,74.47 410.50,95.74 410.75,99.71 411.00,79.23 411.25,96.51 411.50,72.73 411.75,103.03 412.00,77.46 412.25,99.40 412.50,79.70 412.75,106.34 413.00,80.59 413.25,83.63 413.50,99.17 413.75,83.74 414.00,103.59 414.25,77.66 414.50,101.70 414.75,81.43 415.00,100.65 415.25,83.19 415.50,85.19 415.75,101.03 416.00,84.74 416.25,109.52 416.50,82.64 416.75,111.48 417.00,82.16 417.25,111.52 417.50,82.00 417.75,87.55 418.00,87.96 418.25,103.64 418.50,89.02 418.75,88.43 419.00,103.71 419.25,84.18 419.50,99.90 419.75,83.64 420.00,99.47 420.25,81.87 420.50,102.04 420.75,85.45 421.00,106.51 421.25,79.08 421.50,101.65 421.75,74.74 422.00,84.17 422.25,81.97 422.50,99.93 422.75,83.09 423.00,82.01 423.25,94.88 423.50,80.14 423.75,99.27 424.00,81.54 424.25,94.49 424.50,70.95 424.75,96.20 425.00,79.60 425.25,95.83 425.50,99.18 425.75,74.89 426.00,95.82 426.25,99.88 426.50,97.16 426.75,92.73 427.00,93.58 427.25,81.77 427.50,81.29 427.75,94.02 428.00,78.98 428.25,94.89 428.50,80.91 428.75,93.76 429.00,79.87 429.25,90.79 429.50,91.14 429.75,72.09 430.00,88.49 430.25,75.57 430.50,91.40 430.75,77.31 431.00,79.73 431.25,93.48 431.50,80.62 431.75,91.51 432.00,77.33 432.25,90.69 432.50,78.95 432.75,95.28 433.00,80.69 433.25,98.91 433.50,77.59 433.75,98.25 434.00,76.05 434.25,93.80 434.50,76.05 434.75,90.32 435.00,75.75 435.25,96.10 435.50,70.88 435.75,94.58 436.00,94.76 436.25,93.60 436.50,69.57 436.75,91.49 437.00,70.58 437.25,88.22 437.50,72.74 437.75,74.17 438.00,96.98 438.25,74.88 438.50,96.10 438.75,98.13 439.00,77.00 439.25,94.91 439.50,74.96 439.75,105.75 440.00,93.92 440.25,78.87 440.50,94.86 440.75,77.14 441.00,72.89 441.25,97.27 441.50,91.80 441.75,96.38 442.00,72.56 442.25,96.60 442.50,74.85 442.75,98.80 443.00,75.69 443.25,96.74 443.50,75.66 443.75,93.31 444.00,97.50 444.25,91.40 444.50,73.15 444.75,94.45 445.00,95.93 445.25,75.49 445.50,90.05 445.75,76.18 446.00,78.65 446.25,73.33 446.50,90.30 446.75,89.30 447.00,73.01 447.25,74.46 447.50,91.82 447.75,78.95 448.00,93.14 448.25,76.51 448.50,99.64 448.75,70.33 449.00,88.70 449.25,72.81 449.50,95.65 449.75,73.34 450.00,94.00 450.25,77.81 450.50,93.20 450.75,73.43 451.00,91.44 451.25,73.53 451.50,103.69 451.75,75.22 452.00,100.35 452.25,94.45 452.50,81.28 452.75,97.94 453.00,80.12 453.25,96.31 453.50,78.33 453.75,80.20 454.00,96.73 454.25,82.16 454.50,79.47 454.75,96.99 455.00,96.60 455.25,77.42 455.50,92.04 455.75,77.49 456.00,98.19 456.25,76.37 456.50,91.32 456.75,78.99 457.00,91.84 457.25,76.31 457.50,92.35 457.75,76.81 458.00,94.35 458.25,75.60 458.50,93.66 458.75,74.03 459.00,94.94 459.25,75.08 459.50,91.27 459.75,73.10 460.00,89.63 460.25,90.62 460.50,77.04 460.75,92.29 461.00,94.35 461.25,89.08 461.50,91.44 461.75,72.80 462.00,77.52 462.25,89.96 462.50,74.99 462.75,89.91 463.00,73.30 463.25,87.26 463.50,72.02 463.75,86.02 464.00,74.45 464.25,87.27 464.50,70.29 464.75,89.39 465.00,73.33 465.25,73.18 465.50,71.48 465.75,90.43 466.00,75.52 466.25,87.79 466.50,76.02 466.75,87.58 467.00,75.93 467.25,88.60 467.50,76.69 467.75,88.25 468.00,74.97 468.25,91.18 468.50,78.46 468.75,93.83 469.00,77.65 469.25,75.26 469.50,89.62 469.75,80.80 470.00,78.78 470.25,79.15 470.50,92.22 470.75,76.42 471.00,93.20 471.25,74.76 471.50,96.80 471.75,78.68 472.00,74.60 472.25,89.47 472.50,96.41 472.75,75.75 473.00,89.89 473.25,71.50 473.50,89.51 473.75,90.70 474.00,92.72 474.25,76.35 474.50,88.12 474.75,76.64 475.00,73.75 475.25,87.71 475.50,75.73 475.75,91.29 476.00,78.15 476.25,79.33 476.50,89.98 476.75,77.16 477.00,91.77 477.25,78.72 477.50,78.69 477.75,100.49 478.00,75.90 478.25,93.31 478.50,76.25 478.75,95.75 479.00,79.53 479.25,95.44 479.50,97.70 479.75,81.23 480.00,93.88 480.25,77.27 480.50,96.67 480.75,76.36 481.00,94.90 481.25,77.91 481.50,91.98 481.75,73.89 482.00,80.40 482.25,91.96 482.50,80.48 482.75,93.86 483.00,91.53 483.25,93.16 483.50,77.85 483.75,91.84 484.00,76.67 484.25,90.66 484.50,81.70 484.75,82.26 485.00,91.13 485.25,81.32 485.50,92.29 485.75,82.45 486.00,81.79 486.25,93.77 486.50,81.92 486.75,95.24 487.00,81.59 487.25,93.26 487.50,81.56 487.75,96.38 488.00,82.28 488.25,95.18 488.50,81.13 488.75,95.01 489.00,80.34 489.25,80.34 489.50,92.73 489.75,81.97 490.00,95.67 490.25,83.26 490.50,82.88 490.75,93.25 491.00,80.19 491.25,92.11 491.50,80.04 491.75,90.68 492.00,81.30 492.25,81.72 492.50,81.24 492.75,93.78 493.00,82.73 493.25,90.37 493.50,83.72 493.75,92.17 494.00,83.83 494.25,80.89 494.50,93.40 494.75,83.41 495.00,92.69 495.25,83.35 495.50,92.52 495.75,83.40 496.00,93.59 496.25,83.94 496.50,92.74 496.75,85.35 497.00,97.34 497.25,96.38 497.50,81.74 497.75,82.19 498.00,92.81 498.25,83.31 498.50,93.47 498.75,82.07 499.00,93.64 499.25,79.97 499.50,90.57 499.75,79.62 500.00,90.41 500.25,93.82 500.50,81.96 500.75,90.59 501.00,82.15 501.25,92.56 501.50,80.69 501.75,90.25 502.00,79.34 502.25,90.90 502.50,80.61 502.75,91.24 503.00,89.58 503.25,80.45 503.50,89.63 503.75,78.96 504.00,91.00 504.25,80.46 504.50,89.57 504.75,87.66 505.00,76.94 505.25,93.53 505.50,76.58 505.75,88.05 506.00,78.31 506.25,91.82 506.50,75.86 506.75,89.00 507.00,76.94 507.25,79.26 507.50,90.78 507.75,92.10 508.00,90.98 508.25,78.02 508.50,77.25 508.75,92.67 509.00,79.57 509.25,93.34 509.50,76.82 509.75,79.68 510.00,93.99 510.25,77.13 510.50,93.37 510.75,92.02 511.00,77.20 511.25,93.13 511.50,75.38 511.75,91.30 512.00,91.14 512.25,75.91 512.50,94.90 512.75,70.01 513.00,94.15 513.25,74.85 513.50,89.89 513.75,78.51 514.00,77.12 514.25,77.96 514.50,94.58 514.75,90.78 515.00,79.68 515.25,91.80 515.50,78.74 515.75,79.96 516.00,93.00 516.25,90.19 516.50,90.39 516.75,81.54 517.00,89.48 517.25,79.63 517.50,80.77 517.75,90.34 518.00,92.50 518.25,81.28 518.50,91.86 518.75,91.89 519.00,91.03 519.25,79.35 519.50,92.99 519.75,79.32 520.00,89.08 520.25,81.00 520.50,80.58 520.75,90.27 521.00,81.60 521.25,89.68 521.50,80.56 521.75,92.70 522.00,82.37 522.25,93.43 522.50,92.66 522.75,80.54 523.00,78.59 523.25,94.29 523.50,81.14 523.75,91.53 524.00,80.45 524.25,95.74 524.50,92.45 524.75,76.02 525.00,94.92 525.25,75.50 525.50,94.15 525.75,90.63 526.00,81.74 526.25,74.75 526.50,94.47 526.75,95.83 527.00,77.91 527.25,92.32 527.50,77.87 527.75,91.73 528.00,77.84 528.25,94.54 528.50,90.26 528.75,77.62 529.00,94.07 529.25,75.20 529.50,95.29 529.75,76.42 530.00,94.82 530.25,76.07 530.50,94.30 530.75,75.59 531.00,88.41 531.25,78.94 531.50,89.49 531.75,90.39 532.00,73.97 532.25,89.02 532.50,75.30 532.75,90.09 533.00,73.58 533.25,91.64 533.50,72.56 533.75,89.79 534.00,77.87 534.25,92.28 534.50,75.37 534.75,88.50 535.00,78.53 535.25,90.79 535.50,88.33 535.75,75.69 536.00,88.88 536.25,79.31 536.50,88.55 536.75,75.93 537.00,90.56 537.25,77.11 537.50,91.91 537.75,79.96 538.00,90.56 538.25,88.79 538.50,88.39 538.75,78.71 539.00,91.02 539.25,78.89 539.50,89.89 539.75,92.22 540.00,76.40 540.25,91.52 540.50,78.88 540.75,90.63 541.00,76.66 541.25,87.67 541.50,88.84 541.75,77.83 542.00,75.73 542.25,91.70 542.50,77.34 542.75,88.68 543.00,75.05 543.25,74.04 543.50,89.99 543.75,78.76 544.00,88.70 544.25,74.38 544.50,77.87 544.75,94.81 545.00,77.23 545.25,91.84 545.50,75.83 545.75,80.83 546.00,80.03 546.25,92.85 546.50,80.56 546.75,90.65 547.00,77.18 547.25,100.74 547.50,79.27 547.75,77.60 548.00,96.77 548.25,79.01 548.50,77.56 548.75,93.81 549.00,82.34 549.25,74.47 549.50,83.06 549.75,97.15 550.00,79.59 550.25,97.34 550.50,80.01 550.75,95.76 551.00,75.19 551.25,95.58 551.50,81.17 551.75,97.15 552.00,77.02 552.25,81.14 552.50,97.37 552.75,80.91 553.00,96.70 553.25,76.55 553.50,95.08 553.75,80.33 554.00,98.63 554.25,79.23 554.50,95.19 554.75,81.60 555.00,96.07 555.25,80.73 555.50,92.73 555.75,76.10 556.00,90.86 556.25,76.36 556.50,92.24 556.75,75.16 557.00,89.50 557.25,92.60 557.50,75.26 557.75,90.35 558.00,93.89 558.25,76.86 558.50,95.89 558.75,98.66 559.00,78.82 559.25,77.99 559.50,99.34 559.75,80.73 560.00,93.19 560.25,78.30 560.50,95.40 560.75,82.91 561.00,94.37 561.25,95.82 561.50,80.94 561.75,91.78 562.00,82.68 562.25,91.07 562.50,83.09 562.75,82.47 563.00,79.95 563.25,90.84 563.50,78.62 563.75,93.57 564.00,81.23 564.25,91.64 564.50,91.01 564.75,79.69 565.00,95.87 565.25,82.33 565.50,97.06 565.75,79.95 566.00,98.42 566.25,77.64 566.50,77.44 566.75,97.28 567.00,78.44 567.25,96.35 567.50,76.64 567.75,96.69 568.00,101.19 568.25,98.08 568.50,93.17 568.75,103.14 569.00,80.26 569.25,92.84 569.50,77.29 569.75,78.28 570.00,91.00 570.25,77.14 570.50,77.66 570.75,70.09 571.00,94.36 571.25,70.53 571.50,76.12 571.75,71.83 572.00,95.40 572.25,71.90 572.50,92.54 572.75,73.82 573.00,74.90 573.25,95.54 573.50,70.98 573.75,95.49 574.00,73.74 574.25,89.47 574.50,76.49 574.75,90.21 575.00,77.58 575.25,79.55 575.50,91.12 575.75,75.89 576.00,91.83 576.25,78.28 576.50,88.99 576.75,90.98 577.00,76.51 577.25,91.42 577.50,75.52 577.75,92.21 578.00,91.43 578.25,80.07 578.50,90.06 578.75,74.37 579.00,91.55 579.25,77.97 579.50,75.30 579.75,91.86 580.00,87.60 580.25,74.94 580.50,75.19 580.75,89.67 581.00,93.54 581.25,92.36 581.50,77.69 581.75,89.57 582.00,80.76 582.25,90.25 582.50,91.06 582.75,76.03 583.00,95.04 583.25,94.54 583.50,94.36 583.75,81.22 584.00,78.91 584.25,98.39 584.50,100.78 584.75,81.36 585.00,81.85 585.25,79.99 585.50,94.67 585.75,99.64 586.00,76.26 586.25,94.69 586.50,76.00 586.75,81.93 587.00,91.94 587.25,79.46 587.50,92.57 587.75,92.92 588.00,79.30 588.25,94.53 588.50,76.27 588.75,92.51 589.00,76.81 589.25,99.52 589.50,77.29 589.75,96.57 590.00,78.65 590.25,95.05 590.50,77.55 590.75,97.85 591.00,93.71 591.25,77.51 591.50,94.73 591.75,89.02 592.00,76.30 592.25,89.10 592.50,76.26 592.75,87.24 593.00,77.18 593.25,91.50 593.50,76.02 593.75,80.70 594.00,94.38 594.25,78.74 594.50,92.83 594.75,78.62 595.00,93.03 595.25,78.68 595.50,93.65 595.75,76.28 596.00,93.04 596.25,76.13 596.50,98.06 596.75,77.81 597.00,96.27 597.25,73.91 597.50,90.84 597.75,93.80 598.00,75.38 598.25,90.70 598.50,73.60 598.75,90.85 599.00,74.16 599.25,97.68 599.50,76.92 599.75,95.82 600.00,71.00 600.25,69.54 600.50,75.25 600.75,66.61 601.00,69.21 601.25,89.79 601.50,75.49 601.75,94.44 602.00,76.78 602.25,73.75 602.50,91.78 602.75,76.76 603.00,90.34 603.25,94.55 603.50,71.09 603.75,92.89 604.00,74.98 604.25,71.89 604.50,72.04 604.75,73.01 605.00,91.27 605.25,92.62 605.50,90.35 605.75,71.80 606.00,94.05 606.25,77.84 606.50,78.17 606.75,94.79 607.00,95.39 607.25,70.78 607.50,95.93 607.75,76.36 608.00,92.32 608.25,76.17 608.50,92.74 608.75,76.73 609.00,93.92 609.25,77.42 609.50,95.32 609.75,73.73 610.00,90.03 610.25,70.68 610.50,99.41 610.75,70.02 611.00,95.28 611.25,75.58 611.50,97.67 611.75,72.12 612.00,97.52 612.25,95.01 612.50,99.33 612.75,72.33 613.00,96.24 613.25,73.07 613.50,91.25 613.75,91.83 614.00,75.29 614.25,94.02 614.50,77.02 614.75,92.85 615.00,93.44 615.25,94.91 615.50,70.98 615.75,100.49 616.00,80.26 616.25,95.08 616.50,82.53 616.75,96.15 617.00,78.37 617.25,75.58 617.50,104.90 617.75,101.03 618.00,82.39 618.25,104.28 618.50,84.64 618.75,106.65 619.00,81.22 619.25,104.37 619.50,79.39 619.75,106.54 620.00,80.32 620.25,78.75 620.50,101.48 620.75,81.32 621.00,110.45 621.25,105.90 621.50,79.70 621.75,103.29 622.00,70.01 622.25,95.42 622.50,68.83 622.75,72.51 623.00,101.13 623.25,67.20 623.50,94.11 623.75,72.60 624.00,101.48 624.25,69.33 624.50,100.21 624.75,72.86 625.00,91.91 625.25,76.84 625.50,96.21 625.75,90.91 626.00,71.53 626.25,94.70 626.50,68.84 626.75,72.29 627.00,76.38 627.25,94.45 627.50,73.58 627.75,91.46 628.00,72.72 628.25,92.73 628.50,91.70 628.75,90.43 629.00,75.34 629.25,88.25 629.50,94.80 629.75,74.28 630.00,90.04 630.25,90.18 630.50,72.22 630.75,92.88 631.00,96.39 631.25,67.05 631.50,91.59 631.75,67.91 632.00,68.32 632.25,98.53 632.50,61.35 632.75,93.09 633.00,75.65 633.25,62.64 633.50,97.77 633.75,70.13 634.00,89.99 634.25,68.83 634.50,92.75 634.75,76.32 635.00,96.58 635.25,77.15 635.50,98.85 635.75,75.19 636.00,95.43 636.25,60.83 636.50,70.06 636.75,98.20 637.00,70.24 637.25,97.25 637.50,77.81 637.75,101.35 638.00,66.81 638.25,99.82 638.50,100.08 638.75,70.65 639.00,77.42 639.25,101.65 639.50,66.79 639.75,99.72 640.00,98.45 640.25,70.80 640.50,92.35 640.75,72.31 641.00,100.41 641.25,76.17 641.50,92.17 641.75,72.71 642.00,92.64 642.25,67.28 642.50,74.68 642.75,66.04 643.00,87.52 643.25,70.75 643.50,94.42 643.75,69.41 644.00,87.03 644.25,74.18 644.50,72.96 644.75,71.07 645.00,83.95 645.25,71.65 645.50,86.31 645.75,67.04 646.00,86.78 646.25,72.85 646.50,94.01 646.75,68.58 647.00,95.22 647.25,68.06 647.50,96.15 647.75,106.00 648.00,74.96 648.25,100.31 648.50,80.13 648.75,100.69 649.00,72.63 649.25,99.57 649.50,68.61 649.75,102.59 650.00,73.50 650.25,69.31 650.50,75.36 650.75,91.54 651.00,98.19 651.25,90.38 651.50,73.04 651.75,99.78 652.00,61.91 652.25,90.16 652.50,67.76 652.75,70.24 653.00,89.40 653.25,73.90 653.50,88.51 653.75,73.91 654.00,97.18 654.25,96.83 654.50,75.80 654.75,69.02 655.00,94.09 655.25,68.80 655.50,70.37 655.75,93.45 656.00,75.69 656.25,94.53 656.50,63.97 656.75,75.52 657.00,105.39 657.25,73.29 657.50,101.16 657.75,102.49 658.00,76.63 658.25,63.28 658.50,105.02 658.75,75.16 659.00,105.82 659.25,69.77 659.50,108.59 659.75,77.56 660.00,105.94 660.25,72.91 660.50,106.86 660.75,73.46 661.00,105.74 661.25,78.22 661.50,113.51 661.75,75.92 662.00,75.12 662.25,107.25 662.50,72.04 662.75,71.21 663.00,117.64 663.25,71.29 663.50,104.32 663.75,70.98 664.00,110.11 664.25,71.57 664.50,66.98 664.75,108.77 665.00,70.84 665.25,71.30 665.50,98.19 665.75,68.53 666.00,90.97 666.25,67.70 666.50,97.45 666.75,74.61 667.00,95.65 667.25,76.10 667.50,98.34 667.75,66.79 668.00,96.87 668.25,77.12 668.50,74.00 668.75,102.17 669.00,69.55 669.25,74.60 669.50,102.91 669.75,98.42 670.00,74.29 670.25,94.05 670.50,70.56 670.75,101.41 671.00,66.28 671.25,67.72 671.50,94.81 671.75,69.99 672.00,102.82 672.25,70.58 672.50,113.93 672.75,97.48 673.00,71.42 673.25,103.46 673.50,71.77 673.75,102.62 674.00,70.72 674.25,105.46 674.50,65.29 674.75,97.65 675.00,59.56 675.25,65.87 675.50,97.04 675.75,63.82 676.00,107.50 676.25,103.18 676.50,66.55 676.75,101.08 677.00,106.30 677.25,68.42 677.50,97.92 677.75,72.11 678.00,104.82" fill="none" stroke="#00ff00" stroke-width="0.7" stroke-linejoin="round"/></g>
<line x1="385.00" y1="43.90" x2="387.80" y2="43.90" stroke="#3a3a3a" stroke-width="1"/>
<line x1="675.20" y1="43.90" x2="678.00" y2="43.90" stroke="#3a3a3a" stroke-width="1"/>
<line x1="385.00" y1="85.60" x2="387.80" y2="85.60" stroke="#3a3a3a" stroke-width="1"/>
<line x1="675.20" y1="85.60" x2="678.00" y2="85.60" stroke="#3a3a3a" stroke-width="1"/>
<line x1="385.00" y1="127.30" x2="387.80" y2="127.30" stroke="#3a3a3a" stroke-width="1"/>
<line x1="675.20" y1="127.30" x2="678.00" y2="127.30" stroke="#3a3a3a" stroke-width="1"/>
<line x1="385.00" y1="136.00" x2="385.00" y2="133.20" stroke="#3a3a3a" stroke-width="1"/>
<line x1="385.00" y1="18.80" x2="385.00" y2="21.60" stroke="#3a3a3a" stroke-width="1"/>
<line x1="476.56" y1="136.00" x2="476.56" y2="133.20" stroke="#3a3a3a" stroke-width="1"/>
<line x1="476.56" y1="18.80" x2="476.56" y2="21.60" stroke="#3a3a3a" stroke-width="1"/>
<line x1="568.12" y1="136.00" x2="568.12" y2="133.20" stroke="#3a3a3a" stroke-width="1"/>
<line x1="568.12" y1="18.80" x2="568.12" y2="21.60" stroke="#3a3a3a" stroke-width="1"/>
<line x1="659.69" y1="136.00" x2="659.69" y2="133.20" stroke="#3a3a3a" stroke-width="1"/>
<line x1="659.69" y1="18.80" x2="659.69" y2="21.60" stroke="#3a3a3a" stroke-width="1"/>
<rect x="385.00" y="18.80" width="293.00" height="117.20" fill="none" stroke="#262626" stroke-width="1.1"/>
<text x="382.40" y="48.30" text-anchor="end" font-size="12.5">5</text>
<text x="382.40" y="90.00" text-anchor="end" font-size="12.5">0</text>
<text x="382.40" y="131.70" text-anchor="end" font-size="12.5">−5</text>
<text x="385.00" y="150.80" text-anchor="middle" font-size="12.5">0</text>
<text x="476.56" y="150.80" text-anchor="middle" font-size="12.5">5000</text>
<text x="568.12" y="150.80" text-anchor="middle" font-size="12.5">10000</text>
<text x="659.69" y="150.80" text-anchor="middle" font-size="12.5">15000</text>
<line x1="61.00" y1="188.10" x2="338.60" y2="188.10" stroke="#858585" stroke-width="1" stroke-dasharray="1 3.1"/>
<line x1="61.00" y1="228.95" x2="338.60" y2="228.95" stroke="#858585" stroke-width="1" stroke-dasharray="1 3.1"/>
<line x1="61.00" y1="269.80" x2="338.60" y2="269.80" stroke="#858585" stroke-width="1" stroke-dasharray="1 3.1"/>
<line x1="61.00" y1="178.40" x2="61.00" y2="290.30" stroke="#858585" stroke-width="1" stroke-dasharray="1 3.1"/>
<line x1="147.75" y1="178.40" x2="147.75" y2="290.30" stroke="#858585" stroke-width="1" stroke-dasharray="1 3.1"/>
<line x1="234.50" y1="178.40" x2="234.50" y2="290.30" stroke="#858585" stroke-width="1" stroke-dasharray="1 3.1"/>
<line x1="321.25" y1="178.40" x2="321.25" y2="290.30" stroke="#858585" stroke-width="1" stroke-dasharray="1 3.1"/>
<g clip-path="url(#clipBL)"><polyline points="61.00,202.17 61.25,241.29 61.50,238.44 61.75,210.21 62.00,208.62 62.25,235.92 62.50,204.19 62.75,238.75 63.00,209.47 63.25,250.45 63.50,209.97 63.75,243.93 64.00,246.08 64.25,219.25 64.50,249.66 64.75,225.23 65.00,246.75 65.25,225.73 65.50,252.04 65.75,227.43 66.00,251.06 66.25,224.99 66.50,253.06 66.75,231.80 67.00,262.16 67.25,260.72 67.50,259.84 67.75,230.67 68.00,262.66 68.25,231.51 68.50,254.15 68.75,231.39 69.00,253.76 69.25,230.71 69.50,252.67 69.75,228.89 70.00,245.48 70.25,223.10 70.50,241.32 70.75,240.70 71.00,218.51 71.25,238.34 71.50,220.08 71.75,241.97 72.00,215.49 72.25,236.36 72.50,217.14 72.75,212.54 73.00,238.02 73.25,215.39 73.50,242.86 73.75,214.06 74.00,243.01 74.25,220.25 74.50,219.36 74.75,246.38 75.00,220.36 75.25,223.70 75.50,222.08 75.75,249.75 76.00,227.68 76.25,250.16 76.50,250.78 76.75,250.83 77.00,230.99 77.25,257.64 77.50,238.91 77.75,239.26 78.00,261.06 78.25,241.08 78.50,257.89 78.75,238.46 79.00,258.90 79.25,237.01 79.50,261.04 79.75,240.30 80.00,256.49 80.25,238.40 80.50,255.38 80.75,235.80 81.00,253.57 81.25,232.03 81.50,251.73 81.75,249.81 82.00,229.70 82.25,250.68 82.50,228.35 82.75,245.05 83.00,227.01 83.25,244.44 83.50,227.20 83.75,248.61 84.00,228.16 84.25,248.77 84.50,248.23 84.75,225.33 85.00,247.76 85.25,227.53 85.50,248.35 85.75,255.33 86.00,233.01 86.25,253.65 86.50,234.27 86.75,253.82 87.00,234.27 87.25,250.93 87.50,238.34 87.75,252.02 88.00,238.05 88.25,234.08 88.50,252.45 88.75,234.47 89.00,253.91 89.25,234.86 89.50,249.49 89.75,238.61 90.00,251.25 90.25,238.18 90.50,249.92 90.75,251.37 91.00,250.47 91.25,234.92 91.50,250.77 91.75,235.51 92.00,249.01 92.25,233.94 92.50,251.35 92.75,232.60 93.00,251.00 93.25,235.01 93.50,248.00 93.75,250.25 94.00,233.62 94.25,252.21 94.50,235.19 94.75,252.26 95.00,233.01 95.25,249.66 95.50,233.53 95.75,252.03 96.00,234.80 96.25,248.29 96.50,232.00 96.75,249.71 97.00,231.84 97.25,246.60 97.50,223.60 97.75,244.75 98.00,227.80 98.25,246.31 98.50,230.16 98.75,248.56 99.00,227.56 99.25,249.31 99.50,235.44 99.75,250.95 100.00,236.49 100.25,241.04 100.50,256.70 100.75,241.36 101.00,264.34 101.25,244.52 101.50,257.87 101.75,243.22 102.00,256.80 102.25,241.96 102.50,258.59 102.75,238.41 103.00,258.12 103.25,244.63 103.50,258.51 103.75,247.65 104.00,260.46 104.25,247.19 104.50,261.07 104.75,248.65 105.00,263.07 105.25,250.36 105.50,264.51 105.75,253.44 106.00,264.34 106.25,266.77 106.50,264.55 106.75,253.49 107.00,266.33 107.25,252.34 107.50,272.28 107.75,266.21 108.00,251.88 108.25,263.80 108.50,261.49 108.75,245.39 109.00,255.99 109.25,243.02 109.50,252.86 109.75,241.46 110.00,253.59 110.25,241.56 110.50,251.58 110.75,254.11 111.00,244.72 111.25,254.91 111.50,248.00 111.75,258.99 112.00,248.63 112.25,251.27 112.50,263.89 112.75,254.23 113.00,266.58 113.25,253.11 113.50,266.95 113.75,254.92 114.00,264.45 114.25,251.24 114.50,264.93 114.75,248.92 115.00,260.53 115.25,248.99 115.50,258.10 115.75,249.07 116.00,258.24 116.25,244.25 116.50,258.20 116.75,245.65 117.00,257.08 117.25,243.10 117.50,254.72 117.75,242.64 118.00,256.38 118.25,256.47 118.50,244.70 118.75,257.31 119.00,244.67 119.25,261.70 119.50,244.99 119.75,252.66 120.00,268.03 120.25,253.79 120.50,272.63 120.75,258.80 121.00,272.46 121.25,269.03 121.50,253.00 121.75,266.63 122.00,252.14 122.25,267.52 122.50,263.73 122.75,263.22 123.00,246.74 123.25,245.61 123.50,260.49 123.75,247.13 124.00,258.99 124.25,261.82 124.50,248.97 124.75,250.93 125.00,265.13 125.25,254.59 125.50,252.87 125.75,267.69 126.00,256.62 126.25,267.42 126.50,267.29 126.75,268.29 127.00,252.31 127.25,266.39 127.50,251.77 127.75,263.10 128.00,245.15 128.25,243.46 128.50,259.25 128.75,238.52 129.00,254.64 129.25,237.68 129.50,253.98 129.75,240.56 130.00,255.35 130.25,240.72 130.50,244.20 130.75,259.23 131.00,245.98 131.25,261.69 131.50,249.96 131.75,261.76 132.00,246.71 132.25,262.48 132.50,251.44 132.75,265.83 133.00,250.00 133.25,264.89 133.50,262.05 133.75,250.14 134.00,245.02 134.25,259.25 134.50,240.83 134.75,258.51 135.00,239.18 135.25,256.20 135.50,236.99 135.75,255.15 136.00,256.29 136.25,235.65 136.50,255.06 136.75,233.66 137.00,258.87 137.25,238.78 137.50,243.99 137.75,263.51 138.00,267.41 138.25,267.62 138.50,251.29 138.75,268.18 139.00,255.36 139.25,255.09 139.50,272.12 139.75,258.37 140.00,274.87 140.25,258.00 140.50,270.00 140.75,255.67 141.00,266.64 141.25,255.78 141.50,263.26 141.75,261.83 142.00,249.38 142.25,261.53 142.50,246.34 142.75,256.58 143.00,243.46 143.25,256.02 143.50,253.44 143.75,245.05 144.00,256.37 144.25,246.90 144.50,247.80 144.75,258.78 145.00,258.81 145.25,250.55 145.50,260.81 145.75,252.92 146.00,263.46 146.25,254.41 146.50,264.42 146.75,266.90 147.00,253.56 147.25,258.69 147.50,266.50 147.75,259.45 148.00,260.18 148.25,268.12 148.50,259.04 148.75,270.14 149.00,256.76 149.25,252.53 149.50,266.09 149.75,266.33 150.00,265.21 150.25,251.63 150.50,260.54 150.75,241.20 151.00,260.93 151.25,242.65 151.50,242.60 151.75,257.57 152.00,242.49 152.25,254.67 152.50,239.91 152.75,256.05 153.00,242.94 153.25,255.24 153.50,245.17 153.75,263.00 154.00,247.27 154.25,262.84 154.50,249.23 154.75,262.21 155.00,252.47 155.25,265.21 155.50,252.72 155.75,264.18 156.00,254.59 156.25,263.09 156.50,256.53 156.75,265.19 157.00,254.93 157.25,264.75 157.50,254.84 157.75,264.45 158.00,255.02 158.25,260.68 158.50,254.35 158.75,260.49 159.00,251.99 159.25,258.83 159.50,250.32 159.75,256.25 160.00,249.50 160.25,257.26 160.50,249.42 160.75,257.00 161.00,251.77 161.25,259.40 161.50,252.49 161.75,260.02 162.00,254.31 162.25,262.07 162.50,255.52 162.75,263.19 163.00,258.17 163.25,266.40 163.50,268.03 163.75,261.40 164.00,270.53 164.25,262.32 164.50,271.54 164.75,266.15 165.00,273.81 165.25,275.85 165.50,269.86 165.75,275.73 166.00,269.78 166.25,277.13 166.50,270.29 166.75,278.07 167.00,269.50 167.25,280.89 167.50,268.78 167.75,267.61 168.00,275.95 168.25,266.26 168.50,272.85 168.75,264.35 169.00,271.73 169.25,264.82 169.50,271.46 169.75,262.65 170.00,269.72 170.25,260.84 170.50,268.21 170.75,259.03 171.00,268.13 171.25,257.78 171.50,267.66 171.75,256.19 172.00,267.31 172.25,257.27 172.50,268.35 172.75,260.87 173.00,269.73 173.25,258.74 173.50,267.82 173.75,260.83 174.00,260.58 174.25,265.24 174.50,258.51 174.75,264.16 175.00,257.00 175.25,256.49 175.50,260.82 175.75,252.27 176.00,258.56 176.25,252.02 176.50,258.77 176.75,252.17 177.00,258.27 177.25,257.94 177.50,253.34 177.75,259.63 178.00,253.31 178.25,259.78 178.50,254.57 178.75,261.58 179.00,252.14 179.25,259.20 179.50,259.55 179.75,256.77 180.00,247.12 180.25,254.87 180.50,245.56 180.75,253.77 181.00,251.99 181.25,243.11 181.50,252.90 181.75,245.13 182.00,250.12 182.25,244.13 182.50,249.40 182.75,244.94 183.00,248.57 183.25,243.97 183.50,248.70 183.75,242.19 184.00,247.25 184.25,240.90 184.50,247.37 184.75,239.56 185.00,246.25 185.25,237.93 185.50,246.23 185.75,240.26 186.00,247.18 186.25,241.20 186.50,250.37 186.75,250.98 187.00,242.43 187.25,253.70 187.50,243.65 187.75,254.81 188.00,247.02 188.25,256.11 188.50,245.19 188.75,253.96 189.00,244.31 189.25,255.09 189.50,245.02 189.75,253.52 190.00,242.97 190.25,253.19 190.50,242.59 190.75,253.28 191.00,254.11 191.25,244.04 191.50,258.14 191.75,258.13 192.00,259.31 192.25,250.87 192.50,263.23 192.75,253.29 193.00,268.38 193.25,256.79 193.50,271.72 193.75,261.21 194.00,272.06 194.25,261.37 194.50,271.73 194.75,258.86 195.00,270.17 195.25,259.80 195.50,269.98 195.75,268.07 196.00,260.70 196.25,267.56 196.50,261.03 196.75,268.49 197.00,262.83 197.25,270.49 197.50,263.52 197.75,271.08 198.00,261.89 198.25,271.51 198.50,262.96 198.75,271.87 199.00,260.53 199.25,258.85 199.50,268.31 199.75,257.20 200.00,266.98 200.25,258.07 200.50,265.05 200.75,265.50 201.00,258.18 201.25,266.19 201.50,259.16 201.75,267.44 202.00,259.34 202.25,267.81 202.50,261.02 202.75,261.99 203.00,269.36 203.25,262.41 203.50,268.89 203.75,261.42 204.00,269.76 204.25,267.36 204.50,260.70 204.75,267.34 205.00,260.23 205.25,266.84 205.50,257.69 205.75,266.52 206.00,257.38 206.25,265.56 206.50,258.90 206.75,265.92 207.00,258.13 207.25,265.47 207.50,256.73 207.75,265.39 208.00,256.02 208.25,264.02 208.50,252.76 208.75,255.62 209.00,263.35 209.25,255.38 209.50,261.68 209.75,263.18 210.00,261.50 210.25,254.21 210.50,260.45 210.75,251.56 211.00,260.36 211.25,251.02 211.50,260.91 211.75,249.98 212.00,258.94 212.25,248.79 212.50,256.54 212.75,248.38 213.00,256.37 213.25,247.31 213.50,254.41 213.75,245.21 214.00,245.87 214.25,244.25 214.50,254.37 214.75,247.53 215.00,255.73 215.25,249.93 215.50,249.33 215.75,255.53 216.00,249.61 216.25,257.04 216.50,256.39 216.75,249.91 217.00,258.40 217.25,251.52 217.50,259.19 217.75,258.55 218.00,252.35 218.25,261.35 218.50,253.79 218.75,259.96 219.00,251.40 219.25,250.75 219.50,257.06 219.75,248.74 220.00,254.75 220.25,243.54 220.50,253.82 220.75,252.87 221.00,249.46 221.25,238.81 221.50,248.32 221.75,233.85 222.00,246.93 222.25,236.97 222.50,244.12 222.75,238.88 223.00,246.22 223.25,242.02 223.50,249.20 223.75,245.01 224.00,254.23 224.25,245.25 224.50,258.69 224.75,252.53 225.00,261.79 225.25,254.34 225.50,266.72 225.75,255.92 226.00,265.53 226.25,256.59 226.50,264.06 226.75,255.31 227.00,263.36 227.25,255.60 227.50,261.84 227.75,251.32 228.00,258.76 228.25,248.11 228.50,254.27 228.75,243.79 229.00,250.29 229.25,243.89 229.50,245.64 229.75,253.92 230.00,246.96 230.25,248.58 230.50,260.13 230.75,262.47 231.00,252.08 231.25,265.17 231.50,267.48 231.75,258.89 232.00,271.32 232.25,259.83 232.50,273.95 232.75,263.63 233.00,265.27 233.25,277.25 233.50,275.92 233.75,268.60 234.00,274.94 234.25,265.27 234.50,273.91 234.75,259.34 235.00,269.60 235.25,260.37 235.50,268.06 235.75,257.10 236.00,268.48 236.25,258.30 236.50,265.28 236.75,256.70 237.00,264.79 237.25,263.81 237.50,254.09 237.75,262.43 238.00,253.58 238.25,263.96 238.50,252.84 238.75,261.68 239.00,253.02 239.25,261.74 239.50,261.99 239.75,260.18 240.00,253.16 240.25,261.30 240.50,253.46 240.75,261.02 241.00,259.04 241.25,249.30 241.50,258.16 241.75,258.36 242.00,257.28 242.25,247.84 242.50,248.59 242.75,253.86 243.00,244.87 243.25,252.26 243.50,243.34 243.75,252.78 244.00,242.61 244.25,251.28 244.50,237.32 244.75,246.54 245.00,245.07 245.25,243.42 245.50,236.16 245.75,241.66 246.00,238.16 246.25,243.67 246.50,235.28 246.75,244.49 247.00,233.89 247.25,242.54 247.50,228.03 247.75,236.99 248.00,225.32 248.25,235.91 248.50,225.25 248.75,225.95 249.00,238.24 249.25,226.42 249.50,227.58 249.75,240.23 250.00,229.07 250.25,245.41 250.50,228.16 250.75,245.61 251.00,237.05 251.25,235.61 251.50,244.89 251.75,232.64 252.00,229.29 252.25,242.28 252.50,230.14 252.75,239.20 253.00,229.21 253.25,239.33 253.50,228.39 253.75,227.91 254.00,239.96 254.25,231.18 254.50,233.91 254.75,243.44 255.00,236.27 255.25,245.98 255.50,240.19 255.75,242.17 256.00,248.11 256.25,242.16 256.50,248.29 256.75,243.71 257.00,248.81 257.25,243.21 257.50,250.86 257.75,244.96 258.00,244.01 258.25,251.31 258.50,245.25 258.75,252.04 259.00,245.27 259.25,252.44 259.50,246.58 259.75,252.45 260.00,245.92 260.25,252.44 260.50,246.61 260.75,247.16 261.00,245.85 261.25,252.65 261.50,244.16 261.75,251.91 262.00,242.75 262.25,249.02 262.50,241.52 262.75,247.79 263.00,240.96 263.25,248.24 263.50,246.95 263.75,235.69 264.00,243.81 264.25,232.06 264.50,241.78 264.75,229.21 265.00,238.14 265.25,231.03 265.50,241.38 265.75,231.95 266.00,243.61 266.25,233.88 266.50,245.04 266.75,238.77 267.00,248.90 267.25,241.96 267.50,249.11 267.75,244.34 268.00,251.22 268.25,244.77 268.50,251.13 268.75,246.21 269.00,251.96 269.25,247.68 269.50,253.27 269.75,247.86 270.00,253.60 270.25,246.62 270.50,254.18 270.75,241.38 271.00,250.03 271.25,235.72 271.50,247.16 271.75,232.39 272.00,228.50 272.25,241.10 272.50,224.62 272.75,236.78 273.00,232.56 273.25,239.90 273.50,230.46 273.75,236.97 274.00,229.79 274.25,228.50 274.50,233.49 274.75,225.89 275.00,229.75 275.25,224.34 275.50,229.62 275.75,228.20 276.00,227.75 276.25,224.26 276.50,223.87 276.75,223.49 277.00,225.39 277.25,223.37 277.50,226.03 277.75,223.48 278.00,226.87 278.25,223.49 278.50,227.02 278.75,222.23 279.00,228.17 279.25,222.55 279.50,227.93 279.75,222.09 280.00,228.77 280.25,221.66 280.50,230.14 280.75,222.02 281.00,231.40 281.25,224.45 281.50,232.97 281.75,226.35 282.00,232.18 282.25,226.82 282.50,231.93 282.75,225.19 283.00,226.98 283.25,231.18 283.50,227.29 283.75,232.30 284.00,227.63 284.25,232.01 284.50,228.77 284.75,232.28 285.00,232.97 285.25,230.01 285.50,234.56 285.75,231.15 286.00,235.52 286.25,235.88 286.50,232.30 286.75,236.33 287.00,231.18 287.25,238.20 287.50,233.96 287.75,241.87 288.00,233.91 288.25,243.76 288.50,234.01 288.75,246.15 289.00,247.09 289.25,235.85 289.50,247.24 289.75,232.50 290.00,247.20 290.25,234.31 290.50,247.47 290.75,233.82 291.00,245.73 291.25,231.59 291.50,251.10 291.75,229.03 292.00,234.78 292.25,255.62 292.50,235.21 292.75,252.37 293.00,233.97 293.25,252.69 293.50,235.59 293.75,254.09 294.00,233.72 294.25,250.18 294.50,229.45 294.75,251.25 295.00,249.05 295.25,222.93 295.50,244.80 295.75,224.78 296.00,237.68 296.25,223.47 296.50,236.00 296.75,223.19 297.00,222.22 297.25,237.51 297.50,223.58 297.75,222.81 298.00,230.72 298.25,223.40 298.50,229.41 298.75,223.62 299.00,229.21 299.25,224.09 299.50,230.87 299.75,224.20 300.00,232.00 300.25,223.39 300.50,224.11 300.75,233.01 301.00,224.86 301.25,234.04 301.50,225.43 301.75,226.23 302.00,223.99 302.25,232.73 302.50,223.96 302.75,232.24 303.00,224.26 303.25,229.36 303.50,223.70 303.75,228.58 304.00,223.42 304.25,229.35 304.50,223.95 304.75,232.08 305.00,224.06 305.25,232.84 305.50,222.52 305.75,237.83 306.00,220.55 306.25,235.58 306.50,224.98 306.75,236.66 307.00,226.61 307.25,241.21 307.50,228.48 307.75,238.63 308.00,228.82 308.25,241.47 308.50,227.05 308.75,242.37 309.00,227.10 309.25,238.63 309.50,226.86 309.75,235.13 310.00,227.81 310.25,233.30 310.50,226.57 310.75,230.74 311.00,226.08 311.25,230.29 311.50,226.80 311.75,229.17 312.00,227.13 312.25,228.65 312.50,227.36 312.75,228.20 313.00,226.68 313.25,227.66 313.50,225.85 313.75,227.06 314.00,225.19 314.25,226.44 314.50,224.67 314.75,227.07 315.00,223.62 315.25,227.25 315.50,223.40 315.75,226.89 316.00,223.85 316.25,223.71 316.50,223.92 316.75,229.05 317.00,223.40 317.25,229.75 317.50,223.16 317.75,232.20 318.00,224.73 318.25,232.94 318.50,222.84 318.75,233.24 319.00,235.57 319.25,240.00 319.50,223.02 319.75,235.83 320.00,225.48 320.25,240.79 320.50,225.70 320.75,243.33 321.00,228.74 321.25,245.48 321.50,227.74 321.75,244.49 322.00,227.20 322.25,243.59 322.50,228.70 322.75,241.35 323.00,223.64 323.25,226.48 323.50,239.16 323.75,226.35 324.00,234.70 324.25,235.53 324.50,223.89 324.75,224.73 325.00,222.83 325.25,231.65 325.50,222.96 325.75,230.38 326.00,223.22 326.25,230.89 326.50,222.72 326.75,228.79 327.00,223.03 327.25,222.99 327.50,229.04 327.75,228.16 328.00,222.37 328.25,227.07 328.50,222.73 328.75,226.83 329.00,222.59 329.25,221.31 329.50,226.08 329.75,222.04 330.00,225.44 330.25,221.55 330.50,226.20 330.75,221.80 331.00,226.01 331.25,222.21 331.50,222.26 331.75,226.52 332.00,221.95 332.25,224.68 332.50,221.80 332.75,224.67 333.00,221.42 333.25,224.62 333.50,221.90 333.75,224.56 334.00,221.80 334.25,225.80 334.50,224.31 334.75,215.18 335.00,222.39 335.25,207.44 335.50,207.41 335.75,224.88 336.00,208.35 336.25,226.29 336.50,208.80 336.75,222.72 337.00,207.04 337.25,232.76 337.50,211.43 337.75,233.89 338.00,211.38 338.25,229.85 338.50,229.09" fill="none" stroke="#0000ff" stroke-width="0.7" stroke-linejoin="round"/><polyline points="61.00,202.35 61.25,242.32 61.50,210.99 61.75,211.96 62.00,246.02 62.25,246.42 62.50,211.51 62.75,246.45 63.00,213.08 63.25,242.52 63.50,216.88 63.75,248.95 64.00,223.45 64.25,251.26 64.50,225.65 64.75,253.87 65.00,229.16 65.25,251.77 65.50,231.68 65.75,259.46 66.00,227.62 66.25,258.10 66.50,228.57 66.75,260.33 67.00,232.24 67.25,257.55 67.50,230.87 67.75,255.15 68.00,234.41 68.25,230.12 68.50,248.88 68.75,227.48 69.00,247.32 69.25,223.91 69.50,221.41 69.75,245.01 70.00,222.16 70.25,243.04 70.50,214.89 70.75,243.62 71.00,215.62 71.25,236.69 71.50,211.49 71.75,212.70 72.00,242.31 72.25,239.18 72.50,218.20 72.75,240.36 73.00,221.60 73.25,242.22 73.50,222.31 73.75,246.34 74.00,225.22 74.25,220.45 74.50,248.14 74.75,227.82 75.00,227.93 75.25,227.38 75.50,253.49 75.75,233.86 76.00,251.83 76.25,237.23 76.50,256.21 76.75,239.57 77.00,261.54 77.25,236.49 77.50,262.14 77.75,237.26 78.00,239.34 78.25,255.49 78.50,239.42 78.75,255.83 79.00,237.15 79.25,236.23 79.50,236.50 79.75,256.11 80.00,256.71 80.25,230.81 80.50,250.46 80.75,224.40 81.00,249.89 81.25,229.49 81.50,245.63 81.75,225.24 82.00,251.72 82.25,247.42 82.50,244.81 82.75,220.67 83.00,225.70 83.25,251.68 83.50,229.40 83.75,250.56 84.00,224.58 84.25,249.29 84.50,228.91 84.75,248.43 85.00,231.72 85.25,250.53 85.50,235.02 85.75,251.82 86.00,237.49 86.25,252.26 86.50,238.18 86.75,252.61 87.00,235.04 87.25,252.56 87.50,252.74 87.75,238.19 88.00,253.57 88.25,253.15 88.50,249.24 88.75,236.38 89.00,251.86 89.25,233.52 89.50,254.15 89.75,236.16 90.00,250.26 90.25,233.80 90.50,252.58 90.75,234.79 91.00,251.22 91.25,236.80 91.50,254.18 91.75,236.26 92.00,249.59 92.25,250.62 92.50,231.40 92.75,235.23 93.00,247.53 93.25,233.75 93.50,249.28 93.75,236.26 94.00,256.95 94.25,236.23 94.50,253.67 94.75,234.30 95.00,248.90 95.25,234.58 95.50,232.94 95.75,251.08 96.00,229.54 96.25,252.76 96.50,224.05 96.75,246.47 97.00,227.83 97.25,244.15 97.50,227.55 97.75,247.03 98.00,232.36 98.25,251.43 98.50,231.86 98.75,251.26 99.00,254.88 99.25,253.36 99.50,240.04 99.75,257.10 100.00,235.68 100.25,257.10 100.50,241.60 100.75,258.04 101.00,243.04 101.25,259.79 101.50,242.38 101.75,258.49 102.00,260.94 102.25,245.85 102.50,260.01 102.75,246.09 103.00,258.49 103.25,247.64 103.50,261.26 103.75,248.14 104.00,264.61 104.25,251.02 104.50,263.72 104.75,253.14 105.00,265.05 105.25,253.75 105.50,265.72 105.75,251.04 106.00,266.94 106.25,254.01 106.50,265.97 106.75,252.75 107.00,266.03 107.25,249.72 107.50,262.03 107.75,246.12 108.00,259.76 108.25,242.53 108.50,254.21 108.75,241.46 109.00,240.43 109.25,253.38 109.50,241.78 109.75,252.92 110.00,244.46 110.25,256.60 110.50,246.58 110.75,259.60 111.00,249.07 111.25,260.63 111.50,251.85 111.75,264.32 112.00,254.37 112.25,266.53 112.50,255.17 112.75,254.86 113.00,253.03 113.25,264.13 113.50,247.32 113.75,260.99 114.00,250.43 114.25,261.80 114.50,249.63 114.75,258.63 115.00,248.42 115.25,259.09 115.50,246.72 115.75,257.81 116.00,243.35 116.25,256.63 116.50,243.91 116.75,256.34 117.00,243.07 117.25,254.60 117.50,260.55 117.75,244.46 118.00,263.59 118.25,248.31 118.50,265.11 118.75,263.76 119.00,251.94 119.25,267.18 119.50,256.11 119.75,258.65 120.00,271.18 120.25,257.16 120.50,268.27 120.75,252.10 121.00,265.58 121.25,250.05 121.50,251.35 121.75,261.17 122.00,259.58 122.25,247.16 122.50,261.70 122.75,245.77 123.00,263.54 123.25,248.94 123.50,261.06 123.75,250.79 124.00,262.60 124.25,254.11 124.50,266.25 124.75,255.32 125.00,268.89 125.25,250.83 125.50,271.31 125.75,256.92 126.00,269.50 126.25,253.81 126.50,265.01 126.75,246.36 127.00,263.81 127.25,242.03 127.50,259.25 127.75,240.91 128.00,253.85 128.25,238.17 128.50,253.58 128.75,239.95 129.00,260.23 129.25,239.27 129.50,257.58 129.75,247.51 130.00,259.99 130.25,249.73 130.50,261.49 130.75,248.95 131.00,249.19 131.25,265.51 131.50,253.60 131.75,265.26 132.00,250.33 132.25,263.82 132.50,250.22 132.75,261.26 133.00,246.96 133.25,259.09 133.50,240.69 133.75,254.72 134.00,239.09 134.25,255.46 134.50,233.78 134.75,253.31 135.00,251.21 135.25,232.82 135.50,252.73 135.75,237.51 136.00,259.01 136.25,240.32 136.50,261.02 136.75,246.33 137.00,268.38 137.25,252.00 137.50,265.55 137.75,255.14 138.00,269.14 138.25,272.00 138.50,259.01 138.75,271.29 139.00,256.51 139.25,271.32 139.50,253.81 139.75,270.16 140.00,256.13 140.25,253.20 140.50,249.14 140.75,266.84 141.00,260.12 141.25,248.84 141.50,259.74 141.75,256.62 142.00,244.44 142.25,256.14 142.50,245.63 142.75,254.18 143.00,254.58 143.25,246.24 143.50,257.51 143.75,249.12 144.00,250.95 144.25,259.99 144.50,253.12 144.75,263.66 145.00,251.05 145.25,264.96 145.50,252.88 145.75,265.18 146.00,255.73 146.25,267.91 146.50,256.88 146.75,267.90 147.00,258.94 147.25,267.63 147.50,259.24 147.75,267.63 148.00,256.75 148.25,268.85 148.50,253.68 148.75,266.68 149.00,249.71 149.25,263.23 149.50,260.40 149.75,260.71 150.00,244.69 150.25,260.73 150.50,238.96 150.75,256.36 151.00,239.80 151.25,239.29 151.50,255.37 151.75,239.38 152.00,255.69 152.25,258.27 152.50,245.08 152.75,244.19 153.00,257.98 153.25,249.05 153.50,260.42 153.75,251.79 154.00,261.14 154.25,261.17 154.50,255.14 154.75,262.02 155.00,254.22 155.25,264.89 155.50,255.09 155.75,264.12 156.00,253.01 156.25,264.79 156.50,256.42 156.75,255.95 157.00,262.84 157.25,254.04 157.50,261.70 157.75,251.68 158.00,260.16 158.25,251.09 158.50,258.06 158.75,249.60 159.00,246.87 159.25,250.18 159.50,257.86 159.75,251.20 160.00,258.23 160.25,259.96 160.50,252.67 160.75,259.76 161.00,254.65 161.25,262.23 161.50,256.29 161.75,263.58 162.00,265.83 162.25,258.05 162.50,267.35 162.75,261.73 163.00,262.76 163.25,271.08 163.50,264.99 163.75,274.01 164.00,267.70 164.25,275.37 164.50,269.00 164.75,276.68 165.00,269.54 165.25,276.74 165.50,269.56 165.75,280.94 166.00,269.18 166.25,277.86 166.50,277.35 166.75,268.66 167.00,275.21 167.25,267.77 167.50,276.79 167.75,266.20 168.00,272.94 168.25,264.47 168.50,270.71 168.75,261.17 169.00,270.45 169.25,261.82 169.50,261.02 169.75,267.66 170.00,258.32 170.25,267.08 170.50,258.09 170.75,255.98 171.00,267.41 171.25,257.88 171.50,268.32 171.75,259.05 172.00,261.25 172.25,268.87 172.50,261.10 172.75,260.98 173.00,265.51 173.25,259.92 173.50,264.44 173.75,258.64 174.00,263.21 174.25,255.89 174.50,261.26 174.75,253.07 175.00,258.68 175.25,257.82 175.50,252.44 175.75,257.36 176.00,253.12 176.25,258.73 176.50,252.51 176.75,259.25 177.00,254.39 177.25,259.55 177.50,259.98 177.75,253.99 178.00,259.80 178.25,251.26 178.50,257.16 178.75,247.11 179.00,254.71 179.25,245.23 179.50,254.73 179.75,252.76 180.00,243.65 180.25,251.63 180.50,245.20 180.75,251.59 181.00,251.38 181.25,245.16 181.50,251.61 181.75,249.44 182.00,243.56 182.25,247.91 182.50,242.75 182.75,248.18 183.00,242.63 183.25,241.13 183.50,241.47 183.75,247.46 184.00,237.24 184.25,248.23 184.50,239.30 184.75,238.48 185.00,247.19 185.25,241.50 185.50,249.81 185.75,241.61 186.00,252.38 186.25,244.22 186.50,254.67 186.75,256.39 187.00,246.95 187.25,258.08 187.50,246.46 187.75,244.66 188.00,253.64 188.25,245.35 188.50,253.63 188.75,244.74 189.00,251.86 189.25,243.19 189.50,244.65 189.75,251.93 190.00,242.84 190.25,256.81 190.50,248.28 190.75,259.32 191.00,261.77 191.25,251.13 191.50,263.86 191.75,253.89 192.00,265.59 192.25,255.79 192.50,270.16 192.75,260.98 193.00,273.58 193.25,259.26 193.50,271.00 193.75,260.76 194.00,270.07 194.25,259.15 194.50,267.75 194.75,259.92 195.00,266.22 195.25,260.96 195.50,268.06 195.75,261.10 196.00,269.01 196.25,269.95 196.50,263.10 196.75,271.46 197.00,263.99 197.25,270.80 197.50,262.18 197.75,272.16 198.00,271.25 198.25,258.68 198.50,267.05 198.75,257.48 199.00,266.75 199.25,257.79 199.50,264.99 199.75,259.04 200.00,265.74 200.25,257.37 200.50,267.32 200.75,259.04 201.00,266.66 201.25,258.80 201.50,267.29 201.75,261.18 202.00,261.48 202.25,269.32 202.50,261.74 202.75,268.87 203.00,268.26 203.25,261.22 203.50,260.02 203.75,268.27 204.00,267.90 204.25,259.68 204.50,267.93 204.75,259.09 205.00,267.30 205.25,258.06 205.50,265.50 205.75,257.66 206.00,265.86 206.25,264.10 206.50,256.03 206.75,264.59 207.00,256.51 207.25,264.97 207.50,255.36 207.75,262.40 208.00,254.71 208.25,263.52 208.50,255.74 208.75,263.40 209.00,255.11 209.25,261.55 209.50,252.78 209.75,260.66 210.00,253.27 210.25,261.33 210.50,258.94 210.75,251.48 211.00,258.41 211.25,248.93 211.50,257.34 211.75,256.95 212.00,247.02 212.25,255.93 212.50,247.34 212.75,254.65 213.00,247.00 213.25,255.23 213.50,248.09 213.75,256.52 214.00,246.60 214.25,256.55 214.50,248.99 214.75,256.47 215.00,249.56 215.25,256.80 215.50,250.78 215.75,258.18 216.00,252.08 216.25,252.67 216.50,258.80 216.75,253.46 217.00,260.44 217.25,252.90 217.50,253.94 217.75,260.05 218.00,250.68 218.25,260.50 218.50,248.18 218.75,256.88 219.00,255.72 219.25,242.30 219.50,252.97 219.75,240.50 220.00,249.68 220.25,238.86 220.50,246.51 220.75,237.40 221.00,245.89 221.25,235.84 221.50,244.62 221.75,238.07 222.00,245.24 222.25,241.74 222.50,249.61 222.75,245.32 223.00,254.20 223.25,248.02 223.50,256.99 223.75,252.53 224.00,251.76 224.25,250.48 224.50,267.22 224.75,269.19 225.00,256.84 225.25,265.21 225.50,254.92 225.75,265.15 226.00,256.60 226.25,262.30 226.50,252.86 226.75,258.99 227.00,249.80 227.25,257.20 227.50,246.15 227.75,244.19 228.00,249.58 228.25,245.11 228.50,251.74 228.75,247.12 229.00,256.58 229.25,249.89 229.50,260.76 229.75,252.68 230.00,262.42 230.25,253.27 230.50,267.66 230.75,257.82 231.00,258.08 231.25,270.33 231.50,262.48 231.75,263.58 232.00,275.52 232.25,276.73 232.50,269.31 232.75,276.76 233.00,265.50 233.25,274.55 233.50,264.00 233.75,270.44 234.00,261.58 234.25,268.82 234.50,258.19 234.75,266.55 235.00,258.16 235.25,255.74 235.50,266.20 235.75,266.46 236.00,263.77 236.25,255.35 236.50,264.53 236.75,252.44 237.00,262.07 237.25,252.61 237.50,262.14 237.75,251.84 238.00,260.21 238.25,250.50 238.50,253.36 238.75,259.95 239.00,253.35 239.25,259.71 239.50,261.30 239.75,253.18 240.00,258.60 240.25,251.77 240.50,258.67 240.75,250.69 241.00,259.17 241.25,248.99 241.50,255.19 241.75,246.38 242.00,254.39 242.25,243.66 242.50,251.57 242.75,240.13 243.00,251.23 243.25,239.87 243.50,249.54 243.75,248.46 244.00,235.68 244.25,244.71 244.50,235.57 244.75,241.55 245.00,235.63 245.25,237.12 245.50,242.29 245.75,234.72 246.00,244.11 246.25,230.97 246.50,238.93 246.75,235.50 247.00,223.52 247.25,223.63 247.50,234.46 247.75,224.36 248.00,235.80 248.25,238.13 248.50,229.36 248.75,243.28 249.00,229.82 249.25,241.21 249.50,230.33 249.75,245.58 250.00,236.82 250.25,246.06 250.50,234.23 250.75,244.29 251.00,233.64 251.25,241.49 251.50,230.91 251.75,237.46 252.00,227.00 252.25,236.80 252.50,227.79 252.75,240.13 253.00,229.92 253.25,241.21 253.50,233.79 253.75,243.51 254.00,236.45 254.25,246.60 254.50,245.87 254.75,240.99 255.00,249.04 255.25,243.47 255.50,249.35 255.75,243.91 256.00,250.06 256.25,244.36 256.50,249.89 256.75,244.62 257.00,244.48 257.25,250.61 257.50,245.30 257.75,251.46 258.00,251.96 258.25,245.88 258.50,252.14 258.75,245.90 259.00,252.86 259.25,246.74 259.50,254.31 259.75,246.70 260.00,253.15 260.25,252.91 260.50,245.97 260.75,250.83 261.00,243.67 261.25,252.64 261.50,242.42 261.75,240.52 262.00,249.04 262.25,240.48 262.50,246.26 262.75,237.47 263.00,245.25 263.25,234.41 263.50,230.11 263.75,238.68 264.00,230.89 264.25,239.18 264.50,230.58 264.75,241.99 265.00,241.77 265.25,234.06 265.50,246.31 265.75,238.58 266.00,248.82 266.25,241.66 266.50,249.85 266.75,243.48 267.00,250.83 267.25,251.79 267.50,245.22 267.75,245.54 268.00,252.54 268.25,252.13 268.50,246.44 268.75,253.33 269.00,247.74 269.25,253.21 269.50,244.33 269.75,240.66 270.00,247.98 270.25,235.79 270.50,245.49 270.75,232.33 271.00,244.08 271.25,226.18 271.50,239.44 271.75,225.19 272.00,240.15 272.25,232.80 272.50,230.87 272.75,236.99 273.00,228.52 273.25,233.29 273.50,227.82 273.75,231.55 274.00,229.31 274.25,223.41 274.50,228.04 274.75,224.87 275.00,227.68 275.25,224.43 275.50,226.79 275.75,223.16 276.00,225.08 276.25,223.05 276.50,226.18 276.75,223.32 277.00,227.25 277.25,222.47 277.50,227.46 277.75,222.66 278.00,228.76 278.25,223.22 278.50,228.63 278.75,222.95 279.00,228.19 279.25,221.45 279.50,229.63 279.75,223.77 280.00,231.02 280.25,224.87 280.50,231.48 280.75,226.23 281.00,232.34 281.25,225.99 281.50,231.14 281.75,226.38 282.00,231.93 282.25,227.52 282.50,230.53 282.75,227.02 283.00,230.84 283.25,231.83 283.50,231.70 283.75,228.18 284.00,233.22 284.25,229.50 284.50,234.00 284.75,230.29 285.00,235.10 285.25,230.99 285.50,230.87 285.75,236.92 286.00,232.44 286.25,238.36 286.50,233.83 286.75,242.00 287.00,235.10 287.25,244.43 287.50,235.65 287.75,246.94 288.00,247.40 288.25,236.92 288.50,250.68 288.75,250.37 289.00,233.01 289.25,233.01 289.50,233.33 289.75,246.97 290.00,234.43 290.25,232.04 290.50,245.13 290.75,231.46 291.00,231.32 291.25,251.70 291.50,231.07 291.75,254.15 292.00,253.74 292.25,234.81 292.50,253.08 292.75,234.26 293.00,255.25 293.25,230.91 293.50,229.29 293.75,227.35 294.00,244.33 294.25,228.33 294.50,244.33 294.75,227.07 295.00,240.35 295.25,224.74 295.50,237.40 295.75,223.70 296.00,234.01 296.25,222.35 296.50,233.94 296.75,222.13 297.00,223.49 297.25,222.45 297.50,228.76 297.75,223.02 298.00,229.54 298.25,224.20 298.50,230.21 298.75,224.37 299.00,232.67 299.25,224.56 299.50,233.48 299.75,224.93 300.00,232.58 300.25,235.02 300.50,224.09 300.75,233.63 301.00,225.39 301.25,234.08 301.50,223.95 301.75,232.33 302.00,223.96 302.25,223.41 302.50,229.29 302.75,222.34 303.00,229.08 303.25,230.57 303.50,222.21 303.75,232.08 304.00,234.03 304.25,224.09 304.50,223.96 304.75,235.70 305.00,222.58 305.25,238.15 305.50,225.37 305.75,238.61 306.00,226.30 306.25,240.72 306.50,238.61 306.75,226.82 307.00,239.94 307.25,241.62 307.50,228.69 307.75,228.08 308.00,238.55 308.25,227.38 308.50,237.41 308.75,228.29 309.00,234.55 309.25,227.34 309.50,232.41 309.75,227.37 310.00,231.60 310.25,226.14 310.50,229.32 310.75,226.61 311.00,229.29 311.25,227.04 311.50,228.72 311.75,226.94 312.00,227.94 312.25,225.89 312.50,227.46 312.75,227.03 313.00,225.05 313.25,226.53 313.50,226.59 313.75,224.19 314.00,226.46 314.25,223.76 314.50,227.33 314.75,223.67 315.00,227.38 315.25,223.59 315.50,228.06 315.75,222.54 316.00,230.00 316.25,223.69 316.50,229.73 316.75,230.84 317.00,224.44 317.25,231.76 317.50,233.04 317.75,236.29 318.00,223.18 318.25,236.52 318.50,222.87 318.75,222.87 319.00,239.27 319.25,225.83 319.50,221.16 319.75,245.88 320.00,228.89 320.25,241.27 320.50,230.03 320.75,243.49 321.00,226.71 321.25,240.31 321.50,225.68 321.75,241.18 322.00,226.76 322.25,239.42 322.50,227.19 322.75,237.90 323.00,224.16 323.25,235.77 323.50,223.54 323.75,224.39 324.00,222.95 324.25,231.98 324.50,223.21 324.75,231.17 325.00,224.16 325.25,229.28 325.50,223.96 325.75,229.28 326.00,220.48 326.25,229.34 326.50,221.92 326.75,228.07 327.00,221.76 327.25,226.76 327.50,222.39 327.75,227.56 328.00,222.01 328.25,226.09 328.50,221.94 328.75,225.96 329.00,221.62 329.25,225.81 329.50,222.12 329.75,226.13 330.00,222.03 330.25,225.35 330.50,222.38 330.75,225.43 331.00,221.65 331.25,221.83 331.50,224.93 331.75,221.97 332.00,224.27 332.25,221.74 332.50,224.63 332.75,222.26 333.00,225.55 333.25,222.05 333.50,223.27 333.75,212.39 334.00,223.17 334.25,209.17 334.50,221.24 334.75,209.03 335.00,223.94 335.25,222.48 335.50,207.22 335.75,223.45 336.00,223.86 336.25,211.52 336.50,214.89 336.75,232.41 337.00,211.21 337.25,232.11 337.50,210.87 337.75,227.10 338.00,214.87 338.25,229.74 338.50,213.55" fill="none" stroke="#ff0000" stroke-width="0.7" stroke-linejoin="round"/><polyline points="61.00,240.43 61.25,198.11 61.50,242.52 61.75,209.09 62.00,205.20 62.25,236.12 62.50,244.37 62.75,207.07 63.00,240.52 63.25,242.12 63.50,215.01 63.75,244.73 64.00,222.93 64.25,245.03 64.50,222.02 64.75,249.71 65.00,227.36 65.25,255.38 65.50,230.63 65.75,258.03 66.00,252.19 66.25,255.78 66.50,229.45 66.75,257.33 67.00,235.90 67.25,260.43 67.50,232.74 67.75,253.51 68.00,231.75 68.25,232.83 68.50,253.00 68.75,229.93 69.00,255.74 69.25,228.32 69.50,250.43 69.75,225.21 70.00,246.23 70.25,242.38 70.50,222.42 70.75,243.89 71.00,220.08 71.25,244.61 71.50,217.30 71.75,236.37 72.00,214.95 72.25,241.25 72.50,215.65 72.75,241.77 73.00,238.51 73.25,241.95 73.50,212.90 73.75,239.18 74.00,220.78 74.25,245.77 74.50,223.76 74.75,244.02 75.00,246.20 75.25,228.69 75.50,245.39 75.75,228.13 76.00,253.42 76.25,234.33 76.50,254.73 76.75,238.02 77.00,235.87 77.25,257.84 77.50,238.27 77.75,262.80 78.00,239.83 78.25,258.88 78.50,237.05 78.75,240.45 79.00,257.06 79.25,238.77 79.50,253.91 79.75,235.90 80.00,252.40 80.25,235.36 80.50,234.44 80.75,252.33 81.00,234.54 81.25,252.70 81.50,229.76 81.75,250.51 82.00,227.01 82.25,246.70 82.50,245.56 82.75,223.12 83.00,242.87 83.25,223.37 83.50,248.04 83.75,227.59 84.00,245.87 84.25,229.56 84.50,246.09 84.75,231.48 85.00,250.36 85.25,230.63 85.50,251.94 85.75,253.12 86.00,235.04 86.25,234.85 86.50,252.65 86.75,238.25 87.00,251.60 87.25,234.98 87.50,254.63 87.75,252.24 88.00,236.71 88.25,251.16 88.50,235.60 88.75,252.02 89.00,238.12 89.25,252.04 89.50,238.64 89.75,248.77 90.00,237.61 90.25,251.04 90.50,236.25 90.75,249.82 91.00,236.38 91.25,247.76 91.50,234.92 91.75,250.86 92.00,250.54 92.25,234.30 92.50,247.76 92.75,236.40 93.00,247.38 93.25,234.20 93.50,248.82 93.75,230.08 94.00,249.67 94.25,233.68 94.50,252.62 94.75,233.81 95.00,250.31 95.25,236.62 95.50,252.11 95.75,234.24 96.00,247.59 96.25,233.74 96.50,245.85 96.75,233.05 97.00,245.42 97.25,228.85 97.50,245.62 97.75,243.93 98.00,250.25 98.25,229.52 98.50,249.87 98.75,234.72 99.00,252.68 99.25,236.00 99.50,252.76 99.75,237.69 100.00,254.87 100.25,242.27 100.50,259.07 100.75,242.60 101.00,258.61 101.25,242.34 101.50,259.94 101.75,242.81 102.00,256.02 102.25,256.88 102.50,245.20 102.75,260.26 103.00,243.53 103.25,259.95 103.50,247.39 103.75,259.12 104.00,247.56 104.25,259.88 104.50,249.61 104.75,263.89 105.00,250.07 105.25,265.06 105.50,252.10 105.75,264.12 106.00,253.37 106.25,267.14 106.50,254.42 106.75,266.32 107.00,255.04 107.25,266.53 107.50,251.53 107.75,263.14 108.00,246.19 108.25,260.42 108.50,243.97 108.75,256.73 109.00,240.63 109.25,240.25 109.50,253.71 109.75,242.39 110.00,251.67 110.25,243.40 110.50,254.44 110.75,246.58 111.00,258.78 111.25,258.62 111.50,259.47 111.75,250.30 112.00,263.87 112.25,253.15 112.50,264.96 112.75,266.44 113.00,253.34 113.25,264.61 113.50,251.12 113.75,264.56 114.00,250.87 114.25,251.03 114.50,261.49 114.75,248.81 115.00,260.15 115.25,246.94 115.50,257.30 115.75,245.55 116.00,257.81 116.25,244.51 116.50,255.35 116.75,243.92 117.00,243.69 117.25,254.92 117.50,243.80 117.75,243.10 118.00,258.61 118.25,243.77 118.50,258.27 118.75,261.26 119.00,249.53 119.25,264.53 119.50,251.65 119.75,254.47 120.00,270.73 120.25,255.53 120.50,274.04 120.75,270.76 121.00,267.87 121.25,255.48 121.50,265.76 121.75,249.12 122.00,250.30 122.25,264.21 122.50,248.29 122.75,259.58 123.00,258.22 123.25,259.43 123.50,246.27 123.75,260.34 124.00,249.80 124.25,262.58 124.50,264.23 124.75,252.89 125.00,264.28 125.25,256.32 125.50,267.82 125.75,254.98 126.00,267.57 126.25,254.64 126.50,252.43 126.75,253.85 127.00,248.22 127.25,263.86 127.50,247.55 127.75,258.72 128.00,240.94 128.25,254.89 128.50,237.99 128.75,252.59 129.00,236.76 129.25,254.99 129.50,241.72 129.75,241.82 130.00,258.57 130.25,257.66 130.50,258.34 130.75,259.27 131.00,249.80 131.25,262.39 131.50,262.70 131.75,252.23 132.00,263.49 132.25,253.47 132.50,266.48 132.75,250.56 133.00,262.84 133.25,248.52 133.50,260.01 133.75,241.47 134.00,257.19 134.25,240.31 134.50,256.94 134.75,235.02 135.00,254.68 135.25,236.08 135.50,256.01 135.75,252.86 136.00,231.52 136.25,258.36 136.50,239.62 136.75,261.59 137.00,263.20 137.25,245.41 137.50,264.90 137.75,248.59 138.00,264.90 138.25,252.67 138.50,256.35 138.75,271.21 139.00,254.23 139.25,271.93 139.50,256.62 139.75,270.55 140.00,269.45 140.25,255.41 140.50,266.82 140.75,253.99 141.00,263.89 141.25,252.10 141.50,261.12 141.75,248.90 142.00,259.16 142.25,245.81 142.50,243.40 142.75,256.36 143.00,246.08 143.25,254.55 143.50,254.27 143.75,247.44 144.00,249.77 144.25,258.91 144.50,249.78 144.75,261.36 145.00,251.98 145.25,252.92 145.50,264.27 145.75,255.64 146.00,265.00 146.25,266.44 146.50,255.76 146.75,267.54 147.00,258.75 147.25,268.48 147.50,267.40 147.75,259.95 148.00,268.02 148.25,267.94 148.50,255.81 148.75,266.71 149.00,254.36 149.25,267.50 149.50,250.18 149.75,262.77 150.00,262.48 150.25,246.94 150.50,244.76 150.75,258.02 151.00,256.83 151.25,242.24 151.50,254.70 151.75,242.02 152.00,253.29 152.25,255.32 152.50,257.91 152.75,244.24 153.00,258.10 153.25,258.32 153.50,248.31 153.75,260.32 154.00,250.43 154.25,260.24 154.50,261.15 154.75,254.45 155.00,262.57 155.25,254.83 155.50,263.51 155.75,256.32 156.00,265.14 156.25,255.98 156.50,264.73 156.75,254.92 157.00,263.37 157.25,256.60 157.50,262.71 157.75,253.73 158.00,260.70 158.25,252.76 158.50,259.20 158.75,257.42 159.00,250.38 159.25,256.40 159.50,250.29 159.75,256.88 160.00,250.28 160.25,256.89 160.50,252.31 160.75,258.28 161.00,259.80 161.25,254.84 161.50,260.58 161.75,255.98 162.00,261.78 162.25,255.54 162.50,266.12 162.75,258.98 163.00,267.61 163.25,261.92 163.50,268.80 163.75,264.66 164.00,272.53 164.25,265.84 164.50,268.12 164.75,275.34 165.00,270.24 165.25,276.43 165.50,269.86 165.75,276.81 166.00,271.10 166.25,278.95 166.50,270.41 166.75,278.66 167.00,269.54 167.25,275.58 167.50,267.47 167.75,274.70 168.00,267.10 168.25,273.38 168.50,265.79 168.75,271.31 169.00,263.83 169.25,263.36 169.50,269.34 169.75,261.73 170.00,267.17 170.25,266.57 170.50,258.68 170.75,265.73 171.00,259.35 171.25,265.54 171.50,258.36 171.75,266.30 172.00,258.90 172.25,268.92 172.50,261.30 172.75,260.53 173.00,261.59 173.25,266.88 173.50,259.88 173.75,264.57 174.00,259.96 174.25,263.23 174.50,257.91 174.75,261.64 175.00,254.41 175.25,258.49 175.50,252.61 175.75,257.29 176.00,251.94 176.25,252.78 176.50,257.82 176.75,259.13 177.00,253.69 177.25,260.37 177.50,254.76 177.75,260.23 178.00,254.80 178.25,260.49 178.50,253.16 178.75,250.20 179.00,258.79 179.25,247.59 179.50,255.99 179.75,245.31 180.00,253.81 180.25,244.51 180.50,244.34 180.75,252.23 181.00,245.17 181.25,251.13 181.50,243.92 181.75,249.84 182.00,244.28 182.25,249.46 182.50,244.05 182.75,248.96 183.00,243.11 183.25,247.54 183.50,242.71 183.75,241.45 184.00,246.30 184.25,241.03 184.50,246.34 184.75,239.16 185.00,244.69 185.25,238.69 185.50,246.77 185.75,240.07 186.00,250.28 186.25,242.78 186.50,243.54 186.75,253.24 187.00,243.34 187.25,255.15 187.50,246.13 187.75,254.40 188.00,246.97 188.25,255.81 188.50,246.57 188.75,253.39 189.00,243.75 189.25,252.46 189.50,244.53 189.75,252.33 190.00,244.73 190.25,252.43 190.50,243.75 190.75,244.88 191.00,258.10 191.25,249.15 191.50,251.57 191.75,261.72 192.00,253.10 192.25,265.95 192.50,254.76 192.75,258.83 193.00,272.97 193.25,258.83 193.50,273.45 193.75,258.58 194.00,273.65 194.25,259.77 194.50,270.43 194.75,260.73 195.00,268.18 195.25,260.81 195.50,266.17 195.75,260.81 196.00,268.19 196.25,261.73 196.50,269.05 196.75,263.20 197.00,262.94 197.25,263.29 197.50,263.91 197.75,272.23 198.00,263.14 198.25,270.95 198.50,269.32 198.75,259.21 199.00,267.92 199.25,258.12 199.50,265.89 199.75,256.20 200.00,266.74 200.25,265.45 200.50,258.56 200.75,267.01 201.00,259.97 201.25,260.62 201.50,266.54 201.75,260.84 202.00,268.75 202.25,262.27 202.50,262.09 202.75,268.91 203.00,261.13 203.25,268.04 203.50,261.95 203.75,267.39 204.00,259.41 204.25,267.88 204.50,267.06 204.75,266.88 205.00,257.79 205.25,265.97 205.50,259.27 205.75,266.83 206.00,266.04 206.25,256.68 206.50,263.82 206.75,257.54 207.00,264.45 207.25,257.65 207.50,264.15 207.75,257.30 208.00,263.82 208.25,255.95 208.50,262.24 208.75,255.07 209.00,261.33 209.25,255.26 209.50,254.93 209.75,254.12 210.00,261.28 210.25,253.18 210.50,260.13 210.75,262.84 211.00,251.99 211.25,260.11 211.50,251.01 211.75,256.98 212.00,250.28 212.25,257.88 212.50,247.89 212.75,254.90 213.00,254.54 213.25,246.49 213.50,255.26 213.75,247.64 214.00,254.66 214.25,246.93 214.50,249.41 214.75,249.23 215.00,255.08 215.25,249.91 215.50,256.71 215.75,250.84 216.00,251.34 216.25,257.21 216.50,251.98 216.75,252.02 217.00,258.28 217.25,251.99 217.50,258.70 217.75,252.81 218.00,260.99 218.25,253.98 218.50,261.15 218.75,248.83 219.00,258.95 219.25,247.72 219.50,256.42 219.75,253.06 220.00,243.61 220.25,252.57 220.50,241.24 220.75,251.41 221.00,236.39 221.25,236.48 221.50,245.42 221.75,237.16 222.00,245.28 222.25,239.42 222.50,244.70 222.75,241.93 223.00,243.56 223.25,250.81 223.50,246.99 223.75,248.79 224.00,258.12 224.25,250.35 224.50,263.82 224.75,255.00 225.00,266.99 225.25,255.57 225.50,266.76 225.75,256.20 226.00,265.74 226.25,253.86 226.50,263.26 226.75,256.56 227.00,262.49 227.25,252.81 227.50,250.49 227.75,255.22 228.00,253.13 228.25,245.26 228.50,250.41 228.75,245.33 229.00,251.97 229.25,247.25 229.50,256.62 229.75,249.77 230.00,260.31 230.25,252.48 230.50,262.30 230.75,255.15 231.00,266.42 231.25,258.98 231.50,269.04 231.75,261.89 232.00,272.74 232.25,264.65 232.50,275.29 232.75,267.29 233.00,277.75 233.25,267.03 233.50,274.10 233.75,265.78 234.00,273.17 234.25,263.53 234.50,269.12 234.75,259.36 235.00,267.46 235.25,259.06 235.50,266.81 235.75,256.61 236.00,266.35 236.25,257.46 236.50,263.75 236.75,265.13 237.00,255.24 237.25,262.58 237.50,262.50 237.75,253.29 238.00,261.62 238.25,251.50 238.50,261.43 238.75,253.06 239.00,260.99 239.25,253.21 239.50,260.73 239.75,253.24 240.00,260.22 240.25,259.48 240.50,252.20 240.75,252.77 241.00,257.32 241.25,250.05 241.50,256.87 241.75,249.49 242.00,247.32 242.25,255.01 242.50,246.42 242.75,252.12 243.00,243.66 243.25,250.40 243.50,252.13 243.75,242.01 244.00,249.12 244.25,238.87 244.50,244.88 244.75,235.61 245.00,242.28 245.25,236.11 245.50,242.45 245.75,237.22 246.00,242.77 246.25,235.41 246.50,235.11 246.75,241.46 247.00,228.66 247.25,235.22 247.50,235.66 247.75,224.83 248.00,236.08 248.25,235.22 248.50,225.28 248.75,237.81 249.00,227.99 249.25,240.51 249.50,228.76 249.75,241.43 250.00,233.48 250.25,243.94 250.50,235.54 250.75,243.89 251.00,232.78 251.25,242.24 251.50,232.37 251.75,241.59 252.00,230.63 252.25,239.06 252.50,236.24 252.75,227.16 253.00,236.84 253.25,230.58 253.50,239.16 253.75,231.32 254.00,241.21 254.25,234.58 254.50,244.01 254.75,245.98 255.00,240.37 255.25,247.21 255.50,242.84 255.75,243.70 256.00,248.01 256.25,244.35 256.50,249.23 256.75,250.22 257.00,243.94 257.25,250.00 257.50,250.52 257.75,245.31 258.00,251.54 258.25,245.02 258.50,250.70 258.75,245.83 259.00,252.37 259.25,247.30 259.50,252.44 259.75,247.42 260.00,247.89 260.25,252.27 260.50,245.94 260.75,252.41 261.00,245.82 261.25,251.77 261.50,251.41 261.75,243.44 262.00,250.05 262.25,241.49 262.50,246.93 262.75,240.55 263.00,245.51 263.25,236.94 263.50,244.89 263.75,232.54 264.00,232.41 264.25,238.83 264.50,238.14 264.75,229.04 265.00,231.31 265.25,240.86 265.50,242.01 265.75,236.16 266.00,245.87 266.25,239.22 266.50,247.76 266.75,241.82 267.00,250.90 267.25,244.14 267.50,250.66 267.75,245.43 268.00,250.74 268.25,246.74 268.50,252.43 268.75,246.78 269.00,252.34 269.25,248.14 269.50,252.96 269.75,245.51 270.00,253.20 270.25,238.84 270.50,248.85 270.75,248.30 271.00,235.28 271.25,244.94 271.50,229.39 271.75,242.36 272.00,224.52 272.25,225.12 272.50,241.56 272.75,232.18 273.00,237.29 273.25,236.36 273.50,229.55 273.75,233.45 274.00,232.79 274.25,226.48 274.50,229.27 274.75,225.34 275.00,228.78 275.25,224.76 275.50,227.69 275.75,224.26 276.00,226.15 276.25,223.71 276.50,223.60 276.75,223.56 277.00,225.60 277.25,223.43 277.50,226.52 277.75,223.52 278.00,226.61 278.25,223.55 278.50,228.10 278.75,227.93 279.00,223.25 279.25,228.68 279.50,223.58 279.75,222.49 280.00,228.91 280.25,222.55 280.50,231.04 280.75,225.62 281.00,231.11 281.25,232.65 281.50,232.00 281.75,226.38 282.00,231.57 282.25,227.35 282.50,230.96 282.75,227.45 283.00,230.92 283.25,227.11 283.50,231.04 283.75,231.65 284.00,228.34 284.25,232.51 284.50,228.92 284.75,233.49 285.00,230.50 285.25,230.76 285.50,230.51 285.75,235.48 286.00,236.24 286.25,231.83 286.50,232.51 286.75,233.63 287.00,233.87 287.25,241.73 287.50,235.14 287.75,234.88 288.00,245.45 288.25,236.27 288.50,236.86 288.75,248.90 289.00,233.29 289.25,248.28 289.50,233.53 289.75,248.28 290.00,236.03 290.25,246.79 290.50,233.85 290.75,247.17 291.00,234.38 291.25,231.01 291.50,249.93 291.75,248.29 292.00,232.66 292.25,251.03 292.50,235.86 292.75,254.61 293.00,252.03 293.25,235.02 293.50,254.78 293.75,231.39 294.00,252.02 294.25,231.40 294.50,244.76 294.75,227.63 295.00,240.90 295.25,227.13 295.50,239.05 295.75,225.15 296.00,234.68 296.25,224.95 296.50,234.56 296.75,223.25 297.00,231.49 297.25,231.89 297.50,222.77 297.75,229.68 298.00,222.90 298.25,229.51 298.50,229.25 298.75,224.00 299.00,229.66 299.25,231.91 299.50,224.25 299.75,224.86 300.00,232.03 300.25,225.81 300.50,233.53 300.75,224.22 301.00,234.00 301.25,224.70 301.50,233.45 301.75,226.00 302.00,233.23 302.25,223.85 302.50,230.97 302.75,223.97 303.00,228.71 303.25,228.09 303.50,223.89 303.75,230.20 304.00,223.87 304.25,230.71 304.50,224.09 304.75,232.38 305.00,221.95 305.25,236.50 305.50,225.20 305.75,236.57 306.00,224.36 306.25,237.72 306.50,226.93 306.75,239.03 307.00,227.36 307.25,240.23 307.50,227.58 307.75,227.72 308.00,242.58 308.25,230.59 308.50,240.30 308.75,229.22 309.00,236.18 309.25,226.96 309.50,228.11 309.75,232.13 310.00,227.00 310.25,227.14 310.50,230.35 310.75,226.62 311.00,227.17 311.25,229.07 311.50,227.17 311.75,228.49 312.00,227.47 312.25,227.97 312.50,226.85 312.75,227.34 313.00,226.92 313.25,225.78 313.50,226.37 313.75,225.08 314.00,226.36 314.25,224.52 314.50,226.64 314.75,224.36 315.00,226.73 315.25,224.02 315.50,226.84 315.75,224.19 316.00,227.62 316.25,224.25 316.50,228.55 316.75,224.13 317.00,230.29 317.25,223.95 317.50,232.49 317.75,224.25 318.00,234.25 318.25,235.22 318.50,225.40 318.75,235.62 319.00,223.65 319.25,235.38 319.50,225.11 319.75,222.55 320.00,240.38 320.25,229.11 320.50,241.73 320.75,229.29 321.00,242.77 321.25,228.36 321.50,240.97 321.75,228.95 322.00,244.52 322.25,243.41 322.50,226.07 322.75,238.23 323.00,222.89 323.25,237.03 323.50,225.85 323.75,233.89 324.00,225.19 324.25,232.28 324.50,224.34 324.75,230.03 325.00,223.54 325.25,229.37 325.50,224.08 325.75,229.80 326.00,228.51 326.25,223.86 326.50,228.65 326.75,223.48 327.00,227.49 327.25,222.36 327.50,227.92 327.75,222.51 328.00,227.27 328.25,222.49 328.50,222.89 328.75,225.93 329.00,222.62 329.25,226.57 329.50,222.10 329.75,225.88 330.00,222.01 330.25,225.49 330.50,222.28 330.75,222.36 331.00,224.75 331.25,221.85 331.50,221.82 331.75,224.92 332.00,222.04 332.25,223.90 332.50,222.21 332.75,221.83 333.00,224.35 333.25,221.87 333.50,224.94 333.75,222.39 334.00,223.17 334.25,215.76 334.50,223.31 334.75,209.44 335.00,224.09 335.25,208.54 335.50,224.51 335.75,207.02 336.00,226.37 336.25,208.03 336.50,224.13 336.75,235.80 337.00,206.91 337.25,211.18 337.50,237.74 337.75,210.75 338.00,227.84 338.25,227.39 338.50,212.54" fill="none" stroke="#00ff00" stroke-width="0.7" stroke-linejoin="round"/></g>
<line x1="61.00" y1="188.10" x2="63.80" y2="188.10" stroke="#3a3a3a" stroke-width="1"/>
<line x1="335.80" y1="188.10" x2="338.60" y2="188.10" stroke="#3a3a3a" stroke-width="1"/>
<line x1="61.00" y1="228.95" x2="63.80" y2="228.95" stroke="#3a3a3a" stroke-width="1"/>
<line x1="335.80" y1="228.95" x2="338.60" y2="228.95" stroke="#3a3a3a" stroke-width="1"/>
<line x1="61.00" y1="269.80" x2="63.80" y2="269.80" stroke="#3a3a3a" stroke-width="1"/>
<line x1="335.80" y1="269.80" x2="338.60" y2="269.80" stroke="#3a3a3a" stroke-width="1"/>
<line x1="61.00" y1="290.30" x2="61.00" y2="287.50" stroke="#3a3a3a" stroke-width="1"/>
<line x1="61.00" y1="178.40" x2="61.00" y2="181.20" stroke="#3a3a3a" stroke-width="1"/>
<line x1="147.75" y1="290.30" x2="147.75" y2="287.50" stroke="#3a3a3a" stroke-width="1"/>
<line x1="147.75" y1="178.40" x2="147.75" y2="181.20" stroke="#3a3a3a" stroke-width="1"/>
<line x1="234.50" y1="290.30" x2="234.50" y2="287.50" stroke="#3a3a3a" stroke-width="1"/>
<line x1="234.50" y1="178.40" x2="234.50" y2="181.20" stroke="#3a3a3a" stroke-width="1"/>
<line x1="321.25" y1="290.30" x2="321.25" y2="287.50" stroke="#3a3a3a" stroke-width="1"/>
<line x1="321.25" y1="178.40" x2="321.25" y2="181.20" stroke="#3a3a3a" stroke-width="1"/>
<rect x="61.00" y="178.40" width="277.60" height="111.90" fill="none" stroke="#262626" stroke-width="1.1"/>
<text x="58.40" y="192.50" text-anchor="end" font-size="12.5">0.02</text>
<text x="58.40" y="233.35" text-anchor="end" font-size="12.5">0</text>
<text x="58.40" y="274.20" text-anchor="end" font-size="12.5">−0.02</text>
<text x="61.00" y="304.30" text-anchor="middle" font-size="12.5">0</text>
<text x="147.75" y="304.30" text-anchor="middle" font-size="12.5">5000</text>
<text x="234.50" y="304.30" text-anchor="middle" font-size="12.5">10000</text>
<text x="321.25" y="304.30" text-anchor="middle" font-size="12.5">15000</text>
<line x1="402.00" y1="189.11" x2="681.60" y2="189.11" stroke="#858585" stroke-width="1" stroke-dasharray="1 3.1"/>
<line x1="402.00" y1="214.13" x2="681.60" y2="214.13" stroke="#858585" stroke-width="1" stroke-dasharray="1 3.1"/>
<line x1="402.00" y1="239.16" x2="681.60" y2="239.16" stroke="#858585" stroke-width="1" stroke-dasharray="1 3.1"/>
<line x1="402.00" y1="264.18" x2="681.60" y2="264.18" stroke="#858585" stroke-width="1" stroke-dasharray="1 3.1"/>
<line x1="402.00" y1="289.20" x2="681.60" y2="289.20" stroke="#858585" stroke-width="1" stroke-dasharray="1 3.1"/>
<line x1="402.00" y1="176.60" x2="402.00" y2="289.20" stroke="#858585" stroke-width="1" stroke-dasharray="1 3.1"/>
<line x1="489.38" y1="176.60" x2="489.38" y2="289.20" stroke="#858585" stroke-width="1" stroke-dasharray="1 3.1"/>
<line x1="576.75" y1="176.60" x2="576.75" y2="289.20" stroke="#858585" stroke-width="1" stroke-dasharray="1 3.1"/>
<line x1="664.12" y1="176.60" x2="664.12" y2="289.20" stroke="#858585" stroke-width="1" stroke-dasharray="1 3.1"/>
<g clip-path="url(#clipBR)"><polyline points="402.00,226.65 402.25,228.13 402.50,245.02 402.75,225.80 403.00,225.66 403.25,246.27 403.50,228.75 403.75,221.51 404.00,242.68 404.25,231.86 404.50,244.36 404.75,234.30 405.00,249.10 405.25,232.18 405.50,250.91 405.75,254.09 406.00,236.20 406.25,254.31 406.50,253.91 406.75,241.45 407.00,242.04 407.25,255.24 407.50,239.09 407.75,257.44 408.00,239.44 408.25,254.71 408.50,240.49 408.75,254.41 409.00,242.02 409.25,257.37 409.50,241.18 409.75,251.63 410.00,243.52 410.25,254.28 410.50,239.96 410.75,253.79 411.00,238.18 411.25,251.48 411.50,240.28 411.75,247.88 412.00,240.48 412.25,248.91 412.50,235.35 412.75,249.92 413.00,238.34 413.25,250.45 413.50,237.02 413.75,246.17 414.00,233.79 414.25,234.29 414.50,230.14 414.75,243.32 415.00,232.45 415.25,244.69 415.50,231.24 415.75,243.20 416.00,234.99 416.25,245.52 416.50,233.23 416.75,232.39 417.00,244.00 417.25,235.24 417.50,236.07 417.75,242.63 418.00,233.41 418.25,234.51 418.50,243.57 418.75,234.06 419.00,242.76 419.25,241.06 419.50,239.17 419.75,230.29 420.00,242.47 420.25,241.08 420.50,232.03 420.75,239.51 421.00,242.03 421.25,231.80 421.50,242.37 421.75,232.30 422.00,243.72 422.25,234.36 422.50,243.82 422.75,234.31 423.00,233.73 423.25,240.50 423.50,231.62 423.75,241.50 424.00,241.39 424.25,240.00 424.50,244.49 424.75,231.64 425.00,240.04 425.25,231.48 425.50,231.43 425.75,242.85 426.00,231.28 426.25,240.10 426.50,242.67 426.75,231.15 427.00,227.34 427.25,244.80 427.50,241.89 427.75,231.36 428.00,243.16 428.25,230.71 428.50,242.10 428.75,229.78 429.00,245.10 429.25,227.51 429.50,240.48 429.75,228.51 430.00,238.88 430.25,225.49 430.50,246.29 430.75,226.84 431.00,249.73 431.25,226.47 431.50,247.07 431.75,231.25 432.00,252.67 432.25,235.19 432.50,247.78 432.75,233.28 433.00,250.16 433.25,237.90 433.50,249.37 433.75,231.89 434.00,249.45 434.25,224.66 434.50,244.19 434.75,232.52 435.00,247.05 435.25,229.17 435.50,248.10 435.75,226.85 436.00,253.16 436.25,242.83 436.50,245.64 436.75,242.73 437.00,232.03 437.25,228.76 437.50,242.07 437.75,231.35 438.00,245.37 438.25,235.73 438.50,244.31 438.75,235.62 439.00,245.10 439.25,236.32 439.50,244.92 439.75,239.35 440.00,245.92 440.25,239.06 440.50,247.49 440.75,246.12 441.00,246.10 441.25,237.61 441.50,244.06 441.75,237.67 442.00,245.47 442.25,234.20 442.50,246.37 442.75,234.57 443.00,233.75 443.25,230.78 443.50,229.83 443.75,229.31 444.00,241.55 444.25,230.92 444.50,244.40 444.75,242.78 445.00,233.31 445.25,234.92 445.50,232.66 445.75,244.83 446.00,230.14 446.25,244.83 446.50,235.90 446.75,246.71 447.00,235.65 447.25,246.19 447.50,235.72 447.75,244.63 448.00,236.65 448.25,247.21 448.50,248.27 448.75,233.59 449.00,248.52 449.25,248.67 449.50,237.25 449.75,235.54 450.00,235.10 450.25,247.25 450.50,236.91 450.75,250.48 451.00,234.77 451.25,252.26 451.50,235.64 451.75,249.45 452.00,237.90 452.25,232.05 452.50,234.11 452.75,233.82 453.00,247.81 453.25,236.45 453.50,233.48 453.75,243.90 454.00,232.25 454.25,236.57 454.50,246.94 454.75,235.70 455.00,234.93 455.25,236.80 455.50,248.10 455.75,237.51 456.00,249.96 456.25,238.14 456.50,247.61 456.75,247.59 457.00,246.49 457.25,247.03 457.50,237.80 457.75,248.06 458.00,238.57 458.25,238.89 458.50,247.70 458.75,237.59 459.00,246.86 459.25,237.90 459.50,247.22 459.75,247.65 460.00,238.03 460.25,234.00 460.50,235.14 460.75,244.03 461.00,236.93 461.25,247.44 461.50,235.42 461.75,234.14 462.00,246.62 462.25,232.92 462.50,244.08 462.75,230.17 463.00,227.68 463.25,248.46 463.50,232.70 463.75,231.80 464.00,245.91 464.25,234.40 464.50,234.76 464.75,248.09 465.00,236.89 465.25,248.43 465.50,233.98 465.75,249.09 466.00,248.49 466.25,234.59 466.50,249.67 466.75,233.71 467.00,249.93 467.25,234.79 467.50,246.14 467.75,235.51 468.00,245.66 468.25,248.69 468.50,237.16 468.75,243.88 469.00,235.73 469.25,243.87 469.50,234.42 469.75,243.01 470.00,233.39 470.25,245.30 470.50,234.65 470.75,235.90 471.00,242.17 471.25,232.39 471.50,240.96 471.75,234.75 472.00,241.84 472.25,233.13 472.50,242.61 472.75,242.92 473.00,232.82 473.25,240.53 473.50,242.36 473.75,233.48 474.00,241.77 474.25,233.62 474.50,241.51 474.75,234.38 475.00,241.92 475.25,232.51 475.50,239.61 475.75,239.74 476.00,240.34 476.25,239.75 476.50,239.57 476.75,230.05 477.00,239.50 477.25,231.94 477.50,239.44 477.75,237.80 478.00,231.88 478.25,237.87 478.50,228.89 478.75,240.08 479.00,239.24 479.25,227.49 479.50,229.93 479.75,239.27 480.00,241.34 480.25,229.32 480.50,238.39 480.75,231.89 481.00,239.94 481.25,229.97 481.50,241.05 481.75,231.68 482.00,239.04 482.25,238.88 482.50,240.15 482.75,232.03 483.00,241.73 483.25,229.71 483.50,227.60 483.75,238.89 484.00,228.97 484.25,240.42 484.50,231.24 484.75,229.97 485.00,237.68 485.25,232.06 485.50,240.71 485.75,229.57 486.00,239.90 486.25,233.33 486.50,239.35 486.75,230.05 487.00,239.51 487.25,241.14 487.50,232.13 487.75,242.43 488.00,233.46 488.25,243.77 488.50,244.94 488.75,241.05 489.00,232.76 489.25,243.64 489.50,235.51 489.75,243.70 490.00,242.00 490.25,236.07 490.50,241.88 490.75,245.04 491.00,235.59 491.25,244.94 491.50,233.01 491.75,241.87 492.00,232.66 492.25,243.49 492.50,231.49 492.75,243.12 493.00,245.48 493.25,228.98 493.50,248.22 493.75,229.68 494.00,232.19 494.25,240.92 494.50,242.97 494.75,229.25 495.00,242.44 495.25,229.92 495.50,244.72 495.75,231.27 496.00,230.97 496.25,229.90 496.50,240.70 496.75,234.39 497.00,239.78 497.25,241.58 497.50,233.27 497.75,240.87 498.00,241.31 498.25,233.84 498.50,241.33 498.75,243.91 499.00,242.70 499.25,238.16 499.50,242.12 499.75,237.03 500.00,243.18 500.25,235.94 500.50,245.03 500.75,235.92 501.00,242.97 501.25,235.74 501.50,244.49 501.75,244.27 502.00,242.66 502.25,236.45 502.50,241.48 502.75,235.61 503.00,241.69 503.25,234.09 503.50,241.39 503.75,233.07 504.00,241.37 504.25,234.08 504.50,240.62 504.75,240.88 505.00,233.74 505.25,239.86 505.50,241.95 505.75,231.84 506.00,240.33 506.25,242.16 506.50,233.64 506.75,242.33 507.00,234.82 507.25,242.06 507.50,234.17 507.75,243.08 508.00,234.58 508.25,242.97 508.50,237.16 508.75,243.19 509.00,237.65 509.25,242.77 509.50,237.55 509.75,243.34 510.00,244.62 510.25,238.00 510.50,244.84 510.75,238.94 511.00,245.83 511.25,236.87 511.50,236.79 511.75,244.21 512.00,235.77 512.25,243.16 512.50,233.92 512.75,243.02 513.00,235.74 513.25,243.26 513.50,234.93 513.75,242.87 514.00,236.35 514.25,243.06 514.50,235.38 514.75,243.99 515.00,235.30 515.25,242.77 515.50,234.12 515.75,244.76 516.00,236.23 516.25,237.00 516.50,242.83 516.75,235.31 517.00,235.91 517.25,242.39 517.50,235.46 517.75,242.77 518.00,243.79 518.25,235.44 518.50,234.59 518.75,235.37 519.00,240.49 519.25,235.16 519.50,235.49 519.75,242.69 520.00,236.32 520.25,241.06 520.50,236.28 520.75,234.61 521.00,243.37 521.25,237.49 521.50,244.15 521.75,236.63 522.00,243.75 522.25,237.07 522.50,237.56 522.75,245.55 523.00,244.51 523.25,238.44 523.50,245.94 523.75,240.23 524.00,244.99 524.25,238.75 524.50,246.10 524.75,237.19 525.00,248.05 525.25,237.76 525.50,237.47 525.75,237.69 526.00,247.07 526.25,238.05 526.50,247.42 526.75,237.52 527.00,243.38 527.25,237.92 527.50,244.85 527.75,236.10 528.00,246.49 528.25,238.31 528.50,244.36 528.75,236.30 529.00,245.11 529.25,235.40 529.50,247.65 529.75,236.98 530.00,248.08 530.25,240.07 530.50,247.55 530.75,238.18 531.00,246.12 531.25,238.85 531.50,244.32 531.75,237.65 532.00,244.72 532.25,239.13 532.50,243.93 532.75,242.27 533.00,236.65 533.25,241.98 533.50,243.64 533.75,236.46 534.00,244.00 534.25,234.12 534.50,242.24 534.75,235.25 535.00,240.98 535.25,233.90 535.50,240.31 535.75,233.73 536.00,241.15 536.25,233.75 536.50,240.31 536.75,232.77 537.00,240.61 537.25,241.46 537.50,242.63 537.75,241.11 538.00,243.25 538.25,243.03 538.50,242.83 538.75,235.76 539.00,233.44 539.25,244.43 539.50,234.77 539.75,245.23 540.00,231.97 540.25,245.51 540.50,246.10 540.75,230.25 541.00,244.13 541.25,231.81 541.50,240.42 541.75,233.16 542.00,232.25 542.25,243.76 542.50,232.29 542.75,241.65 543.00,231.55 543.25,228.05 543.50,243.29 543.75,238.66 544.00,231.79 544.25,239.93 544.50,227.68 544.75,236.99 545.00,227.89 545.25,228.94 545.50,235.16 545.75,236.04 546.00,228.68 546.25,235.42 546.50,236.58 546.75,226.65 547.00,234.17 547.25,229.11 547.50,235.20 547.75,225.87 548.00,236.59 548.25,228.42 548.50,234.85 548.75,228.12 549.00,228.60 549.25,240.09 549.50,229.41 549.75,236.30 550.00,227.99 550.25,236.95 550.50,231.44 550.75,229.15 551.00,237.02 551.25,229.70 551.50,236.28 551.75,229.57 552.00,238.59 552.25,228.94 552.50,238.06 552.75,228.47 553.00,237.15 553.25,227.61 553.50,237.72 553.75,228.51 554.00,226.75 554.25,240.22 554.50,227.28 554.75,235.47 555.00,228.65 555.25,235.92 555.50,230.52 555.75,239.50 556.00,237.22 556.25,238.82 556.50,231.13 556.75,239.24 557.00,230.35 557.25,238.21 557.50,239.14 557.75,241.14 558.00,234.05 558.25,240.59 558.50,233.27 558.75,243.43 559.00,242.47 559.25,233.93 559.50,242.97 559.75,233.45 560.00,243.11 560.25,247.37 560.50,234.65 560.75,244.89 561.00,236.29 561.25,245.14 561.50,237.82 561.75,235.64 562.00,245.46 562.25,245.31 562.50,236.30 562.75,243.88 563.00,245.56 563.25,234.56 563.50,243.85 563.75,233.39 564.00,234.63 564.25,243.53 564.50,236.27 564.75,244.76 565.00,232.96 565.25,233.39 565.50,246.32 565.75,232.68 566.00,243.52 566.25,234.81 566.50,245.10 566.75,235.49 567.00,233.25 567.25,242.30 567.50,234.29 567.75,243.00 568.00,230.86 568.25,243.02 568.50,232.37 568.75,243.22 569.00,233.53 569.25,244.67 569.50,233.43 569.75,244.45 570.00,236.44 570.25,244.96 570.50,232.80 570.75,241.59 571.00,235.44 571.25,241.67 571.50,232.23 571.75,245.60 572.00,232.83 572.25,235.73 572.50,246.62 572.75,232.42 573.00,246.93 573.25,233.81 573.50,244.97 573.75,232.87 574.00,246.67 574.25,244.02 574.50,231.69 574.75,245.14 575.00,230.75 575.25,241.98 575.50,231.51 575.75,243.71 576.00,232.64 576.25,241.57 576.50,241.97 576.75,230.65 577.00,239.10 577.25,231.19 577.50,238.31 577.75,232.56 578.00,238.22 578.25,230.45 578.50,238.24 578.75,228.90 579.00,238.60 579.25,237.75 579.50,230.78 579.75,240.50 580.00,229.44 580.25,236.66 580.50,230.62 580.75,238.78 581.00,238.83 581.25,230.65 581.50,237.79 581.75,231.26 582.00,238.80 582.25,229.89 582.50,238.75 582.75,227.62 583.00,238.77 583.25,229.93 583.50,238.09 583.75,230.07 584.00,241.33 584.25,230.59 584.50,238.81 584.75,240.28 585.00,241.47 585.25,232.47 585.50,240.41 585.75,240.62 586.00,232.19 586.25,235.12 586.50,242.94 586.75,241.53 587.00,232.36 587.25,240.92 587.50,244.51 587.75,235.90 588.00,243.65 588.25,235.12 588.50,247.06 588.75,235.09 589.00,249.08 589.25,246.54 589.50,234.74 589.75,248.69 590.00,237.19 590.25,253.21 590.50,240.16 590.75,236.29 591.00,240.46 591.25,251.16 591.50,239.01 591.75,250.39 592.00,236.07 592.25,248.53 592.50,239.85 592.75,246.59 593.00,236.04 593.25,246.16 593.50,237.29 593.75,249.56 594.00,245.14 594.25,237.43 594.50,245.78 594.75,245.81 595.00,246.03 595.25,235.61 595.50,244.44 595.75,243.85 596.00,243.78 596.25,235.28 596.50,244.28 596.75,234.51 597.00,243.59 597.25,237.09 597.50,245.06 597.75,237.18 598.00,242.79 598.25,234.61 598.50,235.20 598.75,235.30 599.00,235.28 599.25,243.62 599.50,235.05 599.75,243.34 600.00,234.42 600.25,242.20 600.50,234.92 600.75,242.07 601.00,244.13 601.25,241.49 601.50,240.68 601.75,240.02 602.00,233.41 602.25,239.56 602.50,233.38 602.75,240.80 603.00,234.17 603.25,239.18 603.50,234.09 603.75,240.38 604.00,233.97 604.25,239.65 604.50,231.98 604.75,237.33 605.00,232.14 605.25,238.51 605.50,231.07 605.75,240.58 606.00,238.67 606.25,241.41 606.50,233.01 606.75,239.27 607.00,234.70 607.25,239.91 607.50,242.25 607.75,234.22 608.00,233.67 608.25,237.02 608.50,241.94 608.75,242.18 609.00,245.47 609.25,243.27 609.50,235.84 609.75,244.52 610.00,237.82 610.25,246.61 610.50,247.14 610.75,237.79 611.00,245.13 611.25,246.26 611.50,239.72 611.75,245.24 612.00,245.26 612.25,240.15 612.50,245.93 612.75,237.81 613.00,238.38 613.25,247.15 613.50,238.92 613.75,248.35 614.00,236.96 614.25,248.25 614.50,238.48 614.75,247.66 615.00,236.26 615.25,246.38 615.50,234.31 615.75,252.10 616.00,236.45 616.25,253.34 616.50,235.72 616.75,232.50 617.00,249.99 617.25,254.61 617.50,251.07 617.75,246.22 618.00,250.97 618.25,227.77 618.50,245.02 618.75,232.95 619.00,250.74 619.25,228.10 619.50,249.44 619.75,230.48 620.00,248.92 620.25,244.35 620.50,246.44 620.75,234.42 621.00,232.01 621.25,245.80 621.50,233.95 621.75,249.13 622.00,233.42 622.25,250.20 622.50,238.22 622.75,248.41 623.00,237.39 623.25,251.80 623.50,235.04 623.75,251.50 624.00,247.80 624.25,235.47 624.50,248.44 624.75,247.20 625.00,250.96 625.25,236.46 625.50,249.66 625.75,231.80 626.00,236.40 626.25,252.35 626.50,233.46 626.75,253.24 627.00,232.92 627.25,247.95 627.50,233.72 627.75,245.97 628.00,226.86 628.25,253.85 628.50,229.58 628.75,225.56 629.00,246.21 629.25,230.31 629.50,248.26 629.75,224.83 630.00,254.47 630.25,246.71 630.50,230.07 630.75,246.12 631.00,252.44 631.25,249.87 631.50,233.23 631.75,244.89 632.00,232.25 632.25,248.05 632.50,250.91 632.75,235.22 633.00,248.44 633.25,236.49 633.50,247.70 633.75,235.28 634.00,248.80 634.25,251.95 634.50,236.06 634.75,253.04 635.00,252.86 635.25,238.86 635.50,251.68 635.75,236.25 636.00,251.70 636.25,235.79 636.50,240.30 636.75,256.49 637.00,251.23 637.25,240.92 637.50,249.53 637.75,234.49 638.00,250.37 638.25,252.43 638.50,234.79 638.75,249.69 639.00,235.47 639.25,245.41 639.50,235.14 639.75,242.97 640.00,247.26 640.25,231.22 640.50,243.32 640.75,232.49 641.00,246.12 641.25,234.34 641.50,241.79 641.75,232.36 642.00,242.69 642.25,230.87 642.50,244.62 642.75,245.00 643.00,232.48 643.25,227.87 643.50,243.33 643.75,232.91 644.00,232.11 644.25,242.59 644.50,228.71 644.75,245.46 645.00,231.15 645.25,233.48 645.50,246.59 645.75,245.52 646.00,228.49 646.25,246.82 646.50,228.64 646.75,231.23 647.00,247.30 647.25,231.31 647.50,229.52 647.75,243.12 648.00,232.95 648.25,229.76 648.50,247.67 648.75,222.38 649.00,247.86 649.25,231.13 649.50,246.84 649.75,233.39 650.00,246.89 650.25,226.92 650.50,244.47 650.75,229.10 651.00,232.88 651.25,229.32 651.50,245.11 651.75,229.58 652.00,248.78 652.25,245.74 652.50,232.09 652.75,247.16 653.00,247.86 653.25,231.09 653.50,248.50 653.75,230.51 654.00,244.74 654.25,244.89 654.50,231.15 654.75,232.89 655.00,227.13 655.25,229.85 655.50,225.63 655.75,242.54 656.00,223.04 656.25,240.84 656.50,223.62 656.75,244.70 657.00,243.63 657.25,228.01 657.50,241.54 657.75,229.60 658.00,243.40 658.25,225.10 658.50,246.29 658.75,229.81 659.00,244.68 659.25,230.09 659.50,245.22 659.75,226.00 660.00,247.04 660.25,231.62 660.50,246.61 660.75,243.65 661.00,233.69 661.25,247.85 661.50,232.11 661.75,247.57 662.00,235.57 662.25,245.45 662.50,249.38 662.75,233.71 663.00,251.25 663.25,236.08 663.50,248.23 663.75,235.16 664.00,251.18 664.25,231.91 664.50,253.01 664.75,232.90 665.00,232.67 665.25,254.81 665.50,254.35 665.75,235.84 666.00,257.06 666.25,237.83 666.50,255.26 666.75,257.85 667.00,229.67 667.25,257.46 667.50,264.91 667.75,235.80 668.00,254.63 668.25,232.92 668.50,228.79 668.75,260.95 669.00,230.37 669.25,249.63 669.50,257.13 669.75,225.56 670.00,256.53 670.25,247.50 670.50,225.28 670.75,253.62 671.00,224.58 671.25,247.58 671.50,228.39 671.75,246.26 672.00,223.96 672.25,223.84 672.50,252.88 672.75,246.96 673.00,254.58 673.25,226.78 673.50,251.01 673.75,230.22 674.00,257.63 674.25,250.02 674.50,235.84 674.75,230.98 675.00,252.86 675.25,233.98 675.50,256.75 675.75,229.89 676.00,252.65 676.25,227.89 676.50,249.15 676.75,232.93 677.00,231.09 677.25,252.07 677.50,224.30 677.75,247.71 678.00,229.53 678.25,247.27 678.50,221.63 678.75,250.77 679.00,222.68 679.25,242.34 679.50,248.41 679.75,225.63 680.00,248.69 680.25,222.08 680.50,216.02 680.75,215.19 681.00,248.83 681.25,219.92 681.50,247.50" fill="none" stroke="#0000ff" stroke-width="0.7" stroke-linejoin="round"/><polyline points="402.00,226.15 402.25,242.22 402.50,226.55 402.75,243.58 403.00,231.21 403.25,232.57 403.50,244.45 403.75,228.72 404.00,252.18 404.25,230.61 404.50,252.51 404.75,231.84 405.00,234.85 405.25,253.48 405.50,237.93 405.75,251.84 406.00,238.85 406.25,251.79 406.50,238.65 406.75,253.12 407.00,255.63 407.25,243.00 407.50,256.23 407.75,242.39 408.00,254.84 408.25,240.00 408.50,255.59 408.75,242.47 409.00,252.61 409.25,254.10 409.50,240.61 409.75,249.96 410.00,238.50 410.25,238.32 410.50,240.36 410.75,250.45 411.00,236.45 411.25,250.78 411.50,238.09 411.75,246.89 412.00,233.33 412.25,245.87 412.50,236.48 412.75,247.41 413.00,235.79 413.25,247.94 413.50,232.96 413.75,230.51 414.00,242.65 414.25,231.60 414.50,233.58 414.75,246.24 415.00,241.97 415.25,228.43 415.50,231.50 415.75,242.22 416.00,235.63 416.25,244.11 416.50,233.38 416.75,242.00 417.00,234.26 417.25,235.27 417.50,233.86 417.75,232.30 418.00,239.94 418.25,228.90 418.50,239.88 418.75,230.04 419.00,233.03 419.25,239.17 419.50,231.60 419.75,230.15 420.00,243.01 420.25,232.77 420.50,234.02 420.75,240.31 421.00,234.77 421.25,235.17 421.50,240.41 421.75,231.47 422.00,243.10 422.25,232.47 422.50,241.06 422.75,231.11 423.00,239.91 423.25,233.99 423.50,239.84 423.75,233.51 424.00,242.08 424.25,232.25 424.50,242.25 424.75,232.17 425.00,232.59 425.25,231.22 425.50,242.95 425.75,229.61 426.00,239.30 426.25,230.71 426.50,242.35 426.75,231.02 427.00,243.40 427.25,238.85 427.50,230.28 427.75,239.10 428.00,230.34 428.25,242.41 428.50,225.08 428.75,243.99 429.00,226.43 429.25,239.55 429.50,224.31 429.75,240.83 430.00,225.05 430.25,249.70 430.50,233.63 430.75,250.80 431.00,231.67 431.25,250.21 431.50,233.63 431.75,251.47 432.00,234.27 432.25,250.13 432.50,233.53 432.75,247.82 433.00,250.86 433.25,233.28 433.50,249.08 433.75,249.47 434.00,231.61 434.25,249.61 434.50,229.59 434.75,248.41 435.00,227.29 435.25,245.02 435.50,232.55 435.75,247.15 436.00,230.21 436.25,249.10 436.50,242.29 436.75,229.45 437.00,234.77 437.25,235.33 437.50,235.31 437.75,244.53 438.00,236.99 438.25,246.68 438.50,237.12 438.75,246.17 439.00,246.61 439.25,238.15 439.50,247.76 439.75,238.06 440.00,247.14 440.25,237.85 440.50,245.12 440.75,236.11 441.00,245.81 441.25,246.56 441.50,245.08 441.75,233.82 442.00,242.29 442.25,245.94 442.50,230.00 442.75,243.79 443.00,231.59 443.25,229.14 443.50,245.21 443.75,231.71 444.00,241.59 444.25,234.74 444.50,245.54 444.75,232.96 445.00,243.82 445.25,235.45 445.50,244.71 445.75,235.06 446.00,244.27 446.25,237.66 446.50,236.84 446.75,246.60 447.00,238.66 447.25,245.86 447.50,236.03 447.75,249.73 448.00,244.71 448.25,246.67 448.50,235.97 448.75,249.62 449.00,235.55 449.25,247.31 449.50,251.01 449.75,236.80 450.00,251.46 450.25,236.88 450.50,237.54 450.75,251.51 451.00,236.26 451.25,248.35 451.50,235.40 451.75,249.85 452.00,235.61 452.25,248.32 452.50,233.09 452.75,244.98 453.00,233.73 453.25,236.31 453.50,248.88 453.75,233.69 454.00,248.54 454.25,232.93 454.50,249.21 454.75,235.93 455.00,246.51 455.25,236.10 455.50,252.36 455.75,238.63 456.00,238.05 456.25,249.72 456.50,239.83 456.75,236.86 457.00,245.33 457.25,237.59 457.50,247.54 457.75,237.23 458.00,246.34 458.25,238.39 458.50,248.86 458.75,247.45 459.00,235.89 459.25,247.10 459.50,248.00 459.75,235.09 460.00,247.84 460.25,245.41 460.50,231.49 460.75,248.95 461.00,234.85 461.25,232.36 461.50,245.49 461.75,235.40 462.00,245.65 462.25,243.37 462.50,235.59 462.75,244.14 463.00,233.57 463.25,246.64 463.50,234.74 463.75,247.92 464.00,234.37 464.25,247.40 464.50,237.05 464.75,247.58 465.00,234.88 465.25,247.24 465.50,234.24 465.75,234.06 466.00,248.74 466.25,234.72 466.50,245.29 466.75,233.15 467.00,246.15 467.25,233.26 467.50,233.27 467.75,244.67 468.00,230.44 468.25,244.05 468.50,242.82 468.75,235.84 469.00,243.34 469.25,234.98 469.50,235.87 469.75,243.52 470.00,244.21 470.25,235.47 470.50,232.99 470.75,242.94 471.00,232.15 471.25,243.89 471.50,233.55 471.75,242.00 472.00,234.30 472.25,232.42 472.50,242.69 472.75,232.89 473.00,232.76 473.25,231.65 473.50,239.49 473.75,231.75 474.00,232.25 474.25,240.77 474.50,231.82 474.75,232.72 475.00,239.79 475.25,231.09 475.50,238.30 475.75,231.20 476.00,238.16 476.25,229.79 476.50,239.56 476.75,238.49 477.00,228.41 477.25,231.40 477.50,228.23 477.75,239.57 478.00,231.24 478.25,237.67 478.50,228.23 478.75,238.61 479.00,228.81 479.25,230.00 479.50,230.72 479.75,230.71 480.00,230.43 480.25,230.35 480.50,239.95 480.75,232.30 481.00,233.07 481.25,238.86 481.50,231.11 481.75,242.04 482.00,231.64 482.25,239.33 482.50,231.55 482.75,241.45 483.00,229.05 483.25,240.30 483.50,229.53 483.75,238.79 484.00,238.68 484.25,229.51 484.50,239.16 484.75,233.08 485.00,242.00 485.25,230.25 485.50,240.32 485.75,233.22 486.00,241.96 486.25,229.71 486.50,242.01 486.75,234.90 487.00,243.03 487.25,234.67 487.50,243.64 487.75,233.34 488.00,241.45 488.25,236.37 488.50,244.68 488.75,235.24 489.00,233.39 489.25,242.43 489.50,235.37 489.75,244.87 490.00,232.60 490.25,243.11 490.50,234.09 490.75,234.31 491.00,243.59 491.25,245.62 491.50,233.32 491.75,230.15 492.00,244.44 492.25,232.46 492.50,240.90 492.75,243.56 493.00,227.15 493.25,246.55 493.50,227.62 493.75,240.78 494.00,229.91 494.25,244.08 494.50,232.04 494.75,243.80 495.00,232.76 495.25,240.39 495.50,233.74 495.75,240.63 496.00,234.22 496.25,241.25 496.50,240.16 496.75,234.84 497.00,241.07 497.25,234.84 497.50,234.95 497.75,241.96 498.00,236.76 498.25,243.74 498.50,235.65 498.75,236.98 499.00,245.13 499.25,237.68 499.50,244.24 499.75,237.57 500.00,237.20 500.25,243.31 500.50,235.22 500.75,243.78 501.00,237.41 501.25,244.09 501.50,241.50 501.75,233.25 502.00,242.06 502.25,235.94 502.50,243.82 502.75,233.96 503.00,240.66 503.25,241.14 503.50,234.60 503.75,241.61 504.00,231.82 504.25,242.01 504.50,231.55 504.75,231.53 505.00,239.44 505.25,233.29 505.50,244.22 505.75,234.76 506.00,241.87 506.25,235.47 506.50,240.52 506.75,234.94 507.00,243.43 507.25,235.49 507.50,241.79 507.75,235.87 508.00,242.67 508.25,237.12 508.50,244.39 508.75,238.13 509.00,244.86 509.25,237.18 509.50,245.57 509.75,246.48 510.00,238.18 510.25,245.28 510.50,244.61 510.75,236.48 511.00,234.52 511.25,237.31 511.50,241.77 511.75,236.60 512.00,242.22 512.25,236.12 512.50,243.58 512.75,241.54 513.00,242.93 513.25,234.69 513.50,244.39 513.75,234.04 514.00,242.71 514.25,235.70 514.50,236.42 514.75,242.88 515.00,235.85 515.25,234.15 515.50,235.24 515.75,242.54 516.00,235.78 516.25,244.68 516.50,234.49 516.75,240.68 517.00,234.08 517.25,241.59 517.50,235.20 517.75,241.66 518.00,236.52 518.25,243.66 518.50,235.20 518.75,243.20 519.00,235.64 519.25,235.60 519.50,243.36 519.75,236.17 520.00,242.06 520.25,236.25 520.50,236.96 520.75,243.27 521.00,238.23 521.25,247.04 521.50,239.16 521.75,245.99 522.00,239.97 522.25,239.89 522.50,237.97 522.75,246.69 523.00,238.99 523.25,245.99 523.50,246.53 523.75,239.37 524.00,237.49 524.25,247.47 524.50,238.05 524.75,246.06 525.00,237.74 525.25,246.29 525.50,236.38 525.75,244.05 526.00,246.23 526.25,237.72 526.50,243.89 526.75,236.39 527.00,245.08 527.25,245.89 527.50,236.44 527.75,246.80 528.00,237.34 528.25,245.56 528.50,236.75 528.75,246.66 529.00,238.31 529.25,246.06 529.50,240.40 529.75,245.04 530.00,239.16 530.25,247.12 530.50,237.42 530.75,238.09 531.00,245.28 531.25,236.67 531.50,243.10 531.75,236.14 532.00,236.43 532.25,236.36 532.50,241.97 532.75,233.75 533.00,243.23 533.25,243.46 533.50,235.20 533.75,243.42 534.00,234.25 534.25,242.44 534.50,232.20 534.75,242.34 535.00,231.93 535.25,242.48 535.50,234.76 535.75,245.91 536.00,234.74 536.25,234.16 536.50,243.14 536.75,234.45 537.00,241.71 537.25,232.25 537.50,241.87 537.75,233.20 538.00,244.18 538.25,233.32 538.50,242.96 538.75,234.33 539.00,241.93 539.25,232.28 539.50,244.73 539.75,233.19 540.00,243.98 540.25,230.26 540.50,240.72 540.75,229.46 541.00,240.06 541.25,228.85 541.50,244.39 541.75,239.98 542.00,229.66 542.25,241.28 542.50,240.09 542.75,231.65 543.00,229.08 543.25,240.65 543.50,228.53 543.75,230.35 544.00,228.46 544.25,235.35 544.50,228.03 544.75,238.65 545.00,226.19 545.25,235.31 545.50,235.52 545.75,227.74 546.00,226.53 546.25,236.60 546.50,227.09 546.75,234.66 547.00,234.64 547.25,227.23 547.50,235.33 547.75,227.10 548.00,237.16 548.25,227.71 548.50,227.43 548.75,230.27 549.00,230.70 549.25,228.25 549.50,236.19 549.75,237.45 550.00,236.69 550.25,235.63 550.50,237.88 550.75,228.51 551.00,237.23 551.25,229.18 551.50,236.76 551.75,235.46 552.00,227.47 552.25,237.47 552.50,229.12 552.75,235.77 553.00,228.80 553.25,238.61 553.50,227.54 553.75,238.53 554.00,229.35 554.25,237.36 554.50,227.42 554.75,239.89 555.00,227.70 555.25,238.40 555.50,237.89 555.75,230.95 556.00,239.41 556.25,240.77 556.50,229.34 556.75,243.31 557.00,234.15 557.25,241.39 557.50,233.28 557.75,241.61 558.00,232.32 558.25,242.76 558.50,233.70 558.75,237.00 559.00,235.82 559.25,245.23 559.50,234.73 559.75,234.53 560.00,246.14 560.25,237.59 560.50,246.20 560.75,236.51 561.00,236.89 561.25,243.07 561.50,245.44 561.75,243.51 562.00,233.38 562.25,242.67 562.50,236.32 562.75,244.54 563.00,243.84 563.25,233.66 563.50,233.71 563.75,243.02 564.00,242.75 564.25,234.89 564.50,243.47 564.75,234.42 565.00,244.70 565.25,234.44 565.50,248.23 565.75,236.20 566.00,245.04 566.25,234.93 566.50,231.82 566.75,244.08 567.00,235.65 567.25,244.71 567.50,235.38 567.75,245.77 568.00,245.50 568.25,235.00 568.50,236.36 568.75,243.30 569.00,233.14 569.25,243.74 569.50,246.09 569.75,235.89 570.00,242.48 570.25,232.66 570.50,246.02 570.75,232.83 571.00,244.82 571.25,234.46 571.50,233.09 571.75,243.00 572.00,235.11 572.25,247.41 572.50,230.99 572.75,245.55 573.00,235.67 573.25,231.26 573.50,244.37 573.75,234.87 574.00,243.34 574.25,231.28 574.50,230.67 574.75,242.56 575.00,229.31 575.25,242.84 575.50,231.18 575.75,243.45 576.00,232.45 576.25,239.83 576.50,240.84 576.75,231.04 577.00,239.04 577.25,231.30 577.50,231.98 577.75,238.80 578.00,230.52 578.25,238.52 578.50,230.11 578.75,229.54 579.00,237.77 579.25,227.41 579.50,238.13 579.75,229.54 580.00,236.21 580.25,228.51 580.50,238.26 580.75,231.26 581.00,237.08 581.25,238.92 581.50,239.78 581.75,231.08 582.00,239.06 582.25,230.80 582.50,232.09 582.75,240.68 583.00,241.43 583.25,233.51 583.50,241.72 583.75,234.12 584.00,243.62 584.25,234.38 584.50,242.10 584.75,233.26 585.00,232.30 585.25,241.26 585.50,233.62 585.75,234.59 586.00,242.04 586.25,232.85 586.50,235.92 586.75,243.43 587.00,232.46 587.25,243.40 587.50,233.98 587.75,246.65 588.00,248.21 588.25,235.48 588.50,247.42 588.75,240.46 589.00,252.17 589.25,240.13 589.50,251.40 589.75,236.79 590.00,251.48 590.25,252.70 590.50,239.46 590.75,235.41 591.00,246.96 591.25,236.75 591.50,249.47 591.75,239.09 592.00,246.76 592.25,235.77 592.50,248.24 592.75,236.74 593.00,246.05 593.25,246.88 593.50,246.56 593.75,246.75 594.00,237.27 594.25,247.34 594.50,245.18 594.75,236.38 595.00,244.02 595.25,236.34 595.50,245.23 595.75,237.86 596.00,243.28 596.25,237.13 596.50,243.06 596.75,236.96 597.00,244.05 597.25,237.50 597.50,243.27 597.75,236.57 598.00,242.65 598.25,234.92 598.50,244.07 598.75,235.99 599.00,242.49 599.25,233.32 599.50,241.29 599.75,232.67 600.00,241.09 600.25,242.28 600.50,234.96 600.75,240.27 601.00,233.85 601.25,235.37 601.50,239.58 601.75,240.19 602.00,233.31 602.25,238.83 602.50,233.54 602.75,240.64 603.00,232.92 603.25,233.85 603.50,238.19 603.75,231.79 604.00,239.01 604.25,237.65 604.50,231.65 604.75,239.97 605.00,232.34 605.25,239.81 605.50,233.78 605.75,241.52 606.00,233.99 606.25,240.59 606.50,234.27 606.75,240.79 607.00,235.21 607.25,235.60 607.50,234.42 607.75,242.21 608.00,234.64 608.25,236.85 608.50,234.44 608.75,245.35 609.00,243.87 609.25,246.90 609.50,236.55 609.75,247.09 610.00,238.60 610.25,234.95 610.50,236.81 610.75,245.75 611.00,245.35 611.25,238.42 611.50,236.11 611.75,247.00 612.00,239.79 612.25,238.24 612.50,238.31 612.75,237.08 613.00,246.87 613.25,236.99 613.50,247.67 613.75,237.76 614.00,249.16 614.25,247.79 614.50,236.46 614.75,247.66 615.00,233.77 615.25,252.01 615.50,236.19 615.75,252.60 616.00,232.10 616.25,252.37 616.50,226.96 616.75,230.15 617.00,256.53 617.25,230.78 617.50,252.40 617.75,225.63 618.00,226.10 618.25,226.53 618.50,229.70 618.75,248.68 619.00,231.95 619.25,246.73 619.50,229.63 619.75,244.01 620.00,245.38 620.25,246.84 620.50,233.77 620.75,248.52 621.00,234.98 621.25,246.11 621.50,235.48 621.75,246.51 622.00,236.06 622.25,251.89 622.50,237.38 622.75,237.81 623.00,250.62 623.25,237.79 623.50,250.32 623.75,232.20 624.00,249.69 624.25,236.86 624.50,254.18 624.75,250.58 625.00,231.91 625.25,253.68 625.50,235.22 625.75,232.05 626.00,236.10 626.25,251.66 626.50,233.53 626.75,252.07 627.00,229.55 627.25,251.41 627.50,227.83 627.75,248.40 628.00,230.83 628.25,229.96 628.50,229.38 628.75,225.09 629.00,230.67 629.25,250.77 629.50,223.63 629.75,251.96 630.00,229.55 630.25,230.63 630.50,251.90 630.75,228.84 631.00,245.12 631.25,228.73 631.50,245.94 631.75,231.09 632.00,248.88 632.25,236.26 632.50,233.83 632.75,250.32 633.00,236.15 633.25,247.41 633.50,239.53 633.75,249.81 634.00,235.45 634.25,250.94 634.50,236.61 634.75,250.56 635.00,250.18 635.25,234.23 635.50,253.89 635.75,234.88 636.00,241.01 636.25,254.12 636.50,239.42 636.75,252.00 637.00,239.00 637.25,230.86 637.50,251.95 637.75,233.61 638.00,235.51 638.25,246.77 638.50,243.91 638.75,236.29 639.00,247.30 639.25,233.52 639.50,246.58 639.75,232.29 640.00,245.30 640.25,232.73 640.50,230.70 640.75,240.74 641.00,233.24 641.25,243.13 641.50,231.62 641.75,242.30 642.00,230.54 642.25,241.82 642.50,231.19 642.75,243.72 643.00,231.97 643.25,243.05 643.50,232.02 643.75,245.28 644.00,229.93 644.25,244.03 644.50,231.81 644.75,245.97 645.00,244.34 645.25,242.19 645.50,227.51 645.75,244.78 646.00,228.31 646.25,229.71 646.50,242.26 646.75,227.81 647.00,246.66 647.25,231.23 647.50,245.70 647.75,233.00 648.00,243.66 648.25,249.05 648.50,231.78 648.75,246.80 649.00,230.82 649.25,247.08 649.50,228.46 649.75,222.49 650.00,248.53 650.25,229.05 650.50,247.83 650.75,228.59 651.00,227.39 651.25,244.54 651.50,233.72 651.75,228.02 652.00,235.19 652.25,247.67 652.50,231.29 652.75,247.03 653.00,245.89 653.25,229.83 653.50,246.01 653.75,230.28 654.00,245.86 654.25,228.03 654.50,244.31 654.75,228.61 655.00,240.67 655.25,228.29 655.50,217.99 655.75,238.86 656.00,227.82 656.25,241.79 656.50,228.11 656.75,244.85 657.00,224.55 657.25,245.58 657.50,226.95 657.75,246.14 658.00,227.17 658.25,241.89 658.50,231.16 658.75,228.04 659.00,244.94 659.25,229.38 659.50,243.16 659.75,228.97 660.00,242.50 660.25,231.75 660.50,244.46 660.75,248.55 661.00,246.42 661.25,245.45 661.50,246.19 661.75,233.79 662.00,249.38 662.25,235.96 662.50,233.63 662.75,252.50 663.00,236.96 663.25,253.71 663.50,230.97 663.75,252.65 664.00,237.99 664.25,236.01 664.50,261.94 664.75,233.25 665.00,230.45 665.25,257.32 665.50,230.83 665.75,259.65 666.00,259.03 666.25,253.28 666.50,234.43 666.75,229.63 667.00,260.74 667.25,235.20 667.50,260.89 667.75,252.49 668.00,230.78 668.25,256.25 668.50,230.95 668.75,250.12 669.00,233.32 669.25,251.03 669.50,231.77 669.75,255.70 670.00,225.05 670.25,224.92 670.50,225.74 670.75,252.20 671.00,250.39 671.25,222.86 671.50,254.36 671.75,219.52 672.00,247.75 672.25,231.73 672.50,255.64 672.75,227.49 673.00,254.95 673.25,229.50 673.50,254.96 673.75,232.79 674.00,250.65 674.25,250.55 674.50,235.67 674.75,257.58 675.00,254.86 675.25,235.40 675.50,254.31 675.75,249.85 676.00,229.16 676.25,250.39 676.50,217.00 676.75,252.64 677.00,228.85 677.25,250.49 677.50,223.44 677.75,243.37 678.00,228.08 678.25,246.36 678.50,222.21 678.75,242.32 679.00,249.70 679.25,244.14 679.50,249.99 679.75,221.15 680.00,241.26 680.25,222.10 680.50,246.01 680.75,224.25 681.00,243.09 681.25,221.28 681.50,222.74" fill="none" stroke="#ff0000" stroke-width="0.7" stroke-linejoin="round"/><polyline points="402.00,227.37 402.25,238.90 402.50,226.08 402.75,225.19 403.00,241.64 403.25,228.28 403.50,248.18 403.75,247.77 404.00,228.67 404.25,231.57 404.50,248.20 404.75,235.46 405.00,252.50 405.25,235.88 405.50,253.79 405.75,236.41 406.00,251.43 406.25,239.11 406.50,253.53 406.75,241.52 407.00,256.04 407.25,241.53 407.50,253.58 407.75,242.02 408.00,255.06 408.25,241.94 408.50,255.80 408.75,244.05 409.00,258.06 409.25,244.64 409.50,250.98 409.75,243.86 410.00,239.93 410.25,251.11 410.50,241.21 410.75,241.33 411.00,252.04 411.25,240.33 411.50,250.72 411.75,239.90 412.00,249.96 412.25,235.45 412.50,245.59 412.75,236.63 413.00,246.55 413.25,233.78 413.50,250.43 413.75,234.92 414.00,244.09 414.25,243.57 414.50,230.06 414.75,244.13 415.00,232.59 415.25,231.36 415.50,232.36 415.75,241.78 416.00,234.26 416.25,241.73 416.50,233.47 416.75,241.25 417.00,234.44 417.25,240.92 417.50,242.74 417.75,234.85 418.00,242.67 418.25,232.69 418.50,239.79 418.75,231.85 419.00,239.67 419.25,232.78 419.50,240.39 419.75,232.01 420.00,230.76 420.25,239.49 420.50,242.09 420.75,231.75 421.00,242.28 421.25,231.95 421.50,240.23 421.75,240.17 422.00,232.69 422.25,240.51 422.50,234.89 422.75,240.46 423.00,233.24 423.25,240.23 423.50,234.62 423.75,233.07 424.00,239.49 424.25,234.44 424.50,232.00 424.75,231.79 425.00,239.97 425.25,238.88 425.50,240.66 425.75,232.95 426.00,231.02 426.25,239.37 426.50,232.51 426.75,239.63 427.00,228.67 427.25,241.20 427.50,228.10 427.75,239.17 428.00,226.56 428.25,238.92 428.50,227.96 428.75,240.62 429.00,229.09 429.25,229.88 429.50,238.61 429.75,225.86 430.00,228.47 430.25,241.04 430.50,240.92 430.75,219.24 431.00,231.31 431.25,250.30 431.50,250.83 431.75,237.93 432.00,251.87 432.25,238.17 432.50,249.06 432.75,248.40 433.00,249.01 433.25,249.25 433.50,234.94 433.75,234.44 434.00,249.54 434.25,232.37 434.50,246.10 434.75,231.70 435.00,245.19 435.25,247.61 435.50,231.71 435.75,246.31 436.00,232.41 436.25,244.76 436.50,232.28 436.75,249.26 437.00,232.89 437.25,245.26 437.50,235.00 437.75,234.99 438.00,234.69 438.25,237.25 438.50,245.29 438.75,237.06 439.00,244.36 439.25,238.60 439.50,246.42 439.75,238.00 440.00,244.79 440.25,238.27 440.50,245.73 440.75,243.87 441.00,245.98 441.25,236.63 441.50,243.49 441.75,235.02 442.00,244.81 442.25,236.15 442.50,242.46 442.75,233.38 443.00,244.30 443.25,234.27 443.50,232.60 443.75,243.69 444.00,230.95 444.25,230.79 444.50,241.37 444.75,234.15 445.00,243.13 445.25,233.73 445.50,235.26 445.75,244.89 446.00,234.91 446.25,245.54 446.50,235.23 446.75,245.80 447.00,243.62 447.25,237.63 447.50,245.32 447.75,236.04 448.00,244.37 448.25,239.46 448.50,245.11 448.75,238.03 449.00,245.22 449.25,238.22 449.50,247.35 449.75,248.01 450.00,234.11 450.25,250.56 450.50,236.55 450.75,238.63 451.00,250.59 451.25,237.73 451.50,247.92 451.75,236.43 452.00,237.18 452.25,232.07 452.50,247.55 452.75,236.20 453.00,244.39 453.25,244.30 453.50,236.35 453.75,245.66 454.00,236.44 454.25,243.43 454.50,237.27 454.75,245.90 455.00,236.39 455.25,247.12 455.50,248.37 455.75,245.21 456.00,237.20 456.25,239.96 456.50,234.57 456.75,250.12 457.00,237.01 457.25,246.55 457.50,238.06 457.75,246.81 458.00,238.20 458.25,246.56 458.50,236.20 458.75,245.85 459.00,237.05 459.25,238.14 459.50,237.11 459.75,236.44 460.00,247.37 460.25,237.54 460.50,243.84 460.75,233.13 461.00,245.01 461.25,236.09 461.50,245.17 461.75,243.63 462.00,234.96 462.25,232.09 462.50,245.40 462.75,231.70 463.00,242.80 463.25,235.10 463.50,246.40 463.75,234.73 464.00,246.79 464.25,236.68 464.50,247.06 464.75,247.34 465.00,238.36 465.25,238.82 465.50,237.96 465.75,245.90 466.00,234.84 466.25,237.14 466.50,235.52 466.75,245.88 467.00,235.67 467.25,244.69 467.50,234.95 467.75,250.90 468.00,235.31 468.25,246.44 468.50,246.28 468.75,242.29 469.00,241.79 469.25,242.31 469.50,236.50 469.75,241.18 470.00,235.06 470.25,244.20 470.50,233.92 470.75,242.73 471.00,235.42 471.25,242.82 471.50,233.06 471.75,240.91 472.00,234.72 472.25,234.77 472.50,240.44 472.75,233.07 473.00,241.70 473.25,234.47 473.50,241.40 473.75,234.68 474.00,239.31 474.25,232.38 474.50,239.88 474.75,240.70 475.00,233.17 475.25,238.27 475.50,232.81 475.75,238.03 476.00,232.64 476.25,237.96 476.50,231.28 476.75,238.65 477.00,231.84 477.25,236.98 477.50,238.98 477.75,230.80 478.00,239.20 478.25,229.16 478.50,228.52 478.75,239.06 479.00,230.83 479.25,238.71 479.50,230.78 479.75,239.84 480.00,230.09 480.25,232.78 480.50,232.42 480.75,231.69 481.00,239.90 481.25,233.51 481.50,239.54 481.75,240.09 482.00,231.18 482.25,239.99 482.50,233.36 482.75,240.56 483.00,233.02 483.25,238.74 483.50,230.94 483.75,231.52 484.00,237.24 484.25,237.32 484.50,233.00 484.75,232.55 485.00,240.50 485.25,231.09 485.50,240.92 485.75,231.83 486.00,240.71 486.25,231.92 486.50,240.71 486.75,234.01 487.00,242.18 487.25,241.50 487.50,241.73 487.75,235.68 488.00,242.09 488.25,234.70 488.50,242.46 488.75,244.01 489.00,243.61 489.25,235.93 489.50,241.24 489.75,236.41 490.00,245.78 490.25,235.43 490.50,241.70 490.75,235.81 491.00,235.30 491.25,242.85 491.50,233.17 491.75,241.39 492.00,232.46 492.25,242.17 492.50,244.93 492.75,229.64 493.00,241.50 493.25,229.92 493.50,229.60 493.75,245.03 494.00,229.33 494.25,229.71 494.50,229.97 494.75,242.56 495.00,231.06 495.25,230.76 495.50,241.67 495.75,230.72 496.00,240.82 496.25,239.67 496.50,233.06 496.75,241.15 497.00,234.49 497.25,242.09 497.50,236.22 497.75,235.57 498.00,240.87 498.25,236.27 498.50,237.56 498.75,242.80 499.00,237.66 499.25,242.59 499.50,237.65 499.75,242.00 500.00,243.76 500.25,244.34 500.50,238.59 500.75,243.94 501.00,238.30 501.25,242.97 501.50,236.29 501.75,242.42 502.00,234.81 502.25,240.58 502.50,240.59 502.75,241.56 503.00,240.38 503.25,234.97 503.50,233.42 503.75,233.93 504.00,240.08 504.25,233.89 504.50,239.54 504.75,232.85 505.00,239.19 505.25,231.89 505.50,238.76 505.75,234.14 506.00,240.04 506.25,234.69 506.50,240.49 506.75,233.85 507.00,234.77 507.25,241.14 507.50,240.76 507.75,235.42 508.00,242.77 508.25,242.43 508.50,238.06 508.75,242.19 509.00,238.52 509.25,242.70 509.50,238.98 509.75,243.54 510.00,237.91 510.25,244.12 510.50,237.36 510.75,243.18 511.00,237.51 511.25,244.88 511.50,243.77 511.75,236.56 512.00,242.17 512.25,241.43 512.50,236.43 512.75,241.94 513.00,234.08 513.25,234.61 513.50,240.28 513.75,233.99 514.00,242.21 514.25,236.88 514.50,241.25 514.75,237.01 515.00,235.98 515.25,242.72 515.50,236.04 515.75,241.21 516.00,235.97 516.25,241.33 516.50,241.09 516.75,236.36 517.00,240.52 517.25,234.89 517.50,240.77 517.75,235.37 518.00,241.26 518.25,240.02 518.50,237.02 518.75,241.29 519.00,240.22 519.25,235.39 519.50,242.84 519.75,237.69 520.00,236.32 520.25,235.37 520.50,241.42 520.75,236.62 521.00,242.81 521.25,237.83 521.50,242.66 521.75,239.22 522.00,243.69 522.25,239.37 522.50,243.70 522.75,239.02 523.00,246.19 523.25,239.50 523.50,239.22 523.75,247.32 524.00,238.39 524.25,238.93 524.50,247.01 524.75,238.07 525.00,245.89 525.25,246.14 525.50,239.00 525.75,244.91 526.00,238.40 526.25,243.31 526.50,238.96 526.75,243.18 527.00,242.87 527.25,238.10 527.50,245.32 527.75,236.28 528.00,245.36 528.25,238.62 528.50,244.82 528.75,238.79 529.00,237.46 529.25,245.86 529.50,247.35 529.75,238.58 530.00,239.06 530.25,244.45 530.50,239.83 530.75,245.76 531.00,239.24 531.25,243.79 531.50,239.51 531.75,244.54 532.00,238.06 532.25,243.26 532.50,237.82 532.75,243.23 533.00,237.44 533.25,243.00 533.50,236.30 533.75,241.51 534.00,234.62 534.25,242.36 534.50,235.47 534.75,240.89 535.00,234.26 535.25,240.56 535.50,232.56 535.75,240.02 536.00,233.54 536.25,241.35 536.50,233.62 536.75,241.69 537.00,235.84 537.25,240.98 537.50,234.17 537.75,235.82 538.00,235.16 538.25,242.29 538.50,244.20 538.75,232.87 539.00,232.31 539.25,244.09 539.50,234.49 539.75,243.33 540.00,233.60 540.25,242.76 540.50,243.85 540.75,232.54 541.00,242.04 541.25,234.06 541.50,241.80 541.75,230.84 542.00,232.86 542.25,233.03 542.50,241.41 542.75,232.03 543.00,241.07 543.25,231.40 543.50,230.03 543.75,237.72 544.00,229.99 544.25,235.77 544.50,230.86 544.75,234.75 545.00,229.90 545.25,237.99 545.50,235.47 545.75,228.45 546.00,234.56 546.25,234.66 546.50,228.90 546.75,235.30 547.00,227.47 547.25,236.17 547.50,236.37 547.75,228.51 548.00,236.84 548.25,227.05 548.50,234.84 548.75,229.26 549.00,236.30 549.25,228.38 549.50,239.86 549.75,229.60 550.00,236.52 550.25,230.94 550.50,230.87 550.75,236.51 551.00,236.29 551.25,236.10 551.50,235.16 551.75,230.34 552.00,235.60 552.25,229.20 552.50,235.05 552.75,235.83 553.00,229.06 553.25,235.26 553.50,228.86 553.75,236.84 554.00,229.80 554.25,238.23 554.50,227.33 554.75,240.52 555.00,229.32 555.25,238.96 555.50,232.03 555.75,231.35 556.00,239.93 556.25,230.97 556.50,238.54 556.75,233.14 557.00,238.35 557.25,234.09 557.50,240.89 557.75,235.20 558.00,239.69 558.25,234.68 558.50,243.06 558.75,242.53 559.00,235.89 559.25,243.74 559.50,236.09 559.75,243.01 560.00,237.57 560.25,243.79 560.50,244.82 560.75,235.64 561.00,243.17 561.25,237.54 561.50,242.62 561.75,236.00 562.00,243.92 562.25,245.00 562.50,244.28 562.75,237.21 563.00,244.67 563.25,241.61 563.50,233.72 563.75,242.12 564.00,235.71 564.25,236.06 564.50,242.28 564.75,233.25 565.00,242.86 565.25,235.27 565.50,243.62 565.75,233.49 566.00,245.37 566.25,233.54 566.50,242.79 566.75,244.83 567.00,243.00 567.25,236.05 567.50,244.13 567.75,236.10 568.00,243.89 568.25,234.16 568.50,244.34 568.75,235.63 569.00,244.61 569.25,235.91 569.50,241.67 569.75,243.55 570.00,236.30 570.25,242.35 570.50,236.01 570.75,232.91 571.00,242.70 571.25,235.45 571.50,242.98 571.75,234.58 572.00,234.79 572.25,242.53 572.50,235.53 572.75,243.91 573.00,234.66 573.25,244.96 573.50,248.87 573.75,234.41 574.00,242.80 574.25,245.10 574.50,234.61 574.75,241.74 575.00,231.10 575.25,240.51 575.50,233.09 575.75,241.83 576.00,242.16 576.25,230.77 576.50,230.11 576.75,230.13 577.00,238.87 577.25,231.12 577.50,240.43 577.75,230.44 578.00,230.98 578.25,237.83 578.50,229.39 578.75,239.83 579.00,231.36 579.25,237.15 579.50,230.27 579.75,230.89 580.00,238.58 580.25,229.33 580.50,229.22 580.75,236.46 581.00,229.92 581.25,237.56 581.50,230.88 581.75,230.80 582.00,233.21 582.25,237.43 582.50,239.48 582.75,232.36 583.00,238.49 583.25,239.42 583.50,240.47 583.75,233.35 584.00,240.00 584.25,233.55 584.50,239.63 584.75,240.72 585.00,234.85 585.25,241.49 585.50,233.30 585.75,241.52 586.00,234.50 586.25,242.11 586.50,233.46 586.75,240.76 587.00,236.39 587.25,243.89 587.50,234.08 587.75,245.57 588.00,237.26 588.25,245.88 588.50,238.87 588.75,250.80 589.00,238.02 589.25,248.67 589.50,240.11 589.75,248.74 590.00,249.23 590.25,239.87 590.50,238.55 590.75,251.45 591.00,249.74 591.25,238.43 591.50,238.76 591.75,247.70 592.00,238.24 592.25,247.53 592.50,237.64 592.75,245.50 593.00,238.65 593.25,245.06 593.50,244.95 593.75,238.54 594.00,245.66 594.25,235.83 594.50,245.91 594.75,237.23 595.00,243.15 595.25,237.97 595.50,245.88 595.75,245.04 596.00,237.00 596.25,244.07 596.50,237.95 596.75,236.71 597.00,243.79 597.25,237.54 597.50,244.12 597.75,235.78 598.00,236.02 598.25,243.70 598.50,243.65 598.75,243.46 599.00,234.77 599.25,241.78 599.50,234.94 599.75,240.75 600.00,236.20 600.25,234.21 600.50,240.88 600.75,234.81 601.00,240.19 601.25,233.57 601.50,241.25 601.75,235.06 602.00,239.11 602.25,235.38 602.50,239.02 602.75,233.81 603.00,238.66 603.25,238.51 603.50,232.31 603.75,238.36 604.00,238.69 604.25,233.51 604.50,239.48 604.75,233.05 605.00,239.36 605.25,232.29 605.50,239.66 605.75,234.61 606.00,238.53 606.25,234.58 606.50,241.05 606.75,235.80 607.00,240.58 607.25,235.41 607.50,242.20 607.75,236.47 608.00,242.79 608.25,235.71 608.50,242.02 608.75,236.01 609.00,243.44 609.25,237.93 609.50,244.47 609.75,245.71 610.00,245.94 610.25,237.22 610.50,243.89 610.75,238.41 611.00,246.61 611.25,238.64 611.50,248.20 611.75,237.70 612.00,245.18 612.25,238.44 612.50,246.41 612.75,245.64 613.00,239.91 613.25,249.12 613.50,239.33 613.75,246.56 614.00,245.99 614.25,245.02 614.50,248.01 614.75,236.23 615.00,236.34 615.25,251.11 615.50,235.96 615.75,250.33 616.00,234.27 616.25,228.22 616.50,250.73 616.75,234.33 617.00,229.28 617.25,250.92 617.50,225.86 617.75,247.91 618.00,231.15 618.25,251.07 618.50,250.71 618.75,229.39 619.00,243.43 619.25,234.12 619.50,246.90 619.75,244.00 620.00,234.69 620.25,244.73 620.50,234.61 620.75,235.24 621.00,246.01 621.25,235.13 621.50,245.21 621.75,236.88 622.00,239.65 622.25,249.66 622.50,235.91 622.75,253.68 623.00,236.14 623.25,248.75 623.50,234.54 623.75,247.29 624.00,238.63 624.25,250.76 624.50,234.30 624.75,228.46 625.00,252.90 625.25,231.74 625.50,248.80 625.75,230.79 626.00,232.22 626.25,251.29 626.50,227.42 626.75,249.45 627.00,246.91 627.25,232.74 627.50,228.87 627.75,249.81 628.00,228.93 628.25,248.72 628.50,227.69 628.75,225.68 629.00,230.81 629.25,230.67 629.50,249.42 629.75,231.69 630.00,246.61 630.25,230.49 630.50,231.01 630.75,244.09 631.00,225.55 631.25,250.78 631.50,231.16 631.75,249.18 632.00,230.93 632.25,244.42 632.50,234.94 632.75,249.84 633.00,247.69 633.25,248.01 633.50,236.69 633.75,248.61 634.00,239.16 634.25,236.58 634.50,238.82 634.75,237.77 635.00,252.98 635.25,236.71 635.50,252.96 635.75,236.39 636.00,253.51 636.25,238.32 636.50,259.21 636.75,240.19 637.00,237.08 637.25,236.21 637.50,239.17 637.75,252.03 638.00,236.53 638.25,245.60 638.50,249.05 638.75,234.45 639.00,244.80 639.25,245.95 639.50,235.51 639.75,243.01 640.00,231.46 640.25,247.31 640.50,242.21 640.75,234.45 641.00,233.23 641.25,243.66 641.50,230.55 641.75,241.61 642.00,231.78 642.25,233.45 642.50,244.26 642.75,230.22 643.00,242.36 643.25,232.41 643.50,241.54 643.75,231.21 644.00,245.02 644.25,232.61 644.50,245.02 644.75,233.25 645.00,241.59 645.25,248.89 645.50,229.84 645.75,244.01 646.00,242.85 646.25,244.95 646.50,232.10 646.75,242.24 647.00,244.51 647.25,231.10 647.50,242.83 647.75,230.40 648.00,247.45 648.25,227.76 648.50,233.93 648.75,247.39 649.00,232.27 649.25,250.19 649.50,228.25 649.75,247.16 650.00,248.69 650.25,227.79 650.50,248.56 650.75,232.69 651.00,245.52 651.25,234.59 651.50,248.70 651.75,233.41 652.00,248.52 652.25,232.56 652.50,235.06 652.75,245.93 653.00,232.62 653.25,235.18 653.50,247.97 653.75,231.59 654.00,241.66 654.25,231.28 654.50,240.33 654.75,228.45 655.00,244.57 655.25,231.22 655.50,242.72 655.75,240.50 656.00,229.12 656.25,229.39 656.50,238.79 656.75,224.98 657.00,240.11 657.25,228.11 657.50,241.60 657.75,241.19 658.00,228.65 658.25,244.91 658.50,225.62 658.75,242.25 659.00,228.88 659.25,242.91 659.50,230.59 659.75,230.45 660.00,246.23 660.25,244.58 660.50,229.69 660.75,244.21 661.00,232.67 661.25,233.12 661.50,247.26 661.75,235.10 662.00,249.02 662.25,235.27 662.50,248.69 662.75,248.68 663.00,252.12 663.25,232.43 663.50,248.80 663.75,235.04 664.00,250.40 664.25,232.69 664.50,231.17 664.75,231.17 665.00,232.46 665.25,234.62 665.50,234.11 665.75,232.34 666.00,255.87 666.25,237.81 666.50,252.52 666.75,254.67 667.00,257.30 667.25,234.46 667.50,259.46 667.75,223.49 668.00,254.84 668.25,227.48 668.50,230.69 668.75,226.98 669.00,249.12 669.25,233.14 669.50,251.61 669.75,231.60 670.00,249.35 670.25,228.99 670.50,248.94 670.75,226.68 671.00,251.97 671.25,257.90 671.50,231.23 671.75,253.27 672.00,231.71 672.25,254.81 672.50,226.24 672.75,251.92 673.00,233.26 673.25,229.95 673.50,230.32 673.75,254.51 674.00,230.68 674.25,256.78 674.50,236.36 674.75,254.18 675.00,232.57 675.25,256.85 675.50,229.29 675.75,231.69 676.00,250.20 676.25,229.03 676.50,246.93 676.75,232.93 677.00,245.83 677.25,227.20 677.50,251.98 677.75,229.87 678.00,220.72 678.25,247.34 678.50,220.16 678.75,241.93 679.00,219.24 679.25,243.29 679.50,226.06 679.75,246.62 680.00,217.90 680.25,248.63 680.50,245.68 680.75,219.12 681.00,247.43 681.25,246.74 681.50,243.55" fill="none" stroke="#00ff00" stroke-width="0.7" stroke-linejoin="round"/></g>
<line x1="402.00" y1="189.11" x2="404.80" y2="189.11" stroke="#3a3a3a" stroke-width="1"/>
<line x1="678.80" y1="189.11" x2="681.60" y2="189.11" stroke="#3a3a3a" stroke-width="1"/>
<line x1="402.00" y1="214.13" x2="404.80" y2="214.13" stroke="#3a3a3a" stroke-width="1"/>
<line x1="678.80" y1="214.13" x2="681.60" y2="214.13" stroke="#3a3a3a" stroke-width="1"/>
<line x1="402.00" y1="239.16" x2="404.80" y2="239.16" stroke="#3a3a3a" stroke-width="1"/>
<line x1="678.80" y1="239.16" x2="681.60" y2="239.16" stroke="#3a3a3a" stroke-width="1"/>
<line x1="402.00" y1="264.18" x2="404.80" y2="264.18" stroke="#3a3a3a" stroke-width="1"/>
<line x1="678.80" y1="264.18" x2="681.60" y2="264.18" stroke="#3a3a3a" stroke-width="1"/>
<line x1="402.00" y1="289.20" x2="404.80" y2="289.20" stroke="#3a3a3a" stroke-width="1"/>
<line x1="678.80" y1="289.20" x2="681.60" y2="289.20" stroke="#3a3a3a" stroke-width="1"/>
<line x1="402.00" y1="289.20" x2="402.00" y2="286.40" stroke="#3a3a3a" stroke-width="1"/>
<line x1="402.00" y1="176.60" x2="402.00" y2="179.40" stroke="#3a3a3a" stroke-width="1"/>
<line x1="489.38" y1="289.20" x2="489.38" y2="286.40" stroke="#3a3a3a" stroke-width="1"/>
<line x1="489.38" y1="176.60" x2="489.38" y2="179.40" stroke="#3a3a3a" stroke-width="1"/>
<line x1="576.75" y1="289.20" x2="576.75" y2="286.40" stroke="#3a3a3a" stroke-width="1"/>
<line x1="576.75" y1="176.60" x2="576.75" y2="179.40" stroke="#3a3a3a" stroke-width="1"/>
<line x1="664.12" y1="289.20" x2="664.12" y2="286.40" stroke="#3a3a3a" stroke-width="1"/>
<line x1="664.12" y1="176.60" x2="664.12" y2="179.40" stroke="#3a3a3a" stroke-width="1"/>
<rect x="402.00" y="176.60" width="279.60" height="112.60" fill="none" stroke="#262626" stroke-width="1.1"/>
<text x="399.40" y="193.51" text-anchor="end" font-size="12.5">0.04</text>
<text x="399.40" y="218.53" text-anchor="end" font-size="12.5">0.02</text>
<text x="399.40" y="243.56" text-anchor="end" font-size="12.5">0</text>
<text x="399.40" y="268.58" text-anchor="end" font-size="12.5">−0.02</text>
<text x="399.40" y="293.60" text-anchor="end" font-size="12.5">−0.04</text>
<text x="402.00" y="303.40" text-anchor="middle" font-size="12.5">0</text>
<text x="489.38" y="303.40" text-anchor="middle" font-size="12.5">5000</text>
<text x="576.75" y="303.40" text-anchor="middle" font-size="12.5">10000</text>
<text x="664.12" y="303.40" text-anchor="middle" font-size="12.5">15000</text>
<text x="181.4" y="12.0" text-anchor="middle" font-size="12.9">GLONASS</text>
<text x="522.0" y="12.0" text-anchor="middle" font-size="12.9">GPS</text>
<text x="191.6" y="318.9" text-anchor="middle" font-size="12.9"># epochs</text>
<text x="525.1" y="318.9" text-anchor="middle" font-size="12.9"># epochs</text>
<text transform="translate(10.8,81.05) rotate(-90)" text-anchor="middle" font-size="12.9">DD code multipath [m]</text>
<text transform="translate(12.8,234.5) rotate(-90)" text-anchor="middle" font-size="12.9">DD phase multipath [m]</text>
<rect x="255.60" y="24.60" width="75.50" height="41.20" fill="#fff" stroke="#262626" stroke-width="1.1"/>
<line x1="260.50" y1="32.70" x2="287.60" y2="32.70" stroke="#0000ff" stroke-width="1.2"/>
<text x="290.60" y="36.90" font-size="10.6">DOY 13</text>
<line x1="260.50" y1="45.40" x2="287.60" y2="45.40" stroke="#ff0000" stroke-width="1.2"/>
<text x="290.60" y="49.60" font-size="10.6">DOY 21</text>
<line x1="260.50" y1="59.00" x2="287.60" y2="59.00" stroke="#66ff66" stroke-width="1.2"/>
<text x="290.60" y="63.20" font-size="10.6">DOY 37</text>
<rect x="597.40" y="23.40" width="76.20" height="42.30" fill="#fff" stroke="#262626" stroke-width="1.1"/>
<line x1="603.40" y1="32.10" x2="630.00" y2="32.10" stroke="#0000ff" stroke-width="1.2"/>
<text x="633.30" y="36.30" font-size="10.6">DOY 13</text>
<line x1="603.40" y1="44.60" x2="630.00" y2="44.60" stroke="#ff0000" stroke-width="1.2"/>
<text x="633.30" y="48.80" font-size="10.6">DOY 21</text>
<line x1="603.40" y1="58.10" x2="630.00" y2="58.10" stroke="#55ff55" stroke-width="1.2"/>
<text x="633.30" y="62.30" font-size="10.6">DOY 37</text>
<rect x="261.00" y="182.50" width="73.60" height="40.60" fill="#fff" stroke="#262626" stroke-width="1.1"/>
<line x1="266.00" y1="190.00" x2="292.00" y2="190.00" stroke="#0000ff" stroke-width="1.2"/>
<text x="294.60" y="194.20" font-size="10.6">DOY 13</text>
<line x1="266.00" y1="202.40" x2="292.00" y2="202.40" stroke="#ff8080" stroke-width="1.2"/>
<text x="294.60" y="206.60" font-size="10.6">DOY 21</text>
<line x1="266.00" y1="215.00" x2="292.00" y2="215.00" stroke="#70f070" stroke-width="1.2"/>
<text x="294.60" y="219.20" font-size="10.6">DOY 37</text>
<rect x="604.40" y="181.00" width="73.40" height="40.80" fill="#fff" stroke="#262626" stroke-width="1.1"/>
<line x1="610.00" y1="188.60" x2="635.30" y2="188.60" stroke="#0000ff" stroke-width="1.2"/>
<text x="638.40" y="192.80" font-size="10.6">DOY 13</text>
<line x1="610.00" y1="201.40" x2="635.30" y2="201.40" stroke="#ff8080" stroke-width="1.2"/>
<text x="638.40" y="205.60" font-size="10.6">DOY 21</text>
<line x1="610.00" y1="213.80" x2="635.30" y2="213.80" stroke="#70f070" stroke-width="1.2"/>
<text x="638.40" y="218.00" font-size="10.6">DOY 37</text>
</svg>
</body></html>
